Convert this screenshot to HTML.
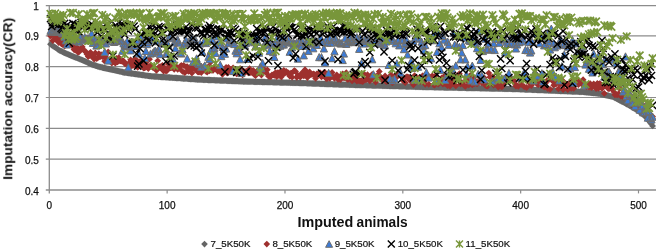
<!DOCTYPE html>
<html><head><meta charset="utf-8"><style>
html,body{margin:0;padding:0;background:#fff;}
body{width:656px;height:251px;overflow:hidden;font-family:"Liberation Sans",sans-serif;}
svg{display:block;}
.t{opacity:0.999;will-change:transform;}
</style></head><body>
<svg width="656" height="251" viewBox="0 0 656 251">
<line x1="45.8" y1="5.60" x2="656" y2="5.60" stroke="#8c8c8c" stroke-width="1.2"/><line x1="45.8" y1="35.83" x2="656" y2="35.83" stroke="#8c8c8c" stroke-width="1.2"/><line x1="45.8" y1="66.67" x2="656" y2="66.67" stroke="#8c8c8c" stroke-width="1.2"/><line x1="45.8" y1="97.50" x2="656" y2="97.50" stroke="#8c8c8c" stroke-width="1.2"/><line x1="45.8" y1="128.33" x2="656" y2="128.33" stroke="#8c8c8c" stroke-width="1.2"/><line x1="45.8" y1="159.17" x2="656" y2="159.17" stroke="#8c8c8c" stroke-width="1.2"/><line x1="49.30" y1="5.0" x2="49.30" y2="193.4" stroke="#8c8c8c" stroke-width="1.3"/><line x1="45.8" y1="190" x2="656" y2="190" stroke="#8c8c8c" stroke-width="1.3"/><line x1="167.14" y1="190" x2="167.14" y2="193.4" stroke="#8c8c8c" stroke-width="1.2"/><line x1="284.98" y1="190" x2="284.98" y2="193.4" stroke="#8c8c8c" stroke-width="1.2"/><line x1="402.82" y1="190" x2="402.82" y2="193.4" stroke="#8c8c8c" stroke-width="1.2"/><line x1="520.66" y1="190" x2="520.66" y2="193.4" stroke="#8c8c8c" stroke-width="1.2"/><line x1="638.50" y1="190" x2="638.50" y2="193.4" stroke="#8c8c8c" stroke-width="1.2"/><path fill="#656565" d="M50.5 40.8l3.4 3.4l-3.4 3.4l-3.4 -3.4zM51.7 41.6l3.4 3.4l-3.4 3.4l-3.4 -3.4zM52.8 42.4l3.4 3.4l-3.4 3.4l-3.4 -3.4zM54 43.2l3.4 3.4l-3.4 3.4l-3.4 -3.4zM55.2 44l3.4 3.4l-3.4 3.4l-3.4 -3.4zM56.4 44.8l3.4 3.4l-3.4 3.4l-3.4 -3.4zM57.5 45.6l3.4 3.4l-3.4 3.4l-3.4 -3.4zM58.7 46.4l3.4 3.4l-3.4 3.4l-3.4 -3.4zM59.9 47.2l3.4 3.4l-3.4 3.4l-3.4 -3.4zM61.1 47.8l3.4 3.4l-3.4 3.4l-3.4 -3.4zM62.3 48.3l3.4 3.4l-3.4 3.4l-3.4 -3.4zM63.4 48.9l3.4 3.4l-3.4 3.4l-3.4 -3.4zM64.6 49.4l3.4 3.4l-3.4 3.4l-3.4 -3.4zM65.8 49.9l3.4 3.4l-3.4 3.4l-3.4 -3.4zM67 50.5l3.4 3.4l-3.4 3.4l-3.4 -3.4zM68.2 51l3.4 3.4l-3.4 3.4l-3.4 -3.4zM69.3 51.5l3.4 3.4l-3.4 3.4l-3.4 -3.4zM70.5 52l3.4 3.4l-3.4 3.4l-3.4 -3.4zM71.7 52.5l3.4 3.4l-3.4 3.4l-3.4 -3.4zM72.9 52.9l3.4 3.4l-3.4 3.4l-3.4 -3.4zM74 53.4l3.4 3.4l-3.4 3.4l-3.4 -3.4zM75.2 53.9l3.4 3.4l-3.4 3.4l-3.4 -3.4zM76.4 54.3l3.4 3.4l-3.4 3.4l-3.4 -3.4zM77.6 54.8l3.4 3.4l-3.4 3.4l-3.4 -3.4zM78.8 55.3l3.4 3.4l-3.4 3.4l-3.4 -3.4zM79.9 55.8l3.4 3.4l-3.4 3.4l-3.4 -3.4zM81.1 56.3l3.4 3.4l-3.4 3.4l-3.4 -3.4zM82.3 56.8l3.4 3.4l-3.4 3.4l-3.4 -3.4zM83.5 57.3l3.4 3.4l-3.4 3.4l-3.4 -3.4zM84.7 57.8l3.4 3.4l-3.4 3.4l-3.4 -3.4zM85.8 58.3l3.4 3.4l-3.4 3.4l-3.4 -3.4zM87 58.8l3.4 3.4l-3.4 3.4l-3.4 -3.4zM88.2 59.4l3.4 3.4l-3.4 3.4l-3.4 -3.4zM89.4 59.9l3.4 3.4l-3.4 3.4l-3.4 -3.4zM90.5 60.4l3.4 3.4l-3.4 3.4l-3.4 -3.4zM91.7 60.9l3.4 3.4l-3.4 3.4l-3.4 -3.4zM92.9 61.4l3.4 3.4l-3.4 3.4l-3.4 -3.4zM94.1 61.8l3.4 3.4l-3.4 3.4l-3.4 -3.4zM95.3 62.1l3.4 3.4l-3.4 3.4l-3.4 -3.4zM96.4 62.5l3.4 3.4l-3.4 3.4l-3.4 -3.4zM97.6 62.9l3.4 3.4l-3.4 3.4l-3.4 -3.4zM98.8 63.2l3.4 3.4l-3.4 3.4l-3.4 -3.4zM100 63.6l3.4 3.4l-3.4 3.4l-3.4 -3.4zM101.1 63.8l3.4 3.4l-3.4 3.4l-3.4 -3.4zM102.3 64.1l3.4 3.4l-3.4 3.4l-3.4 -3.4zM103.5 64.4l3.4 3.4l-3.4 3.4l-3.4 -3.4zM104.7 64.6l3.4 3.4l-3.4 3.4l-3.4 -3.4zM105.9 64.9l3.4 3.4l-3.4 3.4l-3.4 -3.4zM107 65.2l3.4 3.4l-3.4 3.4l-3.4 -3.4zM108.2 65.4l3.4 3.4l-3.4 3.4l-3.4 -3.4zM109.4 65.7l3.4 3.4l-3.4 3.4l-3.4 -3.4zM110.6 66l3.4 3.4l-3.4 3.4l-3.4 -3.4zM111.8 66.2l3.4 3.4l-3.4 3.4l-3.4 -3.4zM112.9 66.5l3.4 3.4l-3.4 3.4l-3.4 -3.4zM114.1 66.7l3.4 3.4l-3.4 3.4l-3.4 -3.4zM115.3 67l3.4 3.4l-3.4 3.4l-3.4 -3.4zM116.5 67.3l3.4 3.4l-3.4 3.4l-3.4 -3.4zM117.6 67.5l3.4 3.4l-3.4 3.4l-3.4 -3.4zM118.8 67.8l3.4 3.4l-3.4 3.4l-3.4 -3.4zM120 68.1l3.4 3.4l-3.4 3.4l-3.4 -3.4zM121.2 68.3l3.4 3.4l-3.4 3.4l-3.4 -3.4zM122.4 68.6l3.4 3.4l-3.4 3.4l-3.4 -3.4zM123.5 68.9l3.4 3.4l-3.4 3.4l-3.4 -3.4zM124.7 69.1l3.4 3.4l-3.4 3.4l-3.4 -3.4zM125.9 69.3l3.4 3.4l-3.4 3.4l-3.4 -3.4zM127.1 69.5l3.4 3.4l-3.4 3.4l-3.4 -3.4zM128.3 69.6l3.4 3.4l-3.4 3.4l-3.4 -3.4zM129.4 69.8l3.4 3.4l-3.4 3.4l-3.4 -3.4zM130.6 70l3.4 3.4l-3.4 3.4l-3.4 -3.4zM131.8 70.1l3.4 3.4l-3.4 3.4l-3.4 -3.4zM133 70.3l3.4 3.4l-3.4 3.4l-3.4 -3.4zM134.1 70.5l3.4 3.4l-3.4 3.4l-3.4 -3.4zM135.3 70.6l3.4 3.4l-3.4 3.4l-3.4 -3.4zM136.5 70.8l3.4 3.4l-3.4 3.4l-3.4 -3.4zM137.7 71l3.4 3.4l-3.4 3.4l-3.4 -3.4zM138.9 71.1l3.4 3.4l-3.4 3.4l-3.4 -3.4zM140 71.3l3.4 3.4l-3.4 3.4l-3.4 -3.4zM141.2 71.5l3.4 3.4l-3.4 3.4l-3.4 -3.4zM142.4 71.6l3.4 3.4l-3.4 3.4l-3.4 -3.4zM143.6 71.8l3.4 3.4l-3.4 3.4l-3.4 -3.4zM144.8 72l3.4 3.4l-3.4 3.4l-3.4 -3.4zM145.9 72.2l3.4 3.4l-3.4 3.4l-3.4 -3.4zM147.1 72.3l3.4 3.4l-3.4 3.4l-3.4 -3.4zM148.3 72.5l3.4 3.4l-3.4 3.4l-3.4 -3.4zM149.5 72.7l3.4 3.4l-3.4 3.4l-3.4 -3.4zM150.6 72.8l3.4 3.4l-3.4 3.4l-3.4 -3.4zM151.8 72.9l3.4 3.4l-3.4 3.4l-3.4 -3.4zM153 73l3.4 3.4l-3.4 3.4l-3.4 -3.4zM154.2 73.1l3.4 3.4l-3.4 3.4l-3.4 -3.4zM155.4 73.1l3.4 3.4l-3.4 3.4l-3.4 -3.4zM156.5 73.2l3.4 3.4l-3.4 3.4l-3.4 -3.4zM157.7 73.3l3.4 3.4l-3.4 3.4l-3.4 -3.4zM158.9 73.4l3.4 3.4l-3.4 3.4l-3.4 -3.4zM160.1 73.5l3.4 3.4l-3.4 3.4l-3.4 -3.4zM161.2 73.6l3.4 3.4l-3.4 3.4l-3.4 -3.4zM162.4 73.6l3.4 3.4l-3.4 3.4l-3.4 -3.4zM163.6 73.7l3.4 3.4l-3.4 3.4l-3.4 -3.4zM164.8 73.8l3.4 3.4l-3.4 3.4l-3.4 -3.4zM166 73.9l3.4 3.4l-3.4 3.4l-3.4 -3.4zM167.1 74l3.4 3.4l-3.4 3.4l-3.4 -3.4zM168.3 74l3.4 3.4l-3.4 3.4l-3.4 -3.4zM169.5 74.1l3.4 3.4l-3.4 3.4l-3.4 -3.4zM170.7 74.2l3.4 3.4l-3.4 3.4l-3.4 -3.4zM171.9 74.3l3.4 3.4l-3.4 3.4l-3.4 -3.4zM173 74.4l3.4 3.4l-3.4 3.4l-3.4 -3.4zM174.2 74.4l3.4 3.4l-3.4 3.4l-3.4 -3.4zM175.4 74.5l3.4 3.4l-3.4 3.4l-3.4 -3.4zM176.6 74.6l3.4 3.4l-3.4 3.4l-3.4 -3.4zM177.7 74.7l3.4 3.4l-3.4 3.4l-3.4 -3.4zM178.9 74.8l3.4 3.4l-3.4 3.4l-3.4 -3.4zM180.1 74.8l3.4 3.4l-3.4 3.4l-3.4 -3.4zM181.3 74.9l3.4 3.4l-3.4 3.4l-3.4 -3.4zM182.5 75l3.4 3.4l-3.4 3.4l-3.4 -3.4zM183.6 75.1l3.4 3.4l-3.4 3.4l-3.4 -3.4zM184.8 75.2l3.4 3.4l-3.4 3.4l-3.4 -3.4zM186 75.2l3.4 3.4l-3.4 3.4l-3.4 -3.4zM187.2 75.3l3.4 3.4l-3.4 3.4l-3.4 -3.4zM188.4 75.4l3.4 3.4l-3.4 3.4l-3.4 -3.4zM189.5 75.5l3.4 3.4l-3.4 3.4l-3.4 -3.4zM190.7 75.6l3.4 3.4l-3.4 3.4l-3.4 -3.4zM191.9 75.7l3.4 3.4l-3.4 3.4l-3.4 -3.4zM193.1 75.7l3.4 3.4l-3.4 3.4l-3.4 -3.4zM194.2 75.8l3.4 3.4l-3.4 3.4l-3.4 -3.4zM195.4 75.9l3.4 3.4l-3.4 3.4l-3.4 -3.4zM196.6 76l3.4 3.4l-3.4 3.4l-3.4 -3.4zM197.8 76.1l3.4 3.4l-3.4 3.4l-3.4 -3.4zM199 76.1l3.4 3.4l-3.4 3.4l-3.4 -3.4zM200.1 76.2l3.4 3.4l-3.4 3.4l-3.4 -3.4zM201.3 76.3l3.4 3.4l-3.4 3.4l-3.4 -3.4zM202.5 76.3l3.4 3.4l-3.4 3.4l-3.4 -3.4zM203.7 76.4l3.4 3.4l-3.4 3.4l-3.4 -3.4zM204.8 76.4l3.4 3.4l-3.4 3.4l-3.4 -3.4zM206 76.5l3.4 3.4l-3.4 3.4l-3.4 -3.4zM207.2 76.5l3.4 3.4l-3.4 3.4l-3.4 -3.4zM208.4 76.6l3.4 3.4l-3.4 3.4l-3.4 -3.4zM209.6 76.6l3.4 3.4l-3.4 3.4l-3.4 -3.4zM210.7 76.7l3.4 3.4l-3.4 3.4l-3.4 -3.4zM211.9 76.7l3.4 3.4l-3.4 3.4l-3.4 -3.4zM213.1 76.8l3.4 3.4l-3.4 3.4l-3.4 -3.4zM214.3 76.8l3.4 3.4l-3.4 3.4l-3.4 -3.4zM215.5 76.9l3.4 3.4l-3.4 3.4l-3.4 -3.4zM216.6 76.9l3.4 3.4l-3.4 3.4l-3.4 -3.4zM217.8 77l3.4 3.4l-3.4 3.4l-3.4 -3.4zM219 77l3.4 3.4l-3.4 3.4l-3.4 -3.4zM220.2 77.1l3.4 3.4l-3.4 3.4l-3.4 -3.4zM221.3 77.1l3.4 3.4l-3.4 3.4l-3.4 -3.4zM222.5 77.2l3.4 3.4l-3.4 3.4l-3.4 -3.4zM223.7 77.2l3.4 3.4l-3.4 3.4l-3.4 -3.4zM224.9 77.3l3.4 3.4l-3.4 3.4l-3.4 -3.4zM226.1 77.3l3.4 3.4l-3.4 3.4l-3.4 -3.4zM227.2 77.4l3.4 3.4l-3.4 3.4l-3.4 -3.4zM228.4 77.4l3.4 3.4l-3.4 3.4l-3.4 -3.4zM229.6 77.5l3.4 3.4l-3.4 3.4l-3.4 -3.4zM230.8 77.5l3.4 3.4l-3.4 3.4l-3.4 -3.4zM232 77.6l3.4 3.4l-3.4 3.4l-3.4 -3.4zM233.1 77.6l3.4 3.4l-3.4 3.4l-3.4 -3.4zM234.3 77.7l3.4 3.4l-3.4 3.4l-3.4 -3.4zM235.5 77.7l3.4 3.4l-3.4 3.4l-3.4 -3.4zM236.7 77.8l3.4 3.4l-3.4 3.4l-3.4 -3.4zM237.8 77.8l3.4 3.4l-3.4 3.4l-3.4 -3.4zM239 77.9l3.4 3.4l-3.4 3.4l-3.4 -3.4zM240.2 77.9l3.4 3.4l-3.4 3.4l-3.4 -3.4zM241.4 78l3.4 3.4l-3.4 3.4l-3.4 -3.4zM242.6 78l3.4 3.4l-3.4 3.4l-3.4 -3.4zM243.7 78.1l3.4 3.4l-3.4 3.4l-3.4 -3.4zM244.9 78.1l3.4 3.4l-3.4 3.4l-3.4 -3.4zM246.1 78.1l3.4 3.4l-3.4 3.4l-3.4 -3.4zM247.3 78.2l3.4 3.4l-3.4 3.4l-3.4 -3.4zM248.4 78.2l3.4 3.4l-3.4 3.4l-3.4 -3.4zM249.6 78.2l3.4 3.4l-3.4 3.4l-3.4 -3.4zM250.8 78.3l3.4 3.4l-3.4 3.4l-3.4 -3.4zM252 78.3l3.4 3.4l-3.4 3.4l-3.4 -3.4zM253.2 78.3l3.4 3.4l-3.4 3.4l-3.4 -3.4zM254.3 78.4l3.4 3.4l-3.4 3.4l-3.4 -3.4zM255.5 78.4l3.4 3.4l-3.4 3.4l-3.4 -3.4zM256.7 78.4l3.4 3.4l-3.4 3.4l-3.4 -3.4zM257.9 78.5l3.4 3.4l-3.4 3.4l-3.4 -3.4zM259.1 78.5l3.4 3.4l-3.4 3.4l-3.4 -3.4zM260.2 78.5l3.4 3.4l-3.4 3.4l-3.4 -3.4zM261.4 78.5l3.4 3.4l-3.4 3.4l-3.4 -3.4zM262.6 78.6l3.4 3.4l-3.4 3.4l-3.4 -3.4zM263.8 78.6l3.4 3.4l-3.4 3.4l-3.4 -3.4zM264.9 78.6l3.4 3.4l-3.4 3.4l-3.4 -3.4zM266.1 78.7l3.4 3.4l-3.4 3.4l-3.4 -3.4zM267.3 78.7l3.4 3.4l-3.4 3.4l-3.4 -3.4zM268.5 78.7l3.4 3.4l-3.4 3.4l-3.4 -3.4zM269.7 78.8l3.4 3.4l-3.4 3.4l-3.4 -3.4zM270.8 78.8l3.4 3.4l-3.4 3.4l-3.4 -3.4zM272 78.8l3.4 3.4l-3.4 3.4l-3.4 -3.4zM273.2 78.9l3.4 3.4l-3.4 3.4l-3.4 -3.4zM274.4 78.9l3.4 3.4l-3.4 3.4l-3.4 -3.4zM275.6 78.9l3.4 3.4l-3.4 3.4l-3.4 -3.4zM276.7 79l3.4 3.4l-3.4 3.4l-3.4 -3.4zM277.9 79l3.4 3.4l-3.4 3.4l-3.4 -3.4zM279.1 79l3.4 3.4l-3.4 3.4l-3.4 -3.4zM280.3 79.1l3.4 3.4l-3.4 3.4l-3.4 -3.4zM281.4 79.1l3.4 3.4l-3.4 3.4l-3.4 -3.4zM282.6 79.1l3.4 3.4l-3.4 3.4l-3.4 -3.4zM283.8 79.2l3.4 3.4l-3.4 3.4l-3.4 -3.4zM285 79.2l3.4 3.4l-3.4 3.4l-3.4 -3.4zM286.2 79.2l3.4 3.4l-3.4 3.4l-3.4 -3.4zM287.3 79.3l3.4 3.4l-3.4 3.4l-3.4 -3.4zM288.5 79.3l3.4 3.4l-3.4 3.4l-3.4 -3.4zM289.7 79.3l3.4 3.4l-3.4 3.4l-3.4 -3.4zM290.9 79.4l3.4 3.4l-3.4 3.4l-3.4 -3.4zM292.1 79.4l3.4 3.4l-3.4 3.4l-3.4 -3.4zM293.2 79.4l3.4 3.4l-3.4 3.4l-3.4 -3.4zM294.4 79.4l3.4 3.4l-3.4 3.4l-3.4 -3.4zM295.6 79.5l3.4 3.4l-3.4 3.4l-3.4 -3.4zM296.8 79.5l3.4 3.4l-3.4 3.4l-3.4 -3.4zM297.9 79.5l3.4 3.4l-3.4 3.4l-3.4 -3.4zM299.1 79.6l3.4 3.4l-3.4 3.4l-3.4 -3.4zM300.3 79.6l3.4 3.4l-3.4 3.4l-3.4 -3.4zM301.5 79.7l3.4 3.4l-3.4 3.4l-3.4 -3.4zM302.7 79.7l3.4 3.4l-3.4 3.4l-3.4 -3.4zM303.8 79.7l3.4 3.4l-3.4 3.4l-3.4 -3.4zM305 79.8l3.4 3.4l-3.4 3.4l-3.4 -3.4zM306.2 79.8l3.4 3.4l-3.4 3.4l-3.4 -3.4zM307.4 79.9l3.4 3.4l-3.4 3.4l-3.4 -3.4zM308.5 79.9l3.4 3.4l-3.4 3.4l-3.4 -3.4zM309.7 80l3.4 3.4l-3.4 3.4l-3.4 -3.4zM310.9 80l3.4 3.4l-3.4 3.4l-3.4 -3.4zM312.1 80.1l3.4 3.4l-3.4 3.4l-3.4 -3.4zM313.3 80.1l3.4 3.4l-3.4 3.4l-3.4 -3.4zM314.4 80.2l3.4 3.4l-3.4 3.4l-3.4 -3.4zM315.6 80.2l3.4 3.4l-3.4 3.4l-3.4 -3.4zM316.8 80.2l3.4 3.4l-3.4 3.4l-3.4 -3.4zM318 80.3l3.4 3.4l-3.4 3.4l-3.4 -3.4zM319.2 80.3l3.4 3.4l-3.4 3.4l-3.4 -3.4zM320.3 80.4l3.4 3.4l-3.4 3.4l-3.4 -3.4zM321.5 80.4l3.4 3.4l-3.4 3.4l-3.4 -3.4zM322.7 80.5l3.4 3.4l-3.4 3.4l-3.4 -3.4zM323.9 80.5l3.4 3.4l-3.4 3.4l-3.4 -3.4zM325 80.6l3.4 3.4l-3.4 3.4l-3.4 -3.4zM326.2 80.6l3.4 3.4l-3.4 3.4l-3.4 -3.4zM327.4 80.7l3.4 3.4l-3.4 3.4l-3.4 -3.4zM328.6 80.7l3.4 3.4l-3.4 3.4l-3.4 -3.4zM329.8 80.8l3.4 3.4l-3.4 3.4l-3.4 -3.4zM330.9 80.8l3.4 3.4l-3.4 3.4l-3.4 -3.4zM332.1 80.8l3.4 3.4l-3.4 3.4l-3.4 -3.4zM333.3 80.9l3.4 3.4l-3.4 3.4l-3.4 -3.4zM334.5 80.9l3.4 3.4l-3.4 3.4l-3.4 -3.4zM335.7 80.9l3.4 3.4l-3.4 3.4l-3.4 -3.4zM336.8 81l3.4 3.4l-3.4 3.4l-3.4 -3.4zM338 81l3.4 3.4l-3.4 3.4l-3.4 -3.4zM339.2 81.1l3.4 3.4l-3.4 3.4l-3.4 -3.4zM340.4 81.1l3.4 3.4l-3.4 3.4l-3.4 -3.4zM341.5 81.1l3.4 3.4l-3.4 3.4l-3.4 -3.4zM342.7 81.2l3.4 3.4l-3.4 3.4l-3.4 -3.4zM343.9 81.2l3.4 3.4l-3.4 3.4l-3.4 -3.4zM345.1 81.2l3.4 3.4l-3.4 3.4l-3.4 -3.4zM346.3 81.3l3.4 3.4l-3.4 3.4l-3.4 -3.4zM347.4 81.3l3.4 3.4l-3.4 3.4l-3.4 -3.4zM348.6 81.3l3.4 3.4l-3.4 3.4l-3.4 -3.4zM349.8 81.4l3.4 3.4l-3.4 3.4l-3.4 -3.4zM351 81.4l3.4 3.4l-3.4 3.4l-3.4 -3.4zM352.1 81.4l3.4 3.4l-3.4 3.4l-3.4 -3.4zM353.3 81.5l3.4 3.4l-3.4 3.4l-3.4 -3.4zM354.5 81.5l3.4 3.4l-3.4 3.4l-3.4 -3.4zM355.7 81.6l3.4 3.4l-3.4 3.4l-3.4 -3.4zM356.9 81.6l3.4 3.4l-3.4 3.4l-3.4 -3.4zM358 81.6l3.4 3.4l-3.4 3.4l-3.4 -3.4zM359.2 81.7l3.4 3.4l-3.4 3.4l-3.4 -3.4zM360.4 81.7l3.4 3.4l-3.4 3.4l-3.4 -3.4zM361.6 81.7l3.4 3.4l-3.4 3.4l-3.4 -3.4zM362.8 81.8l3.4 3.4l-3.4 3.4l-3.4 -3.4zM363.9 81.8l3.4 3.4l-3.4 3.4l-3.4 -3.4zM365.1 81.8l3.4 3.4l-3.4 3.4l-3.4 -3.4zM366.3 81.9l3.4 3.4l-3.4 3.4l-3.4 -3.4zM367.5 81.9l3.4 3.4l-3.4 3.4l-3.4 -3.4zM368.6 81.9l3.4 3.4l-3.4 3.4l-3.4 -3.4zM369.8 82l3.4 3.4l-3.4 3.4l-3.4 -3.4zM371 82l3.4 3.4l-3.4 3.4l-3.4 -3.4zM372.2 82.1l3.4 3.4l-3.4 3.4l-3.4 -3.4zM373.4 82.1l3.4 3.4l-3.4 3.4l-3.4 -3.4zM374.5 82.1l3.4 3.4l-3.4 3.4l-3.4 -3.4zM375.7 82.2l3.4 3.4l-3.4 3.4l-3.4 -3.4zM376.9 82.2l3.4 3.4l-3.4 3.4l-3.4 -3.4zM378.1 82.2l3.4 3.4l-3.4 3.4l-3.4 -3.4zM379.3 82.3l3.4 3.4l-3.4 3.4l-3.4 -3.4zM380.4 82.3l3.4 3.4l-3.4 3.4l-3.4 -3.4zM381.6 82.3l3.4 3.4l-3.4 3.4l-3.4 -3.4zM382.8 82.4l3.4 3.4l-3.4 3.4l-3.4 -3.4zM384 82.4l3.4 3.4l-3.4 3.4l-3.4 -3.4zM385.1 82.4l3.4 3.4l-3.4 3.4l-3.4 -3.4zM386.3 82.5l3.4 3.4l-3.4 3.4l-3.4 -3.4zM387.5 82.5l3.4 3.4l-3.4 3.4l-3.4 -3.4zM388.7 82.5l3.4 3.4l-3.4 3.4l-3.4 -3.4zM389.9 82.6l3.4 3.4l-3.4 3.4l-3.4 -3.4zM391 82.6l3.4 3.4l-3.4 3.4l-3.4 -3.4zM392.2 82.7l3.4 3.4l-3.4 3.4l-3.4 -3.4zM393.4 82.7l3.4 3.4l-3.4 3.4l-3.4 -3.4zM394.6 82.7l3.4 3.4l-3.4 3.4l-3.4 -3.4zM395.7 82.8l3.4 3.4l-3.4 3.4l-3.4 -3.4zM396.9 82.8l3.4 3.4l-3.4 3.4l-3.4 -3.4zM398.1 82.8l3.4 3.4l-3.4 3.4l-3.4 -3.4zM399.3 82.9l3.4 3.4l-3.4 3.4l-3.4 -3.4zM400.5 82.9l3.4 3.4l-3.4 3.4l-3.4 -3.4zM401.6 82.9l3.4 3.4l-3.4 3.4l-3.4 -3.4zM402.8 83l3.4 3.4l-3.4 3.4l-3.4 -3.4zM404 83l3.4 3.4l-3.4 3.4l-3.4 -3.4zM405.2 83l3.4 3.4l-3.4 3.4l-3.4 -3.4zM406.4 83.1l3.4 3.4l-3.4 3.4l-3.4 -3.4zM407.5 83.1l3.4 3.4l-3.4 3.4l-3.4 -3.4zM408.7 83.2l3.4 3.4l-3.4 3.4l-3.4 -3.4zM409.9 83.2l3.4 3.4l-3.4 3.4l-3.4 -3.4zM411.1 83.2l3.4 3.4l-3.4 3.4l-3.4 -3.4zM412.2 83.3l3.4 3.4l-3.4 3.4l-3.4 -3.4zM413.4 83.3l3.4 3.4l-3.4 3.4l-3.4 -3.4zM414.6 83.3l3.4 3.4l-3.4 3.4l-3.4 -3.4zM415.8 83.4l3.4 3.4l-3.4 3.4l-3.4 -3.4zM417 83.4l3.4 3.4l-3.4 3.4l-3.4 -3.4zM418.1 83.4l3.4 3.4l-3.4 3.4l-3.4 -3.4zM419.3 83.5l3.4 3.4l-3.4 3.4l-3.4 -3.4zM420.5 83.5l3.4 3.4l-3.4 3.4l-3.4 -3.4zM421.7 83.5l3.4 3.4l-3.4 3.4l-3.4 -3.4zM422.9 83.6l3.4 3.4l-3.4 3.4l-3.4 -3.4zM424 83.6l3.4 3.4l-3.4 3.4l-3.4 -3.4zM425.2 83.6l3.4 3.4l-3.4 3.4l-3.4 -3.4zM426.4 83.7l3.4 3.4l-3.4 3.4l-3.4 -3.4zM427.6 83.7l3.4 3.4l-3.4 3.4l-3.4 -3.4zM428.7 83.7l3.4 3.4l-3.4 3.4l-3.4 -3.4zM429.9 83.7l3.4 3.4l-3.4 3.4l-3.4 -3.4zM431.1 83.8l3.4 3.4l-3.4 3.4l-3.4 -3.4zM432.3 83.8l3.4 3.4l-3.4 3.4l-3.4 -3.4zM433.5 83.8l3.4 3.4l-3.4 3.4l-3.4 -3.4zM434.6 83.9l3.4 3.4l-3.4 3.4l-3.4 -3.4zM435.8 83.9l3.4 3.4l-3.4 3.4l-3.4 -3.4zM437 83.9l3.4 3.4l-3.4 3.4l-3.4 -3.4zM438.2 83.9l3.4 3.4l-3.4 3.4l-3.4 -3.4zM439.4 84l3.4 3.4l-3.4 3.4l-3.4 -3.4zM440.5 84l3.4 3.4l-3.4 3.4l-3.4 -3.4zM441.7 84l3.4 3.4l-3.4 3.4l-3.4 -3.4zM442.9 84l3.4 3.4l-3.4 3.4l-3.4 -3.4zM444.1 84.1l3.4 3.4l-3.4 3.4l-3.4 -3.4zM445.2 84.1l3.4 3.4l-3.4 3.4l-3.4 -3.4zM446.4 84.1l3.4 3.4l-3.4 3.4l-3.4 -3.4zM447.6 84.1l3.4 3.4l-3.4 3.4l-3.4 -3.4zM448.8 84.2l3.4 3.4l-3.4 3.4l-3.4 -3.4zM450 84.2l3.4 3.4l-3.4 3.4l-3.4 -3.4zM451.1 84.2l3.4 3.4l-3.4 3.4l-3.4 -3.4zM452.3 84.2l3.4 3.4l-3.4 3.4l-3.4 -3.4zM453.5 84.3l3.4 3.4l-3.4 3.4l-3.4 -3.4zM454.7 84.3l3.4 3.4l-3.4 3.4l-3.4 -3.4zM455.8 84.3l3.4 3.4l-3.4 3.4l-3.4 -3.4zM457 84.3l3.4 3.4l-3.4 3.4l-3.4 -3.4zM458.2 84.4l3.4 3.4l-3.4 3.4l-3.4 -3.4zM459.4 84.4l3.4 3.4l-3.4 3.4l-3.4 -3.4zM460.6 84.4l3.4 3.4l-3.4 3.4l-3.4 -3.4zM461.7 84.4l3.4 3.4l-3.4 3.4l-3.4 -3.4zM462.9 84.5l3.4 3.4l-3.4 3.4l-3.4 -3.4zM464.1 84.5l3.4 3.4l-3.4 3.4l-3.4 -3.4zM465.3 84.5l3.4 3.4l-3.4 3.4l-3.4 -3.4zM466.5 84.6l3.4 3.4l-3.4 3.4l-3.4 -3.4zM467.6 84.6l3.4 3.4l-3.4 3.4l-3.4 -3.4zM468.8 84.6l3.4 3.4l-3.4 3.4l-3.4 -3.4zM470 84.6l3.4 3.4l-3.4 3.4l-3.4 -3.4zM471.2 84.7l3.4 3.4l-3.4 3.4l-3.4 -3.4zM472.3 84.7l3.4 3.4l-3.4 3.4l-3.4 -3.4zM473.5 84.7l3.4 3.4l-3.4 3.4l-3.4 -3.4zM474.7 84.7l3.4 3.4l-3.4 3.4l-3.4 -3.4zM475.9 84.8l3.4 3.4l-3.4 3.4l-3.4 -3.4zM477.1 84.8l3.4 3.4l-3.4 3.4l-3.4 -3.4zM478.2 84.8l3.4 3.4l-3.4 3.4l-3.4 -3.4zM479.4 84.8l3.4 3.4l-3.4 3.4l-3.4 -3.4zM480.6 84.9l3.4 3.4l-3.4 3.4l-3.4 -3.4zM481.8 84.9l3.4 3.4l-3.4 3.4l-3.4 -3.4zM483 84.9l3.4 3.4l-3.4 3.4l-3.4 -3.4zM484.1 84.9l3.4 3.4l-3.4 3.4l-3.4 -3.4zM485.3 85l3.4 3.4l-3.4 3.4l-3.4 -3.4zM486.5 85l3.4 3.4l-3.4 3.4l-3.4 -3.4zM487.7 85l3.4 3.4l-3.4 3.4l-3.4 -3.4zM488.8 85l3.4 3.4l-3.4 3.4l-3.4 -3.4zM490 85.1l3.4 3.4l-3.4 3.4l-3.4 -3.4zM491.2 85.1l3.4 3.4l-3.4 3.4l-3.4 -3.4zM492.4 85.1l3.4 3.4l-3.4 3.4l-3.4 -3.4zM493.6 85.1l3.4 3.4l-3.4 3.4l-3.4 -3.4zM494.7 85.2l3.4 3.4l-3.4 3.4l-3.4 -3.4zM495.9 85.2l3.4 3.4l-3.4 3.4l-3.4 -3.4zM497.1 85.2l3.4 3.4l-3.4 3.4l-3.4 -3.4zM498.3 85.3l3.4 3.4l-3.4 3.4l-3.4 -3.4zM499.4 85.3l3.4 3.4l-3.4 3.4l-3.4 -3.4zM500.6 85.3l3.4 3.4l-3.4 3.4l-3.4 -3.4zM501.8 85.3l3.4 3.4l-3.4 3.4l-3.4 -3.4zM503 85.4l3.4 3.4l-3.4 3.4l-3.4 -3.4zM504.2 85.4l3.4 3.4l-3.4 3.4l-3.4 -3.4zM505.3 85.4l3.4 3.4l-3.4 3.4l-3.4 -3.4zM506.5 85.4l3.4 3.4l-3.4 3.4l-3.4 -3.4zM507.7 85.5l3.4 3.4l-3.4 3.4l-3.4 -3.4zM508.9 85.5l3.4 3.4l-3.4 3.4l-3.4 -3.4zM510.1 85.5l3.4 3.4l-3.4 3.4l-3.4 -3.4zM511.2 85.5l3.4 3.4l-3.4 3.4l-3.4 -3.4zM512.4 85.6l3.4 3.4l-3.4 3.4l-3.4 -3.4zM513.6 85.6l3.4 3.4l-3.4 3.4l-3.4 -3.4zM514.8 85.6l3.4 3.4l-3.4 3.4l-3.4 -3.4zM515.9 85.7l3.4 3.4l-3.4 3.4l-3.4 -3.4zM517.1 85.7l3.4 3.4l-3.4 3.4l-3.4 -3.4zM518.3 85.8l3.4 3.4l-3.4 3.4l-3.4 -3.4zM519.5 85.8l3.4 3.4l-3.4 3.4l-3.4 -3.4zM520.7 85.9l3.4 3.4l-3.4 3.4l-3.4 -3.4zM521.8 85.9l3.4 3.4l-3.4 3.4l-3.4 -3.4zM523 86l3.4 3.4l-3.4 3.4l-3.4 -3.4zM524.2 86l3.4 3.4l-3.4 3.4l-3.4 -3.4zM525.4 86.1l3.4 3.4l-3.4 3.4l-3.4 -3.4zM526.6 86.1l3.4 3.4l-3.4 3.4l-3.4 -3.4zM527.7 86.2l3.4 3.4l-3.4 3.4l-3.4 -3.4zM528.9 86.2l3.4 3.4l-3.4 3.4l-3.4 -3.4zM530.1 86.3l3.4 3.4l-3.4 3.4l-3.4 -3.4zM531.3 86.3l3.4 3.4l-3.4 3.4l-3.4 -3.4zM532.4 86.4l3.4 3.4l-3.4 3.4l-3.4 -3.4zM533.6 86.4l3.4 3.4l-3.4 3.4l-3.4 -3.4zM534.8 86.5l3.4 3.4l-3.4 3.4l-3.4 -3.4zM536 86.5l3.4 3.4l-3.4 3.4l-3.4 -3.4zM537.2 86.6l3.4 3.4l-3.4 3.4l-3.4 -3.4zM538.3 86.6l3.4 3.4l-3.4 3.4l-3.4 -3.4zM539.5 86.7l3.4 3.4l-3.4 3.4l-3.4 -3.4zM540.7 86.7l3.4 3.4l-3.4 3.4l-3.4 -3.4zM541.9 86.8l3.4 3.4l-3.4 3.4l-3.4 -3.4zM543 86.8l3.4 3.4l-3.4 3.4l-3.4 -3.4zM544.2 86.9l3.4 3.4l-3.4 3.4l-3.4 -3.4zM545.4 86.9l3.4 3.4l-3.4 3.4l-3.4 -3.4zM546.6 87l3.4 3.4l-3.4 3.4l-3.4 -3.4zM547.8 87l3.4 3.4l-3.4 3.4l-3.4 -3.4zM548.9 87.1l3.4 3.4l-3.4 3.4l-3.4 -3.4zM550.1 87.1l3.4 3.4l-3.4 3.4l-3.4 -3.4zM551.3 87.2l3.4 3.4l-3.4 3.4l-3.4 -3.4zM552.5 87.2l3.4 3.4l-3.4 3.4l-3.4 -3.4zM553.7 87.3l3.4 3.4l-3.4 3.4l-3.4 -3.4zM554.8 87.3l3.4 3.4l-3.4 3.4l-3.4 -3.4zM556 87.4l3.4 3.4l-3.4 3.4l-3.4 -3.4zM557.2 87.4l3.4 3.4l-3.4 3.4l-3.4 -3.4zM558.4 87.5l3.4 3.4l-3.4 3.4l-3.4 -3.4zM559.5 87.5l3.4 3.4l-3.4 3.4l-3.4 -3.4zM560.7 87.6l3.4 3.4l-3.4 3.4l-3.4 -3.4zM561.9 87.6l3.4 3.4l-3.4 3.4l-3.4 -3.4zM563.1 87.7l3.4 3.4l-3.4 3.4l-3.4 -3.4zM564.3 87.7l3.4 3.4l-3.4 3.4l-3.4 -3.4zM565.4 87.8l3.4 3.4l-3.4 3.4l-3.4 -3.4zM566.6 87.8l3.4 3.4l-3.4 3.4l-3.4 -3.4zM567.8 87.9l3.4 3.4l-3.4 3.4l-3.4 -3.4zM569 87.9l3.4 3.4l-3.4 3.4l-3.4 -3.4zM570.2 88l3.4 3.4l-3.4 3.4l-3.4 -3.4zM571.3 88l3.4 3.4l-3.4 3.4l-3.4 -3.4zM572.5 88.1l3.4 3.4l-3.4 3.4l-3.4 -3.4zM573.7 88.1l3.4 3.4l-3.4 3.4l-3.4 -3.4zM574.9 88.2l3.4 3.4l-3.4 3.4l-3.4 -3.4zM576 88.2l3.4 3.4l-3.4 3.4l-3.4 -3.4zM577.2 88.3l3.4 3.4l-3.4 3.4l-3.4 -3.4zM578.4 88.3l3.4 3.4l-3.4 3.4l-3.4 -3.4zM579.6 88.4l3.4 3.4l-3.4 3.4l-3.4 -3.4zM580.8 88.4l3.4 3.4l-3.4 3.4l-3.4 -3.4zM581.9 88.5l3.4 3.4l-3.4 3.4l-3.4 -3.4zM583.1 88.5l3.4 3.4l-3.4 3.4l-3.4 -3.4zM584.3 88.7l3.4 3.4l-3.4 3.4l-3.4 -3.4zM585.5 88.8l3.4 3.4l-3.4 3.4l-3.4 -3.4zM586.7 88.9l3.4 3.4l-3.4 3.4l-3.4 -3.4zM587.8 89l3.4 3.4l-3.4 3.4l-3.4 -3.4zM589 89.1l3.4 3.4l-3.4 3.4l-3.4 -3.4zM590.2 89.3l3.4 3.4l-3.4 3.4l-3.4 -3.4zM591.4 89.4l3.4 3.4l-3.4 3.4l-3.4 -3.4zM592.5 89.5l3.4 3.4l-3.4 3.4l-3.4 -3.4zM593.7 89.6l3.4 3.4l-3.4 3.4l-3.4 -3.4zM594.9 89.7l3.4 3.4l-3.4 3.4l-3.4 -3.4zM596.1 89.9l3.4 3.4l-3.4 3.4l-3.4 -3.4zM597.3 90l3.4 3.4l-3.4 3.4l-3.4 -3.4zM598.4 90.1l3.4 3.4l-3.4 3.4l-3.4 -3.4zM599.6 90.3l3.4 3.4l-3.4 3.4l-3.4 -3.4zM600.8 90.6l3.4 3.4l-3.4 3.4l-3.4 -3.4zM602 90.9l3.4 3.4l-3.4 3.4l-3.4 -3.4zM603.1 91.1l3.4 3.4l-3.4 3.4l-3.4 -3.4zM604.3 91.4l3.4 3.4l-3.4 3.4l-3.4 -3.4zM605.5 91.6l3.4 3.4l-3.4 3.4l-3.4 -3.4zM606.7 91.9l3.4 3.4l-3.4 3.4l-3.4 -3.4zM607.9 92.1l3.4 3.4l-3.4 3.4l-3.4 -3.4zM609 92.4l3.4 3.4l-3.4 3.4l-3.4 -3.4zM610.2 92.7l3.4 3.4l-3.4 3.4l-3.4 -3.4zM611.4 92.9l3.4 3.4l-3.4 3.4l-3.4 -3.4zM612.6 93.2l3.4 3.4l-3.4 3.4l-3.4 -3.4zM613.8 93.8l3.4 3.4l-3.4 3.4l-3.4 -3.4zM614.9 94.4l3.4 3.4l-3.4 3.4l-3.4 -3.4zM616.1 95l3.4 3.4l-3.4 3.4l-3.4 -3.4zM617.3 95.6l3.4 3.4l-3.4 3.4l-3.4 -3.4zM618.5 96.3l3.4 3.4l-3.4 3.4l-3.4 -3.4zM619.6 96.9l3.4 3.4l-3.4 3.4l-3.4 -3.4zM620.8 97.5l3.4 3.4l-3.4 3.4l-3.4 -3.4zM622 98.1l3.4 3.4l-3.4 3.4l-3.4 -3.4zM623.2 98.7l3.4 3.4l-3.4 3.4l-3.4 -3.4zM624.4 99.3l3.4 3.4l-3.4 3.4l-3.4 -3.4zM625.5 100l3.4 3.4l-3.4 3.4l-3.4 -3.4zM626.7 100.6l3.4 3.4l-3.4 3.4l-3.4 -3.4zM627.9 101.2l3.4 3.4l-3.4 3.4l-3.4 -3.4zM629.1 101.9l3.4 3.4l-3.4 3.4l-3.4 -3.4zM630.3 102.6l3.4 3.4l-3.4 3.4l-3.4 -3.4zM631.4 103.3l3.4 3.4l-3.4 3.4l-3.4 -3.4zM632.6 104.1l3.4 3.4l-3.4 3.4l-3.4 -3.4zM633.8 104.8l3.4 3.4l-3.4 3.4l-3.4 -3.4zM635 105.5l3.4 3.4l-3.4 3.4l-3.4 -3.4zM636.1 106.2l3.4 3.4l-3.4 3.4l-3.4 -3.4zM637.3 106.9l3.4 3.4l-3.4 3.4l-3.4 -3.4zM638.5 107.7l3.4 3.4l-3.4 3.4l-3.4 -3.4zM639.7 108.6l3.4 3.4l-3.4 3.4l-3.4 -3.4zM640.9 109.5l3.4 3.4l-3.4 3.4l-3.4 -3.4zM642 110.4l3.4 3.4l-3.4 3.4l-3.4 -3.4zM643.2 111.4l3.4 3.4l-3.4 3.4l-3.4 -3.4zM644.4 112.3l3.4 3.4l-3.4 3.4l-3.4 -3.4zM645.6 113.2l3.4 3.4l-3.4 3.4l-3.4 -3.4zM646.7 114.8l3.4 3.4l-3.4 3.4l-3.4 -3.4zM647.9 116.3l3.4 3.4l-3.4 3.4l-3.4 -3.4zM649.1 117.8l3.4 3.4l-3.4 3.4l-3.4 -3.4zM650.3 119.4l3.4 3.4l-3.4 3.4l-3.4 -3.4zM651.5 120.9l3.4 3.4l-3.4 3.4l-3.4 -3.4zM652.6 122.5l3.4 3.4l-3.4 3.4l-3.4 -3.4z"/><path fill="#9e302e" d="M50.5 32.5l3.4 3.4l-3.4 3.4l-3.4 -3.4zM51.7 29.4l3.4 3.4l-3.4 3.4l-3.4 -3.4zM52.8 37.2l3.4 3.4l-3.4 3.4l-3.4 -3.4zM54 32.5l3.4 3.4l-3.4 3.4l-3.4 -3.4zM55.2 35.6l3.4 3.4l-3.4 3.4l-3.4 -3.4zM56.4 32l3.4 3.4l-3.4 3.4l-3.4 -3.4zM57.5 37.5l3.4 3.4l-3.4 3.4l-3.4 -3.4zM58.7 39.1l3.4 3.4l-3.4 3.4l-3.4 -3.4zM59.9 34.7l3.4 3.4l-3.4 3.4l-3.4 -3.4zM61.1 40.2l3.4 3.4l-3.4 3.4l-3.4 -3.4zM62.3 40.9l3.4 3.4l-3.4 3.4l-3.4 -3.4zM63.4 38.7l3.4 3.4l-3.4 3.4l-3.4 -3.4zM64.6 42.6l3.4 3.4l-3.4 3.4l-3.4 -3.4zM65.8 41.3l3.4 3.4l-3.4 3.4l-3.4 -3.4zM67 41.2l3.4 3.4l-3.4 3.4l-3.4 -3.4zM68.2 41.3l3.4 3.4l-3.4 3.4l-3.4 -3.4zM69.3 37.9l3.4 3.4l-3.4 3.4l-3.4 -3.4zM70.5 40.1l3.4 3.4l-3.4 3.4l-3.4 -3.4zM71.7 42l3.4 3.4l-3.4 3.4l-3.4 -3.4zM72.9 36l3.4 3.4l-3.4 3.4l-3.4 -3.4zM74 46.1l3.4 3.4l-3.4 3.4l-3.4 -3.4zM75.2 46.8l3.4 3.4l-3.4 3.4l-3.4 -3.4zM76.4 43.6l3.4 3.4l-3.4 3.4l-3.4 -3.4zM77.6 48.4l3.4 3.4l-3.4 3.4l-3.4 -3.4zM78.8 48.8l3.4 3.4l-3.4 3.4l-3.4 -3.4zM79.9 45.7l3.4 3.4l-3.4 3.4l-3.4 -3.4zM81.1 46.5l3.4 3.4l-3.4 3.4l-3.4 -3.4zM82.3 43.6l3.4 3.4l-3.4 3.4l-3.4 -3.4zM83.5 46.3l3.4 3.4l-3.4 3.4l-3.4 -3.4zM84.7 47.7l3.4 3.4l-3.4 3.4l-3.4 -3.4zM85.8 48.3l3.4 3.4l-3.4 3.4l-3.4 -3.4zM87 50.8l3.4 3.4l-3.4 3.4l-3.4 -3.4zM88.2 53.1l3.4 3.4l-3.4 3.4l-3.4 -3.4zM89.4 52.3l3.4 3.4l-3.4 3.4l-3.4 -3.4zM90.5 48.9l3.4 3.4l-3.4 3.4l-3.4 -3.4zM91.7 53.2l3.4 3.4l-3.4 3.4l-3.4 -3.4zM92.9 52.4l3.4 3.4l-3.4 3.4l-3.4 -3.4zM94.1 55.6l3.4 3.4l-3.4 3.4l-3.4 -3.4zM95.3 49.6l3.4 3.4l-3.4 3.4l-3.4 -3.4zM96.4 55.2l3.4 3.4l-3.4 3.4l-3.4 -3.4zM97.6 54.7l3.4 3.4l-3.4 3.4l-3.4 -3.4zM98.8 50.3l3.4 3.4l-3.4 3.4l-3.4 -3.4zM100 53.5l3.4 3.4l-3.4 3.4l-3.4 -3.4zM101.1 51.2l3.4 3.4l-3.4 3.4l-3.4 -3.4zM102.3 53.1l3.4 3.4l-3.4 3.4l-3.4 -3.4zM103.5 51.1l3.4 3.4l-3.4 3.4l-3.4 -3.4zM104.7 57.8l3.4 3.4l-3.4 3.4l-3.4 -3.4zM105.9 54.6l3.4 3.4l-3.4 3.4l-3.4 -3.4zM107 55.1l3.4 3.4l-3.4 3.4l-3.4 -3.4zM108.2 48.5l3.4 3.4l-3.4 3.4l-3.4 -3.4zM109.4 56.8l3.4 3.4l-3.4 3.4l-3.4 -3.4zM110.6 55.2l3.4 3.4l-3.4 3.4l-3.4 -3.4zM111.8 59.7l3.4 3.4l-3.4 3.4l-3.4 -3.4zM112.9 57.4l3.4 3.4l-3.4 3.4l-3.4 -3.4zM114.1 58.2l3.4 3.4l-3.4 3.4l-3.4 -3.4zM115.3 59.8l3.4 3.4l-3.4 3.4l-3.4 -3.4zM116.5 54.9l3.4 3.4l-3.4 3.4l-3.4 -3.4zM117.6 58.5l3.4 3.4l-3.4 3.4l-3.4 -3.4zM118.8 54.2l3.4 3.4l-3.4 3.4l-3.4 -3.4zM120 57.4l3.4 3.4l-3.4 3.4l-3.4 -3.4zM121.2 57.6l3.4 3.4l-3.4 3.4l-3.4 -3.4zM122.4 57.6l3.4 3.4l-3.4 3.4l-3.4 -3.4zM123.5 57.6l3.4 3.4l-3.4 3.4l-3.4 -3.4zM124.7 60.1l3.4 3.4l-3.4 3.4l-3.4 -3.4zM125.9 59.9l3.4 3.4l-3.4 3.4l-3.4 -3.4zM127.1 61.6l3.4 3.4l-3.4 3.4l-3.4 -3.4zM128.3 60.5l3.4 3.4l-3.4 3.4l-3.4 -3.4zM129.4 63l3.4 3.4l-3.4 3.4l-3.4 -3.4zM130.6 56.4l3.4 3.4l-3.4 3.4l-3.4 -3.4zM131.8 62.5l3.4 3.4l-3.4 3.4l-3.4 -3.4zM133 59.1l3.4 3.4l-3.4 3.4l-3.4 -3.4zM134.1 62.1l3.4 3.4l-3.4 3.4l-3.4 -3.4zM135.3 55.5l3.4 3.4l-3.4 3.4l-3.4 -3.4zM136.5 59.7l3.4 3.4l-3.4 3.4l-3.4 -3.4zM137.7 64l3.4 3.4l-3.4 3.4l-3.4 -3.4zM138.9 58.6l3.4 3.4l-3.4 3.4l-3.4 -3.4zM140 58l3.4 3.4l-3.4 3.4l-3.4 -3.4zM141.2 58.5l3.4 3.4l-3.4 3.4l-3.4 -3.4zM142.4 61.2l3.4 3.4l-3.4 3.4l-3.4 -3.4zM143.6 64.7l3.4 3.4l-3.4 3.4l-3.4 -3.4zM144.8 64.5l3.4 3.4l-3.4 3.4l-3.4 -3.4zM145.9 59l3.4 3.4l-3.4 3.4l-3.4 -3.4zM147.1 62.1l3.4 3.4l-3.4 3.4l-3.4 -3.4zM148.3 65.1l3.4 3.4l-3.4 3.4l-3.4 -3.4zM149.5 55.8l3.4 3.4l-3.4 3.4l-3.4 -3.4zM150.6 61.9l3.4 3.4l-3.4 3.4l-3.4 -3.4zM151.8 62.5l3.4 3.4l-3.4 3.4l-3.4 -3.4zM153 64.1l3.4 3.4l-3.4 3.4l-3.4 -3.4zM154.2 63.9l3.4 3.4l-3.4 3.4l-3.4 -3.4zM155.4 65.3l3.4 3.4l-3.4 3.4l-3.4 -3.4zM156.5 67l3.4 3.4l-3.4 3.4l-3.4 -3.4zM157.7 57.4l3.4 3.4l-3.4 3.4l-3.4 -3.4zM158.9 63.8l3.4 3.4l-3.4 3.4l-3.4 -3.4zM160.1 63.3l3.4 3.4l-3.4 3.4l-3.4 -3.4zM161.2 65.1l3.4 3.4l-3.4 3.4l-3.4 -3.4zM162.4 61.9l3.4 3.4l-3.4 3.4l-3.4 -3.4zM163.6 67.6l3.4 3.4l-3.4 3.4l-3.4 -3.4zM164.8 65l3.4 3.4l-3.4 3.4l-3.4 -3.4zM166 67.7l3.4 3.4l-3.4 3.4l-3.4 -3.4zM167.1 67.1l3.4 3.4l-3.4 3.4l-3.4 -3.4zM168.3 60.6l3.4 3.4l-3.4 3.4l-3.4 -3.4zM169.5 63.1l3.4 3.4l-3.4 3.4l-3.4 -3.4zM170.7 64.5l3.4 3.4l-3.4 3.4l-3.4 -3.4zM171.9 64.3l3.4 3.4l-3.4 3.4l-3.4 -3.4zM173 61.7l3.4 3.4l-3.4 3.4l-3.4 -3.4zM174.2 65.9l3.4 3.4l-3.4 3.4l-3.4 -3.4zM175.4 64l3.4 3.4l-3.4 3.4l-3.4 -3.4zM176.6 63.4l3.4 3.4l-3.4 3.4l-3.4 -3.4zM177.7 66l3.4 3.4l-3.4 3.4l-3.4 -3.4zM178.9 64.8l3.4 3.4l-3.4 3.4l-3.4 -3.4zM180.1 63l3.4 3.4l-3.4 3.4l-3.4 -3.4zM181.3 62l3.4 3.4l-3.4 3.4l-3.4 -3.4zM182.5 68l3.4 3.4l-3.4 3.4l-3.4 -3.4zM183.6 61.9l3.4 3.4l-3.4 3.4l-3.4 -3.4zM184.8 69.3l3.4 3.4l-3.4 3.4l-3.4 -3.4zM186 63.5l3.4 3.4l-3.4 3.4l-3.4 -3.4zM187.2 63.2l3.4 3.4l-3.4 3.4l-3.4 -3.4zM188.4 67.9l3.4 3.4l-3.4 3.4l-3.4 -3.4zM189.5 66.4l3.4 3.4l-3.4 3.4l-3.4 -3.4zM190.7 63.4l3.4 3.4l-3.4 3.4l-3.4 -3.4zM191.9 69.7l3.4 3.4l-3.4 3.4l-3.4 -3.4zM193.1 65l3.4 3.4l-3.4 3.4l-3.4 -3.4zM194.2 63.8l3.4 3.4l-3.4 3.4l-3.4 -3.4zM195.4 66.1l3.4 3.4l-3.4 3.4l-3.4 -3.4zM196.6 64.5l3.4 3.4l-3.4 3.4l-3.4 -3.4zM197.8 68.5l3.4 3.4l-3.4 3.4l-3.4 -3.4zM199 68.8l3.4 3.4l-3.4 3.4l-3.4 -3.4zM200.1 67.6l3.4 3.4l-3.4 3.4l-3.4 -3.4zM201.3 69.1l3.4 3.4l-3.4 3.4l-3.4 -3.4zM202.5 67.8l3.4 3.4l-3.4 3.4l-3.4 -3.4zM203.7 63.2l3.4 3.4l-3.4 3.4l-3.4 -3.4zM204.8 66.1l3.4 3.4l-3.4 3.4l-3.4 -3.4zM206 68l3.4 3.4l-3.4 3.4l-3.4 -3.4zM207.2 68.6l3.4 3.4l-3.4 3.4l-3.4 -3.4zM208.4 63.3l3.4 3.4l-3.4 3.4l-3.4 -3.4zM209.6 67.4l3.4 3.4l-3.4 3.4l-3.4 -3.4zM210.7 58.6l3.4 3.4l-3.4 3.4l-3.4 -3.4zM211.9 66.9l3.4 3.4l-3.4 3.4l-3.4 -3.4zM213.1 66.9l3.4 3.4l-3.4 3.4l-3.4 -3.4zM214.3 64l3.4 3.4l-3.4 3.4l-3.4 -3.4zM215.5 65.3l3.4 3.4l-3.4 3.4l-3.4 -3.4zM216.6 66.6l3.4 3.4l-3.4 3.4l-3.4 -3.4zM217.8 67.9l3.4 3.4l-3.4 3.4l-3.4 -3.4zM219 64.4l3.4 3.4l-3.4 3.4l-3.4 -3.4zM220.2 68.1l3.4 3.4l-3.4 3.4l-3.4 -3.4zM221.3 64.1l3.4 3.4l-3.4 3.4l-3.4 -3.4zM222.5 70.9l3.4 3.4l-3.4 3.4l-3.4 -3.4zM223.7 68l3.4 3.4l-3.4 3.4l-3.4 -3.4zM224.9 67.5l3.4 3.4l-3.4 3.4l-3.4 -3.4zM226.1 64.1l3.4 3.4l-3.4 3.4l-3.4 -3.4zM227.2 69.7l3.4 3.4l-3.4 3.4l-3.4 -3.4zM228.4 64l3.4 3.4l-3.4 3.4l-3.4 -3.4zM229.6 66.5l3.4 3.4l-3.4 3.4l-3.4 -3.4zM230.8 66.2l3.4 3.4l-3.4 3.4l-3.4 -3.4zM232 67l3.4 3.4l-3.4 3.4l-3.4 -3.4zM233.1 64.4l3.4 3.4l-3.4 3.4l-3.4 -3.4zM234.3 69.4l3.4 3.4l-3.4 3.4l-3.4 -3.4zM235.5 68.9l3.4 3.4l-3.4 3.4l-3.4 -3.4zM236.7 70.5l3.4 3.4l-3.4 3.4l-3.4 -3.4zM237.8 67.3l3.4 3.4l-3.4 3.4l-3.4 -3.4zM239 70.5l3.4 3.4l-3.4 3.4l-3.4 -3.4zM240.2 65.2l3.4 3.4l-3.4 3.4l-3.4 -3.4zM241.4 65.9l3.4 3.4l-3.4 3.4l-3.4 -3.4zM242.6 71.5l3.4 3.4l-3.4 3.4l-3.4 -3.4zM243.7 67.7l3.4 3.4l-3.4 3.4l-3.4 -3.4zM244.9 68.8l3.4 3.4l-3.4 3.4l-3.4 -3.4zM246.1 67.9l3.4 3.4l-3.4 3.4l-3.4 -3.4zM247.3 67.5l3.4 3.4l-3.4 3.4l-3.4 -3.4zM248.4 69.5l3.4 3.4l-3.4 3.4l-3.4 -3.4zM249.6 65.3l3.4 3.4l-3.4 3.4l-3.4 -3.4zM250.8 69.1l3.4 3.4l-3.4 3.4l-3.4 -3.4zM252 67.9l3.4 3.4l-3.4 3.4l-3.4 -3.4zM253.2 66.9l3.4 3.4l-3.4 3.4l-3.4 -3.4zM254.3 71.3l3.4 3.4l-3.4 3.4l-3.4 -3.4zM255.5 72.3l3.4 3.4l-3.4 3.4l-3.4 -3.4zM256.7 69.7l3.4 3.4l-3.4 3.4l-3.4 -3.4zM257.9 67.1l3.4 3.4l-3.4 3.4l-3.4 -3.4zM259.1 66.8l3.4 3.4l-3.4 3.4l-3.4 -3.4zM260.2 67.5l3.4 3.4l-3.4 3.4l-3.4 -3.4zM261.4 71.7l3.4 3.4l-3.4 3.4l-3.4 -3.4zM262.6 66.2l3.4 3.4l-3.4 3.4l-3.4 -3.4zM263.8 67.1l3.4 3.4l-3.4 3.4l-3.4 -3.4zM264.9 66.6l3.4 3.4l-3.4 3.4l-3.4 -3.4zM266.1 69.2l3.4 3.4l-3.4 3.4l-3.4 -3.4zM267.3 66.4l3.4 3.4l-3.4 3.4l-3.4 -3.4zM268.5 72.8l3.4 3.4l-3.4 3.4l-3.4 -3.4zM269.7 73l3.4 3.4l-3.4 3.4l-3.4 -3.4zM270.8 73.1l3.4 3.4l-3.4 3.4l-3.4 -3.4zM272 71.4l3.4 3.4l-3.4 3.4l-3.4 -3.4zM273.2 71.5l3.4 3.4l-3.4 3.4l-3.4 -3.4zM274.4 72l3.4 3.4l-3.4 3.4l-3.4 -3.4zM275.6 69.2l3.4 3.4l-3.4 3.4l-3.4 -3.4zM276.7 73.1l3.4 3.4l-3.4 3.4l-3.4 -3.4zM277.9 69.2l3.4 3.4l-3.4 3.4l-3.4 -3.4zM279.1 72.3l3.4 3.4l-3.4 3.4l-3.4 -3.4zM280.3 68.6l3.4 3.4l-3.4 3.4l-3.4 -3.4zM281.4 73.4l3.4 3.4l-3.4 3.4l-3.4 -3.4zM282.6 71.3l3.4 3.4l-3.4 3.4l-3.4 -3.4zM283.8 66.9l3.4 3.4l-3.4 3.4l-3.4 -3.4zM285 69.8l3.4 3.4l-3.4 3.4l-3.4 -3.4zM286.2 67.9l3.4 3.4l-3.4 3.4l-3.4 -3.4zM287.3 69.1l3.4 3.4l-3.4 3.4l-3.4 -3.4zM288.5 69.5l3.4 3.4l-3.4 3.4l-3.4 -3.4zM289.7 72.6l3.4 3.4l-3.4 3.4l-3.4 -3.4zM290.9 69.8l3.4 3.4l-3.4 3.4l-3.4 -3.4zM292.1 73.8l3.4 3.4l-3.4 3.4l-3.4 -3.4zM293.2 68.3l3.4 3.4l-3.4 3.4l-3.4 -3.4zM294.4 67.2l3.4 3.4l-3.4 3.4l-3.4 -3.4zM295.6 68l3.4 3.4l-3.4 3.4l-3.4 -3.4zM296.8 74l3.4 3.4l-3.4 3.4l-3.4 -3.4zM297.9 71.9l3.4 3.4l-3.4 3.4l-3.4 -3.4zM299.1 72.2l3.4 3.4l-3.4 3.4l-3.4 -3.4zM300.3 73.8l3.4 3.4l-3.4 3.4l-3.4 -3.4zM301.5 70l3.4 3.4l-3.4 3.4l-3.4 -3.4zM302.7 68.8l3.4 3.4l-3.4 3.4l-3.4 -3.4zM303.8 72.5l3.4 3.4l-3.4 3.4l-3.4 -3.4zM305 66.3l3.4 3.4l-3.4 3.4l-3.4 -3.4zM306.2 69l3.4 3.4l-3.4 3.4l-3.4 -3.4zM307.4 74.1l3.4 3.4l-3.4 3.4l-3.4 -3.4zM308.5 69.4l3.4 3.4l-3.4 3.4l-3.4 -3.4zM309.7 68.5l3.4 3.4l-3.4 3.4l-3.4 -3.4zM310.9 71.1l3.4 3.4l-3.4 3.4l-3.4 -3.4zM312.1 71l3.4 3.4l-3.4 3.4l-3.4 -3.4zM313.3 70.6l3.4 3.4l-3.4 3.4l-3.4 -3.4zM314.4 70.9l3.4 3.4l-3.4 3.4l-3.4 -3.4zM315.6 75l3.4 3.4l-3.4 3.4l-3.4 -3.4zM316.8 70.6l3.4 3.4l-3.4 3.4l-3.4 -3.4zM318 70.9l3.4 3.4l-3.4 3.4l-3.4 -3.4zM319.2 69.4l3.4 3.4l-3.4 3.4l-3.4 -3.4zM320.3 69.6l3.4 3.4l-3.4 3.4l-3.4 -3.4zM321.5 73.5l3.4 3.4l-3.4 3.4l-3.4 -3.4zM322.7 70.4l3.4 3.4l-3.4 3.4l-3.4 -3.4zM323.9 69.3l3.4 3.4l-3.4 3.4l-3.4 -3.4zM325 69.1l3.4 3.4l-3.4 3.4l-3.4 -3.4zM326.2 75.2l3.4 3.4l-3.4 3.4l-3.4 -3.4zM327.4 74.9l3.4 3.4l-3.4 3.4l-3.4 -3.4zM328.6 71.3l3.4 3.4l-3.4 3.4l-3.4 -3.4zM329.8 75l3.4 3.4l-3.4 3.4l-3.4 -3.4zM330.9 72.1l3.4 3.4l-3.4 3.4l-3.4 -3.4zM332.1 69l3.4 3.4l-3.4 3.4l-3.4 -3.4zM333.3 73.8l3.4 3.4l-3.4 3.4l-3.4 -3.4zM334.5 75l3.4 3.4l-3.4 3.4l-3.4 -3.4zM335.7 73.3l3.4 3.4l-3.4 3.4l-3.4 -3.4zM336.8 71.6l3.4 3.4l-3.4 3.4l-3.4 -3.4zM338 75.9l3.4 3.4l-3.4 3.4l-3.4 -3.4zM339.2 74.1l3.4 3.4l-3.4 3.4l-3.4 -3.4zM340.4 76.3l3.4 3.4l-3.4 3.4l-3.4 -3.4zM341.5 71.8l3.4 3.4l-3.4 3.4l-3.4 -3.4zM342.7 70.4l3.4 3.4l-3.4 3.4l-3.4 -3.4zM343.9 74.4l3.4 3.4l-3.4 3.4l-3.4 -3.4zM345.1 74.5l3.4 3.4l-3.4 3.4l-3.4 -3.4zM346.3 69.3l3.4 3.4l-3.4 3.4l-3.4 -3.4zM347.4 76l3.4 3.4l-3.4 3.4l-3.4 -3.4zM348.6 75.8l3.4 3.4l-3.4 3.4l-3.4 -3.4zM349.8 75.1l3.4 3.4l-3.4 3.4l-3.4 -3.4zM351 74l3.4 3.4l-3.4 3.4l-3.4 -3.4zM352.1 77.5l3.4 3.4l-3.4 3.4l-3.4 -3.4zM353.3 71.5l3.4 3.4l-3.4 3.4l-3.4 -3.4zM354.5 73.1l3.4 3.4l-3.4 3.4l-3.4 -3.4zM355.7 75.7l3.4 3.4l-3.4 3.4l-3.4 -3.4zM356.9 77.8l3.4 3.4l-3.4 3.4l-3.4 -3.4zM358 71.6l3.4 3.4l-3.4 3.4l-3.4 -3.4zM359.2 77.5l3.4 3.4l-3.4 3.4l-3.4 -3.4zM360.4 77.5l3.4 3.4l-3.4 3.4l-3.4 -3.4zM361.6 77.6l3.4 3.4l-3.4 3.4l-3.4 -3.4zM362.8 78.1l3.4 3.4l-3.4 3.4l-3.4 -3.4zM363.9 70.4l3.4 3.4l-3.4 3.4l-3.4 -3.4zM365.1 76.5l3.4 3.4l-3.4 3.4l-3.4 -3.4zM366.3 76.2l3.4 3.4l-3.4 3.4l-3.4 -3.4zM367.5 71.3l3.4 3.4l-3.4 3.4l-3.4 -3.4zM368.6 73.3l3.4 3.4l-3.4 3.4l-3.4 -3.4zM369.8 77.5l3.4 3.4l-3.4 3.4l-3.4 -3.4zM371 75.2l3.4 3.4l-3.4 3.4l-3.4 -3.4zM372.2 70.9l3.4 3.4l-3.4 3.4l-3.4 -3.4zM373.4 75.9l3.4 3.4l-3.4 3.4l-3.4 -3.4zM374.5 72.7l3.4 3.4l-3.4 3.4l-3.4 -3.4zM375.7 78.7l3.4 3.4l-3.4 3.4l-3.4 -3.4zM376.9 72.6l3.4 3.4l-3.4 3.4l-3.4 -3.4zM378.1 72.2l3.4 3.4l-3.4 3.4l-3.4 -3.4zM379.3 68l3.4 3.4l-3.4 3.4l-3.4 -3.4zM380.4 73.3l3.4 3.4l-3.4 3.4l-3.4 -3.4zM381.6 76.3l3.4 3.4l-3.4 3.4l-3.4 -3.4zM382.8 76.8l3.4 3.4l-3.4 3.4l-3.4 -3.4zM384 75l3.4 3.4l-3.4 3.4l-3.4 -3.4zM385.1 72.6l3.4 3.4l-3.4 3.4l-3.4 -3.4zM386.3 78.3l3.4 3.4l-3.4 3.4l-3.4 -3.4zM387.5 77.6l3.4 3.4l-3.4 3.4l-3.4 -3.4zM388.7 75l3.4 3.4l-3.4 3.4l-3.4 -3.4zM389.9 72.9l3.4 3.4l-3.4 3.4l-3.4 -3.4zM391 71.5l3.4 3.4l-3.4 3.4l-3.4 -3.4zM392.2 79.3l3.4 3.4l-3.4 3.4l-3.4 -3.4zM393.4 78.7l3.4 3.4l-3.4 3.4l-3.4 -3.4zM394.6 72.6l3.4 3.4l-3.4 3.4l-3.4 -3.4zM395.7 74.2l3.4 3.4l-3.4 3.4l-3.4 -3.4zM396.9 73.5l3.4 3.4l-3.4 3.4l-3.4 -3.4zM398.1 70.7l3.4 3.4l-3.4 3.4l-3.4 -3.4zM399.3 71.3l3.4 3.4l-3.4 3.4l-3.4 -3.4zM400.5 72.3l3.4 3.4l-3.4 3.4l-3.4 -3.4zM401.6 73.1l3.4 3.4l-3.4 3.4l-3.4 -3.4zM402.8 77.1l3.4 3.4l-3.4 3.4l-3.4 -3.4zM404 74.6l3.4 3.4l-3.4 3.4l-3.4 -3.4zM405.2 79.3l3.4 3.4l-3.4 3.4l-3.4 -3.4zM406.4 73.4l3.4 3.4l-3.4 3.4l-3.4 -3.4zM407.5 73.5l3.4 3.4l-3.4 3.4l-3.4 -3.4zM408.7 73.9l3.4 3.4l-3.4 3.4l-3.4 -3.4zM409.9 76.9l3.4 3.4l-3.4 3.4l-3.4 -3.4zM411.1 77.6l3.4 3.4l-3.4 3.4l-3.4 -3.4zM412.2 77.2l3.4 3.4l-3.4 3.4l-3.4 -3.4zM413.4 81.4l3.4 3.4l-3.4 3.4l-3.4 -3.4zM414.6 72.2l3.4 3.4l-3.4 3.4l-3.4 -3.4zM415.8 76.1l3.4 3.4l-3.4 3.4l-3.4 -3.4zM417 77.8l3.4 3.4l-3.4 3.4l-3.4 -3.4zM418.1 76.1l3.4 3.4l-3.4 3.4l-3.4 -3.4zM419.3 74.3l3.4 3.4l-3.4 3.4l-3.4 -3.4zM420.5 78l3.4 3.4l-3.4 3.4l-3.4 -3.4zM421.7 73.2l3.4 3.4l-3.4 3.4l-3.4 -3.4zM422.9 72.3l3.4 3.4l-3.4 3.4l-3.4 -3.4zM424 78.1l3.4 3.4l-3.4 3.4l-3.4 -3.4zM425.2 80.9l3.4 3.4l-3.4 3.4l-3.4 -3.4zM426.4 74.2l3.4 3.4l-3.4 3.4l-3.4 -3.4zM427.6 71.7l3.4 3.4l-3.4 3.4l-3.4 -3.4zM428.7 80.9l3.4 3.4l-3.4 3.4l-3.4 -3.4zM429.9 74.8l3.4 3.4l-3.4 3.4l-3.4 -3.4zM431.1 73.6l3.4 3.4l-3.4 3.4l-3.4 -3.4zM432.3 72.6l3.4 3.4l-3.4 3.4l-3.4 -3.4zM433.5 81.3l3.4 3.4l-3.4 3.4l-3.4 -3.4zM434.6 81.6l3.4 3.4l-3.4 3.4l-3.4 -3.4zM435.8 71.9l3.4 3.4l-3.4 3.4l-3.4 -3.4zM437 78.9l3.4 3.4l-3.4 3.4l-3.4 -3.4zM438.2 80.8l3.4 3.4l-3.4 3.4l-3.4 -3.4zM439.4 76.5l3.4 3.4l-3.4 3.4l-3.4 -3.4zM440.5 77.9l3.4 3.4l-3.4 3.4l-3.4 -3.4zM441.7 74.6l3.4 3.4l-3.4 3.4l-3.4 -3.4zM442.9 80.7l3.4 3.4l-3.4 3.4l-3.4 -3.4zM444.1 72.9l3.4 3.4l-3.4 3.4l-3.4 -3.4zM445.2 80.5l3.4 3.4l-3.4 3.4l-3.4 -3.4zM446.4 74.5l3.4 3.4l-3.4 3.4l-3.4 -3.4zM447.6 82.2l3.4 3.4l-3.4 3.4l-3.4 -3.4zM448.8 77.8l3.4 3.4l-3.4 3.4l-3.4 -3.4zM450 82.6l3.4 3.4l-3.4 3.4l-3.4 -3.4zM451.1 79.6l3.4 3.4l-3.4 3.4l-3.4 -3.4zM452.3 79.6l3.4 3.4l-3.4 3.4l-3.4 -3.4zM453.5 75.2l3.4 3.4l-3.4 3.4l-3.4 -3.4zM454.7 78.1l3.4 3.4l-3.4 3.4l-3.4 -3.4zM455.8 82.5l3.4 3.4l-3.4 3.4l-3.4 -3.4zM457 72.3l3.4 3.4l-3.4 3.4l-3.4 -3.4zM458.2 73.5l3.4 3.4l-3.4 3.4l-3.4 -3.4zM459.4 70.3l3.4 3.4l-3.4 3.4l-3.4 -3.4zM460.6 80.6l3.4 3.4l-3.4 3.4l-3.4 -3.4zM461.7 79l3.4 3.4l-3.4 3.4l-3.4 -3.4zM462.9 80.8l3.4 3.4l-3.4 3.4l-3.4 -3.4zM464.1 82l3.4 3.4l-3.4 3.4l-3.4 -3.4zM465.3 83l3.4 3.4l-3.4 3.4l-3.4 -3.4zM466.5 75.9l3.4 3.4l-3.4 3.4l-3.4 -3.4zM467.6 78.1l3.4 3.4l-3.4 3.4l-3.4 -3.4zM468.8 81.5l3.4 3.4l-3.4 3.4l-3.4 -3.4zM470 72.3l3.4 3.4l-3.4 3.4l-3.4 -3.4zM471.2 78.2l3.4 3.4l-3.4 3.4l-3.4 -3.4zM472.3 81.5l3.4 3.4l-3.4 3.4l-3.4 -3.4zM473.5 73.9l3.4 3.4l-3.4 3.4l-3.4 -3.4zM474.7 80.1l3.4 3.4l-3.4 3.4l-3.4 -3.4zM475.9 77.9l3.4 3.4l-3.4 3.4l-3.4 -3.4zM477.1 80.5l3.4 3.4l-3.4 3.4l-3.4 -3.4zM478.2 78l3.4 3.4l-3.4 3.4l-3.4 -3.4zM479.4 76.8l3.4 3.4l-3.4 3.4l-3.4 -3.4zM480.6 75.3l3.4 3.4l-3.4 3.4l-3.4 -3.4zM481.8 79.4l3.4 3.4l-3.4 3.4l-3.4 -3.4zM483 75.2l3.4 3.4l-3.4 3.4l-3.4 -3.4zM484.1 74.3l3.4 3.4l-3.4 3.4l-3.4 -3.4zM485.3 81.9l3.4 3.4l-3.4 3.4l-3.4 -3.4zM486.5 82.4l3.4 3.4l-3.4 3.4l-3.4 -3.4zM487.7 82.6l3.4 3.4l-3.4 3.4l-3.4 -3.4zM488.8 69.7l3.4 3.4l-3.4 3.4l-3.4 -3.4zM490 73.7l3.4 3.4l-3.4 3.4l-3.4 -3.4zM491.2 78.1l3.4 3.4l-3.4 3.4l-3.4 -3.4zM492.4 73.4l3.4 3.4l-3.4 3.4l-3.4 -3.4zM493.6 81.7l3.4 3.4l-3.4 3.4l-3.4 -3.4zM494.7 78.5l3.4 3.4l-3.4 3.4l-3.4 -3.4zM495.9 78.7l3.4 3.4l-3.4 3.4l-3.4 -3.4zM497.1 74.2l3.4 3.4l-3.4 3.4l-3.4 -3.4zM498.3 83.7l3.4 3.4l-3.4 3.4l-3.4 -3.4zM499.4 80.7l3.4 3.4l-3.4 3.4l-3.4 -3.4zM500.6 77.7l3.4 3.4l-3.4 3.4l-3.4 -3.4zM501.8 83.5l3.4 3.4l-3.4 3.4l-3.4 -3.4zM503 81.7l3.4 3.4l-3.4 3.4l-3.4 -3.4zM504.2 79.2l3.4 3.4l-3.4 3.4l-3.4 -3.4zM505.3 74.7l3.4 3.4l-3.4 3.4l-3.4 -3.4zM506.5 76.1l3.4 3.4l-3.4 3.4l-3.4 -3.4zM507.7 75.3l3.4 3.4l-3.4 3.4l-3.4 -3.4zM508.9 76.1l3.4 3.4l-3.4 3.4l-3.4 -3.4zM510.1 76.7l3.4 3.4l-3.4 3.4l-3.4 -3.4zM511.2 75.2l3.4 3.4l-3.4 3.4l-3.4 -3.4zM512.4 77.1l3.4 3.4l-3.4 3.4l-3.4 -3.4zM513.6 76.5l3.4 3.4l-3.4 3.4l-3.4 -3.4zM514.8 80.1l3.4 3.4l-3.4 3.4l-3.4 -3.4zM515.9 82.8l3.4 3.4l-3.4 3.4l-3.4 -3.4zM517.1 71.8l3.4 3.4l-3.4 3.4l-3.4 -3.4zM518.3 82.9l3.4 3.4l-3.4 3.4l-3.4 -3.4zM519.5 74.8l3.4 3.4l-3.4 3.4l-3.4 -3.4zM520.7 78.3l3.4 3.4l-3.4 3.4l-3.4 -3.4zM521.8 81.3l3.4 3.4l-3.4 3.4l-3.4 -3.4zM523 74.7l3.4 3.4l-3.4 3.4l-3.4 -3.4zM524.2 83.3l3.4 3.4l-3.4 3.4l-3.4 -3.4zM525.4 76.1l3.4 3.4l-3.4 3.4l-3.4 -3.4zM526.6 84.1l3.4 3.4l-3.4 3.4l-3.4 -3.4zM527.7 74.6l3.4 3.4l-3.4 3.4l-3.4 -3.4zM528.9 78.9l3.4 3.4l-3.4 3.4l-3.4 -3.4zM530.1 76.5l3.4 3.4l-3.4 3.4l-3.4 -3.4zM531.3 82.2l3.4 3.4l-3.4 3.4l-3.4 -3.4zM532.4 76.6l3.4 3.4l-3.4 3.4l-3.4 -3.4zM533.6 77.7l3.4 3.4l-3.4 3.4l-3.4 -3.4zM534.8 76.5l3.4 3.4l-3.4 3.4l-3.4 -3.4zM536 75.2l3.4 3.4l-3.4 3.4l-3.4 -3.4zM537.2 80.8l3.4 3.4l-3.4 3.4l-3.4 -3.4zM538.3 81.1l3.4 3.4l-3.4 3.4l-3.4 -3.4zM539.5 78.1l3.4 3.4l-3.4 3.4l-3.4 -3.4zM540.7 76.6l3.4 3.4l-3.4 3.4l-3.4 -3.4zM541.9 82.1l3.4 3.4l-3.4 3.4l-3.4 -3.4zM543 78.5l3.4 3.4l-3.4 3.4l-3.4 -3.4zM544.2 83.6l3.4 3.4l-3.4 3.4l-3.4 -3.4zM545.4 79.9l3.4 3.4l-3.4 3.4l-3.4 -3.4zM546.6 77.6l3.4 3.4l-3.4 3.4l-3.4 -3.4zM547.8 85.3l3.4 3.4l-3.4 3.4l-3.4 -3.4zM548.9 76.2l3.4 3.4l-3.4 3.4l-3.4 -3.4zM550.1 85.9l3.4 3.4l-3.4 3.4l-3.4 -3.4zM551.3 75.7l3.4 3.4l-3.4 3.4l-3.4 -3.4zM552.5 77.5l3.4 3.4l-3.4 3.4l-3.4 -3.4zM553.7 81.8l3.4 3.4l-3.4 3.4l-3.4 -3.4zM554.8 78.5l3.4 3.4l-3.4 3.4l-3.4 -3.4zM556 80.7l3.4 3.4l-3.4 3.4l-3.4 -3.4zM557.2 78.5l3.4 3.4l-3.4 3.4l-3.4 -3.4zM558.4 85.5l3.4 3.4l-3.4 3.4l-3.4 -3.4zM559.5 80.4l3.4 3.4l-3.4 3.4l-3.4 -3.4zM560.7 80.5l3.4 3.4l-3.4 3.4l-3.4 -3.4zM561.9 76.5l3.4 3.4l-3.4 3.4l-3.4 -3.4zM563.1 86.2l3.4 3.4l-3.4 3.4l-3.4 -3.4zM564.3 81.8l3.4 3.4l-3.4 3.4l-3.4 -3.4zM565.4 79.9l3.4 3.4l-3.4 3.4l-3.4 -3.4zM566.6 80.8l3.4 3.4l-3.4 3.4l-3.4 -3.4zM567.8 86.1l3.4 3.4l-3.4 3.4l-3.4 -3.4zM569 80.5l3.4 3.4l-3.4 3.4l-3.4 -3.4zM570.2 83.7l3.4 3.4l-3.4 3.4l-3.4 -3.4zM571.3 84.9l3.4 3.4l-3.4 3.4l-3.4 -3.4zM572.5 77.6l3.4 3.4l-3.4 3.4l-3.4 -3.4zM573.7 85l3.4 3.4l-3.4 3.4l-3.4 -3.4zM574.9 82.3l3.4 3.4l-3.4 3.4l-3.4 -3.4zM576 79.1l3.4 3.4l-3.4 3.4l-3.4 -3.4zM577.2 76.7l3.4 3.4l-3.4 3.4l-3.4 -3.4zM578.4 81.3l3.4 3.4l-3.4 3.4l-3.4 -3.4zM579.6 78.6l3.4 3.4l-3.4 3.4l-3.4 -3.4zM580.8 79.1l3.4 3.4l-3.4 3.4l-3.4 -3.4zM581.9 80.8l3.4 3.4l-3.4 3.4l-3.4 -3.4zM583.1 76.3l3.4 3.4l-3.4 3.4l-3.4 -3.4zM584.3 80.3l3.4 3.4l-3.4 3.4l-3.4 -3.4zM585.5 80.8l3.4 3.4l-3.4 3.4l-3.4 -3.4zM586.7 83.5l3.4 3.4l-3.4 3.4l-3.4 -3.4zM587.8 82l3.4 3.4l-3.4 3.4l-3.4 -3.4zM589 83.8l3.4 3.4l-3.4 3.4l-3.4 -3.4zM590.2 80.2l3.4 3.4l-3.4 3.4l-3.4 -3.4zM591.4 84.3l3.4 3.4l-3.4 3.4l-3.4 -3.4zM592.5 83.4l3.4 3.4l-3.4 3.4l-3.4 -3.4zM593.7 80.4l3.4 3.4l-3.4 3.4l-3.4 -3.4zM594.9 83.3l3.4 3.4l-3.4 3.4l-3.4 -3.4zM596.1 85.2l3.4 3.4l-3.4 3.4l-3.4 -3.4zM597.3 80l3.4 3.4l-3.4 3.4l-3.4 -3.4zM598.4 85l3.4 3.4l-3.4 3.4l-3.4 -3.4zM599.6 80.2l3.4 3.4l-3.4 3.4l-3.4 -3.4zM600.8 81.1l3.4 3.4l-3.4 3.4l-3.4 -3.4zM602 85l3.4 3.4l-3.4 3.4l-3.4 -3.4zM603.1 82.4l3.4 3.4l-3.4 3.4l-3.4 -3.4zM604.3 90l3.4 3.4l-3.4 3.4l-3.4 -3.4zM605.5 82.4l3.4 3.4l-3.4 3.4l-3.4 -3.4zM606.7 81.6l3.4 3.4l-3.4 3.4l-3.4 -3.4zM607.9 84.9l3.4 3.4l-3.4 3.4l-3.4 -3.4zM609 85.4l3.4 3.4l-3.4 3.4l-3.4 -3.4zM610.2 84.5l3.4 3.4l-3.4 3.4l-3.4 -3.4zM611.4 82.4l3.4 3.4l-3.4 3.4l-3.4 -3.4zM612.6 85.9l3.4 3.4l-3.4 3.4l-3.4 -3.4zM613.8 88.3l3.4 3.4l-3.4 3.4l-3.4 -3.4zM614.9 91.4l3.4 3.4l-3.4 3.4l-3.4 -3.4zM616.1 90.9l3.4 3.4l-3.4 3.4l-3.4 -3.4zM617.3 91.5l3.4 3.4l-3.4 3.4l-3.4 -3.4zM618.5 90.6l3.4 3.4l-3.4 3.4l-3.4 -3.4zM619.6 85.1l3.4 3.4l-3.4 3.4l-3.4 -3.4zM620.8 92.7l3.4 3.4l-3.4 3.4l-3.4 -3.4zM622 92.3l3.4 3.4l-3.4 3.4l-3.4 -3.4zM623.2 93.7l3.4 3.4l-3.4 3.4l-3.4 -3.4zM624.4 92.1l3.4 3.4l-3.4 3.4l-3.4 -3.4zM625.5 88.8l3.4 3.4l-3.4 3.4l-3.4 -3.4zM626.7 90l3.4 3.4l-3.4 3.4l-3.4 -3.4zM627.9 96.2l3.4 3.4l-3.4 3.4l-3.4 -3.4zM629.1 98.1l3.4 3.4l-3.4 3.4l-3.4 -3.4zM630.3 92.1l3.4 3.4l-3.4 3.4l-3.4 -3.4zM631.4 97.1l3.4 3.4l-3.4 3.4l-3.4 -3.4zM632.6 95.7l3.4 3.4l-3.4 3.4l-3.4 -3.4zM633.8 103l3.4 3.4l-3.4 3.4l-3.4 -3.4zM635 95.2l3.4 3.4l-3.4 3.4l-3.4 -3.4zM636.1 101.9l3.4 3.4l-3.4 3.4l-3.4 -3.4zM637.3 100.7l3.4 3.4l-3.4 3.4l-3.4 -3.4zM638.5 104.6l3.4 3.4l-3.4 3.4l-3.4 -3.4zM639.7 101l3.4 3.4l-3.4 3.4l-3.4 -3.4zM640.9 99.6l3.4 3.4l-3.4 3.4l-3.4 -3.4zM642 100.6l3.4 3.4l-3.4 3.4l-3.4 -3.4zM643.2 105.3l3.4 3.4l-3.4 3.4l-3.4 -3.4zM644.4 103.1l3.4 3.4l-3.4 3.4l-3.4 -3.4zM645.6 107.3l3.4 3.4l-3.4 3.4l-3.4 -3.4zM646.7 109.8l3.4 3.4l-3.4 3.4l-3.4 -3.4zM647.9 109.5l3.4 3.4l-3.4 3.4l-3.4 -3.4zM649.1 114.7l3.4 3.4l-3.4 3.4l-3.4 -3.4zM650.3 115l3.4 3.4l-3.4 3.4l-3.4 -3.4zM651.5 112.4l3.4 3.4l-3.4 3.4l-3.4 -3.4zM652.6 113.2l3.4 3.4l-3.4 3.4l-3.4 -3.4z"/><path fill="#3d7bd6" stroke="#6e6e6e" stroke-width="1.0" d="M50.5 27.1l3.6 7.2h-7.2zM51.7 28l3.6 7.2h-7.2zM52.8 27.7l3.6 7.2h-7.2zM54 26.9l3.6 7.2h-7.2zM55.2 26.5l3.6 7.2h-7.2zM56.4 28.2l3.6 7.2h-7.2zM57.5 27.6l3.6 7.2h-7.2zM58.7 25.2l3.6 7.2h-7.2zM59.9 28l3.6 7.2h-7.2zM61.1 26.2l3.6 7.2h-7.2zM62.3 29.6l3.6 7.2h-7.2zM63.4 28.7l3.6 7.2h-7.2zM64.6 33l3.6 7.2h-7.2zM65.8 36.7l3.6 7.2h-7.2zM67 40.8l3.6 7.2h-7.2zM68.2 33.8l3.6 7.2h-7.2zM69.3 31.3l3.6 7.2h-7.2zM70.5 36.1l3.6 7.2h-7.2zM71.7 36.8l3.6 7.2h-7.2zM72.9 32.7l3.6 7.2h-7.2zM74 36.9l3.6 7.2h-7.2zM75.2 33.3l3.6 7.2h-7.2zM76.4 35.2l3.6 7.2h-7.2zM77.6 37.1l3.6 7.2h-7.2zM78.8 38l3.6 7.2h-7.2zM79.9 33l3.6 7.2h-7.2zM81.1 33.2l3.6 7.2h-7.2zM82.3 35.1l3.6 7.2h-7.2zM83.5 36.6l3.6 7.2h-7.2zM84.7 33.6l3.6 7.2h-7.2zM85.8 34.8l3.6 7.2h-7.2zM87 34.7l3.6 7.2h-7.2zM88.2 34.6l3.6 7.2h-7.2zM89.4 35.3l3.6 7.2h-7.2zM90.5 36.7l3.6 7.2h-7.2zM91.7 29.6l3.6 7.2h-7.2zM92.9 39.2l3.6 7.2h-7.2zM94.1 34l3.6 7.2h-7.2zM95.3 37.5l3.6 7.2h-7.2zM96.4 41.9l3.6 7.2h-7.2zM97.6 41.2l3.6 7.2h-7.2zM98.8 35.3l3.6 7.2h-7.2zM100 36l3.6 7.2h-7.2zM101.1 37.6l3.6 7.2h-7.2zM102.3 35.1l3.6 7.2h-7.2zM103.5 36l3.6 7.2h-7.2zM104.7 48.3l3.6 7.2h-7.2zM105.9 39.8l3.6 7.2h-7.2zM107 37.7l3.6 7.2h-7.2zM108.2 56.9l3.6 7.2h-7.2zM109.4 35.9l3.6 7.2h-7.2zM110.6 34.2l3.6 7.2h-7.2zM111.8 35.1l3.6 7.2h-7.2zM112.9 35.5l3.6 7.2h-7.2zM114.1 38.3l3.6 7.2h-7.2zM115.3 37.3l3.6 7.2h-7.2zM116.5 37.6l3.6 7.2h-7.2zM117.6 36.8l3.6 7.2h-7.2zM118.8 33.7l3.6 7.2h-7.2zM120 32.9l3.6 7.2h-7.2zM121.2 36.9l3.6 7.2h-7.2zM122.4 47.1l3.6 7.2h-7.2zM123.5 39.7l3.6 7.2h-7.2zM124.7 41.2l3.6 7.2h-7.2zM125.9 42.3l3.6 7.2h-7.2zM127.1 37.5l3.6 7.2h-7.2zM128.3 63.7l3.6 7.2h-7.2zM129.4 43l3.6 7.2h-7.2zM130.6 46.7l3.6 7.2h-7.2zM131.8 38l3.6 7.2h-7.2zM133 40.2l3.6 7.2h-7.2zM134.1 42.2l3.6 7.2h-7.2zM135.3 42.3l3.6 7.2h-7.2zM136.5 36.9l3.6 7.2h-7.2zM137.7 36.6l3.6 7.2h-7.2zM138.9 49.9l3.6 7.2h-7.2zM140 32.4l3.6 7.2h-7.2zM141.2 40.1l3.6 7.2h-7.2zM142.4 39.6l3.6 7.2h-7.2zM143.6 36.8l3.6 7.2h-7.2zM144.8 54.3l3.6 7.2h-7.2zM145.9 47.3l3.6 7.2h-7.2zM147.1 40.5l3.6 7.2h-7.2zM148.3 38.4l3.6 7.2h-7.2zM149.5 36l3.6 7.2h-7.2zM150.6 49.9l3.6 7.2h-7.2zM151.8 34.2l3.6 7.2h-7.2zM153 49.2l3.6 7.2h-7.2zM154.2 47.7l3.6 7.2h-7.2zM155.4 47l3.6 7.2h-7.2zM156.5 37.5l3.6 7.2h-7.2zM157.7 47.7l3.6 7.2h-7.2zM158.9 45.3l3.6 7.2h-7.2zM160.1 50.5l3.6 7.2h-7.2zM161.2 38.2l3.6 7.2h-7.2zM162.4 38.7l3.6 7.2h-7.2zM163.6 39.9l3.6 7.2h-7.2zM164.8 38.5l3.6 7.2h-7.2zM166 50l3.6 7.2h-7.2zM167.1 50.1l3.6 7.2h-7.2zM168.3 41.2l3.6 7.2h-7.2zM169.5 32.2l3.6 7.2h-7.2zM170.7 33.1l3.6 7.2h-7.2zM171.9 34.5l3.6 7.2h-7.2zM173 55.4l3.6 7.2h-7.2zM174.2 38.7l3.6 7.2h-7.2zM175.4 44.5l3.6 7.2h-7.2zM176.6 36.8l3.6 7.2h-7.2zM177.7 35.9l3.6 7.2h-7.2zM178.9 39l3.6 7.2h-7.2zM180.1 49.4l3.6 7.2h-7.2zM181.3 49.8l3.6 7.2h-7.2zM182.5 45.5l3.6 7.2h-7.2zM183.6 41.5l3.6 7.2h-7.2zM184.8 38.9l3.6 7.2h-7.2zM186 36.1l3.6 7.2h-7.2zM187.2 54.8l3.6 7.2h-7.2zM188.4 38.4l3.6 7.2h-7.2zM189.5 39.6l3.6 7.2h-7.2zM190.7 37.5l3.6 7.2h-7.2zM191.9 34.2l3.6 7.2h-7.2zM193.1 58.2l3.6 7.2h-7.2zM194.2 35.9l3.6 7.2h-7.2zM195.4 36l3.6 7.2h-7.2zM196.6 54.8l3.6 7.2h-7.2zM197.8 59.4l3.6 7.2h-7.2zM199 60.5l3.6 7.2h-7.2zM200.1 39.9l3.6 7.2h-7.2zM201.3 63l3.6 7.2h-7.2zM202.5 48.3l3.6 7.2h-7.2zM203.7 38.1l3.6 7.2h-7.2zM204.8 61.8l3.6 7.2h-7.2zM206 39.4l3.6 7.2h-7.2zM207.2 37.4l3.6 7.2h-7.2zM208.4 53.1l3.6 7.2h-7.2zM209.6 55.5l3.6 7.2h-7.2zM210.7 47.1l3.6 7.2h-7.2zM211.9 35.7l3.6 7.2h-7.2zM213.1 37.2l3.6 7.2h-7.2zM214.3 44.3l3.6 7.2h-7.2zM215.5 49.2l3.6 7.2h-7.2zM216.6 41.6l3.6 7.2h-7.2zM217.8 32.7l3.6 7.2h-7.2zM219 38.9l3.6 7.2h-7.2zM220.2 61.2l3.6 7.2h-7.2zM221.3 52.5l3.6 7.2h-7.2zM222.5 43.3l3.6 7.2h-7.2zM223.7 45.3l3.6 7.2h-7.2zM224.9 50.1l3.6 7.2h-7.2zM226.1 44.8l3.6 7.2h-7.2zM227.2 34.7l3.6 7.2h-7.2zM228.4 39.5l3.6 7.2h-7.2zM229.6 36.1l3.6 7.2h-7.2zM230.8 35.5l3.6 7.2h-7.2zM232 38l3.6 7.2h-7.2zM233.1 67.4l3.6 7.2h-7.2zM234.3 40.4l3.6 7.2h-7.2zM235.5 47l3.6 7.2h-7.2zM236.7 49.6l3.6 7.2h-7.2zM237.8 45l3.6 7.2h-7.2zM239 47.3l3.6 7.2h-7.2zM240.2 55.6l3.6 7.2h-7.2zM241.4 69.4l3.6 7.2h-7.2zM242.6 36.9l3.6 7.2h-7.2zM243.7 39.3l3.6 7.2h-7.2zM244.9 41.6l3.6 7.2h-7.2zM246.1 39.2l3.6 7.2h-7.2zM247.3 55.3l3.6 7.2h-7.2zM248.4 33.8l3.6 7.2h-7.2zM249.6 31.7l3.6 7.2h-7.2zM250.8 37.8l3.6 7.2h-7.2zM252 34.8l3.6 7.2h-7.2zM253.2 34.7l3.6 7.2h-7.2zM254.3 38.6l3.6 7.2h-7.2zM255.5 42.6l3.6 7.2h-7.2zM256.7 33.4l3.6 7.2h-7.2zM257.9 38.2l3.6 7.2h-7.2zM259.1 49.1l3.6 7.2h-7.2zM260.2 63.4l3.6 7.2h-7.2zM261.4 64.6l3.6 7.2h-7.2zM262.6 59.4l3.6 7.2h-7.2zM263.8 41.8l3.6 7.2h-7.2zM264.9 34.2l3.6 7.2h-7.2zM266.1 38.2l3.6 7.2h-7.2zM267.3 40.7l3.6 7.2h-7.2zM268.5 37.2l3.6 7.2h-7.2zM269.7 47.4l3.6 7.2h-7.2zM270.8 38.9l3.6 7.2h-7.2zM272 41l3.6 7.2h-7.2zM273.2 48.5l3.6 7.2h-7.2zM274.4 53.3l3.6 7.2h-7.2zM275.6 39.9l3.6 7.2h-7.2zM276.7 35.4l3.6 7.2h-7.2zM277.9 42.8l3.6 7.2h-7.2zM279.1 39l3.6 7.2h-7.2zM280.3 42.1l3.6 7.2h-7.2zM281.4 35.5l3.6 7.2h-7.2zM282.6 40.7l3.6 7.2h-7.2zM283.8 40.9l3.6 7.2h-7.2zM285 35.2l3.6 7.2h-7.2zM286.2 37.4l3.6 7.2h-7.2zM287.3 38.8l3.6 7.2h-7.2zM288.5 36.3l3.6 7.2h-7.2zM289.7 48.1l3.6 7.2h-7.2zM290.9 38.7l3.6 7.2h-7.2zM292.1 43.6l3.6 7.2h-7.2zM293.2 38.9l3.6 7.2h-7.2zM294.4 39.8l3.6 7.2h-7.2zM295.6 40.6l3.6 7.2h-7.2zM296.8 38.7l3.6 7.2h-7.2zM297.9 55l3.6 7.2h-7.2zM299.1 38.4l3.6 7.2h-7.2zM300.3 38l3.6 7.2h-7.2zM301.5 42.3l3.6 7.2h-7.2zM302.7 38.4l3.6 7.2h-7.2zM303.8 51.7l3.6 7.2h-7.2zM305 42.1l3.6 7.2h-7.2zM306.2 40l3.6 7.2h-7.2zM307.4 35.5l3.6 7.2h-7.2zM308.5 47.2l3.6 7.2h-7.2zM309.7 39.6l3.6 7.2h-7.2zM310.9 39.9l3.6 7.2h-7.2zM312.1 36.5l3.6 7.2h-7.2zM313.3 44.6l3.6 7.2h-7.2zM314.4 39l3.6 7.2h-7.2zM315.6 37.1l3.6 7.2h-7.2zM316.8 41.2l3.6 7.2h-7.2zM318 38l3.6 7.2h-7.2zM319.2 53.5l3.6 7.2h-7.2zM320.3 33.3l3.6 7.2h-7.2zM321.5 53.5l3.6 7.2h-7.2zM322.7 38.4l3.6 7.2h-7.2zM323.9 44.8l3.6 7.2h-7.2zM325 59.1l3.6 7.2h-7.2zM326.2 36.1l3.6 7.2h-7.2zM327.4 39.1l3.6 7.2h-7.2zM328.6 69.3l3.6 7.2h-7.2zM329.8 34.9l3.6 7.2h-7.2zM330.9 39.1l3.6 7.2h-7.2zM332.1 54.5l3.6 7.2h-7.2zM333.3 36.1l3.6 7.2h-7.2zM334.5 47.6l3.6 7.2h-7.2zM335.7 34.9l3.6 7.2h-7.2zM336.8 37.1l3.6 7.2h-7.2zM338 38.9l3.6 7.2h-7.2zM339.2 38.4l3.6 7.2h-7.2zM340.4 39.8l3.6 7.2h-7.2zM341.5 39.6l3.6 7.2h-7.2zM342.7 56.4l3.6 7.2h-7.2zM343.9 49.9l3.6 7.2h-7.2zM345.1 34.6l3.6 7.2h-7.2zM346.3 40.3l3.6 7.2h-7.2zM347.4 37.4l3.6 7.2h-7.2zM348.6 38.7l3.6 7.2h-7.2zM349.8 33.6l3.6 7.2h-7.2zM351 36.6l3.6 7.2h-7.2zM352.1 38.2l3.6 7.2h-7.2zM353.3 35.3l3.6 7.2h-7.2zM354.5 37.1l3.6 7.2h-7.2zM355.7 38.5l3.6 7.2h-7.2zM356.9 33.5l3.6 7.2h-7.2zM358 35.5l3.6 7.2h-7.2zM359.2 45.2l3.6 7.2h-7.2zM360.4 34.4l3.6 7.2h-7.2zM361.6 59.4l3.6 7.2h-7.2zM362.8 37l3.6 7.2h-7.2zM363.9 39.9l3.6 7.2h-7.2zM365.1 35.5l3.6 7.2h-7.2zM366.3 37.1l3.6 7.2h-7.2zM367.5 35.6l3.6 7.2h-7.2zM368.6 37.3l3.6 7.2h-7.2zM369.8 39l3.6 7.2h-7.2zM371 39.7l3.6 7.2h-7.2zM372.2 55.6l3.6 7.2h-7.2zM373.4 70.7l3.6 7.2h-7.2zM374.5 38l3.6 7.2h-7.2zM375.7 36.2l3.6 7.2h-7.2zM376.9 33.9l3.6 7.2h-7.2zM378.1 39.3l3.6 7.2h-7.2zM379.3 38.1l3.6 7.2h-7.2zM380.4 40.1l3.6 7.2h-7.2zM381.6 34.3l3.6 7.2h-7.2zM382.8 36.6l3.6 7.2h-7.2zM384 40.1l3.6 7.2h-7.2zM385.1 41.7l3.6 7.2h-7.2zM386.3 37.8l3.6 7.2h-7.2zM387.5 34.6l3.6 7.2h-7.2zM388.7 61.3l3.6 7.2h-7.2zM389.9 75.2l3.6 7.2h-7.2zM391 35.5l3.6 7.2h-7.2zM392.2 76.7l3.6 7.2h-7.2zM393.4 37.1l3.6 7.2h-7.2zM394.6 75.1l3.6 7.2h-7.2zM395.7 39.6l3.6 7.2h-7.2zM396.9 59.7l3.6 7.2h-7.2zM398.1 36.5l3.6 7.2h-7.2zM399.3 41.7l3.6 7.2h-7.2zM400.5 69.1l3.6 7.2h-7.2zM401.6 36.6l3.6 7.2h-7.2zM402.8 36.6l3.6 7.2h-7.2zM404 45.5l3.6 7.2h-7.2zM405.2 39.5l3.6 7.2h-7.2zM406.4 35.8l3.6 7.2h-7.2zM407.5 50.8l3.6 7.2h-7.2zM408.7 40.8l3.6 7.2h-7.2zM409.9 40.3l3.6 7.2h-7.2zM411.1 57.6l3.6 7.2h-7.2zM412.2 64.4l3.6 7.2h-7.2zM413.4 37.4l3.6 7.2h-7.2zM414.6 76l3.6 7.2h-7.2zM415.8 34.2l3.6 7.2h-7.2zM417 30.6l3.6 7.2h-7.2zM418.1 63.1l3.6 7.2h-7.2zM419.3 35l3.6 7.2h-7.2zM420.5 75.6l3.6 7.2h-7.2zM421.7 38.1l3.6 7.2h-7.2zM422.9 42.1l3.6 7.2h-7.2zM424 46.7l3.6 7.2h-7.2zM425.2 41.4l3.6 7.2h-7.2zM426.4 68.7l3.6 7.2h-7.2zM427.6 36.4l3.6 7.2h-7.2zM428.7 73.9l3.6 7.2h-7.2zM429.9 33.7l3.6 7.2h-7.2zM431.1 54.7l3.6 7.2h-7.2zM432.3 36.6l3.6 7.2h-7.2zM433.5 35.9l3.6 7.2h-7.2zM434.6 29.4l3.6 7.2h-7.2zM435.8 77.5l3.6 7.2h-7.2zM437 48.3l3.6 7.2h-7.2zM438.2 29.5l3.6 7.2h-7.2zM439.4 39.6l3.6 7.2h-7.2zM440.5 66.2l3.6 7.2h-7.2zM441.7 43.7l3.6 7.2h-7.2zM442.9 32.3l3.6 7.2h-7.2zM444.1 36l3.6 7.2h-7.2zM445.2 76.3l3.6 7.2h-7.2zM446.4 72.4l3.6 7.2h-7.2zM447.6 38l3.6 7.2h-7.2zM448.8 41.1l3.6 7.2h-7.2zM450 68.2l3.6 7.2h-7.2zM451.1 67.9l3.6 7.2h-7.2zM452.3 65.5l3.6 7.2h-7.2zM453.5 29.3l3.6 7.2h-7.2zM454.7 41l3.6 7.2h-7.2zM455.8 61.9l3.6 7.2h-7.2zM457 42.3l3.6 7.2h-7.2zM458.2 30.6l3.6 7.2h-7.2zM459.4 43.3l3.6 7.2h-7.2zM460.6 55.7l3.6 7.2h-7.2zM461.7 48.8l3.6 7.2h-7.2zM462.9 41.4l3.6 7.2h-7.2zM464.1 33.8l3.6 7.2h-7.2zM465.3 55.7l3.6 7.2h-7.2zM466.5 70.8l3.6 7.2h-7.2zM467.6 62.7l3.6 7.2h-7.2zM468.8 36.5l3.6 7.2h-7.2zM470 37.3l3.6 7.2h-7.2zM471.2 76.9l3.6 7.2h-7.2zM472.3 62l3.6 7.2h-7.2zM473.5 35.6l3.6 7.2h-7.2zM474.7 77.9l3.6 7.2h-7.2zM475.9 39.8l3.6 7.2h-7.2zM477.1 44.5l3.6 7.2h-7.2zM478.2 70.3l3.6 7.2h-7.2zM479.4 27l3.6 7.2h-7.2zM480.6 56.2l3.6 7.2h-7.2zM481.8 71.9l3.6 7.2h-7.2zM483 47.4l3.6 7.2h-7.2zM484.1 75.8l3.6 7.2h-7.2zM485.3 35.1l3.6 7.2h-7.2zM486.5 45.3l3.6 7.2h-7.2zM487.7 46l3.6 7.2h-7.2zM488.8 39.8l3.6 7.2h-7.2zM490 31.4l3.6 7.2h-7.2zM491.2 45.6l3.6 7.2h-7.2zM492.4 77.1l3.6 7.2h-7.2zM493.6 39.6l3.6 7.2h-7.2zM494.7 46.4l3.6 7.2h-7.2zM495.9 35.2l3.6 7.2h-7.2zM497.1 74.7l3.6 7.2h-7.2zM498.3 75.6l3.6 7.2h-7.2zM499.4 39.1l3.6 7.2h-7.2zM500.6 35.9l3.6 7.2h-7.2zM501.8 74.8l3.6 7.2h-7.2zM503 35.6l3.6 7.2h-7.2zM504.2 74.9l3.6 7.2h-7.2zM505.3 48.8l3.6 7.2h-7.2zM506.5 38l3.6 7.2h-7.2zM507.7 40.2l3.6 7.2h-7.2zM508.9 69.5l3.6 7.2h-7.2zM510.1 35.3l3.6 7.2h-7.2zM511.2 39.7l3.6 7.2h-7.2zM512.4 34.7l3.6 7.2h-7.2zM513.6 32l3.6 7.2h-7.2zM514.8 40.7l3.6 7.2h-7.2zM515.9 44.8l3.6 7.2h-7.2zM517.1 40.8l3.6 7.2h-7.2zM518.3 32.8l3.6 7.2h-7.2zM519.5 38.5l3.6 7.2h-7.2zM520.7 73.9l3.6 7.2h-7.2zM521.8 37.7l3.6 7.2h-7.2zM523 34.8l3.6 7.2h-7.2zM524.2 68.8l3.6 7.2h-7.2zM525.4 46.3l3.6 7.2h-7.2zM526.6 73.6l3.6 7.2h-7.2zM527.7 46.6l3.6 7.2h-7.2zM528.9 38.5l3.6 7.2h-7.2zM530.1 48.9l3.6 7.2h-7.2zM531.3 46.8l3.6 7.2h-7.2zM532.4 38.4l3.6 7.2h-7.2zM533.6 76.8l3.6 7.2h-7.2zM534.8 68.2l3.6 7.2h-7.2zM536 29.7l3.6 7.2h-7.2zM537.2 72l3.6 7.2h-7.2zM538.3 33.3l3.6 7.2h-7.2zM539.5 39.6l3.6 7.2h-7.2zM540.7 32.6l3.6 7.2h-7.2zM541.9 69.6l3.6 7.2h-7.2zM543 77.9l3.6 7.2h-7.2zM544.2 41.7l3.6 7.2h-7.2zM545.4 40.3l3.6 7.2h-7.2zM546.6 35.4l3.6 7.2h-7.2zM547.8 29.2l3.6 7.2h-7.2zM548.9 38.1l3.6 7.2h-7.2zM550.1 45.9l3.6 7.2h-7.2zM551.3 25l3.6 7.2h-7.2zM552.5 68.3l3.6 7.2h-7.2zM553.7 39.4l3.6 7.2h-7.2zM554.8 43.6l3.6 7.2h-7.2zM556 73l3.6 7.2h-7.2zM557.2 41.9l3.6 7.2h-7.2zM558.4 39.9l3.6 7.2h-7.2zM559.5 76.7l3.6 7.2h-7.2zM560.7 35.6l3.6 7.2h-7.2zM561.9 62.6l3.6 7.2h-7.2zM563.1 41.1l3.6 7.2h-7.2zM564.3 50.8l3.6 7.2h-7.2zM565.4 41.5l3.6 7.2h-7.2zM566.6 39.7l3.6 7.2h-7.2zM567.8 43l3.6 7.2h-7.2zM569 41l3.6 7.2h-7.2zM570.2 64.8l3.6 7.2h-7.2zM571.3 40.6l3.6 7.2h-7.2zM572.5 36.4l3.6 7.2h-7.2zM573.7 79l3.6 7.2h-7.2zM574.9 63.4l3.6 7.2h-7.2zM576 39.7l3.6 7.2h-7.2zM577.2 48.4l3.6 7.2h-7.2zM578.4 48.7l3.6 7.2h-7.2zM579.6 48.8l3.6 7.2h-7.2zM580.8 45.2l3.6 7.2h-7.2zM581.9 46.6l3.6 7.2h-7.2zM583.1 42.8l3.6 7.2h-7.2zM584.3 81.6l3.6 7.2h-7.2zM585.5 60.9l3.6 7.2h-7.2zM586.7 58.1l3.6 7.2h-7.2zM587.8 55.9l3.6 7.2h-7.2zM589 65.1l3.6 7.2h-7.2zM590.2 59.9l3.6 7.2h-7.2zM591.4 56.6l3.6 7.2h-7.2zM592.5 68.8l3.6 7.2h-7.2zM593.7 50l3.6 7.2h-7.2zM594.9 62l3.6 7.2h-7.2zM596.1 62.6l3.6 7.2h-7.2zM597.3 60.3l3.6 7.2h-7.2zM598.4 52.6l3.6 7.2h-7.2zM599.6 54.9l3.6 7.2h-7.2zM600.8 65.8l3.6 7.2h-7.2zM602 59.9l3.6 7.2h-7.2zM603.1 60.6l3.6 7.2h-7.2zM604.3 73l3.6 7.2h-7.2zM605.5 55.4l3.6 7.2h-7.2zM606.7 70.4l3.6 7.2h-7.2zM607.9 72.9l3.6 7.2h-7.2zM609 68.1l3.6 7.2h-7.2zM610.2 69.9l3.6 7.2h-7.2zM611.4 74.6l3.6 7.2h-7.2zM612.6 54l3.6 7.2h-7.2zM613.8 56l3.6 7.2h-7.2zM614.9 77.8l3.6 7.2h-7.2zM616.1 59.6l3.6 7.2h-7.2zM617.3 56.3l3.6 7.2h-7.2zM618.5 67.6l3.6 7.2h-7.2zM619.6 67l3.6 7.2h-7.2zM620.8 71.6l3.6 7.2h-7.2zM622 68.2l3.6 7.2h-7.2zM623.2 87.9l3.6 7.2h-7.2zM624.4 85.6l3.6 7.2h-7.2zM625.5 52.8l3.6 7.2h-7.2zM626.7 92.3l3.6 7.2h-7.2zM627.9 96.6l3.6 7.2h-7.2zM629.1 90.2l3.6 7.2h-7.2zM630.3 90.9l3.6 7.2h-7.2zM631.4 99.3l3.6 7.2h-7.2zM632.6 99l3.6 7.2h-7.2zM633.8 92.6l3.6 7.2h-7.2zM635 102.6l3.6 7.2h-7.2zM636.1 99.2l3.6 7.2h-7.2zM637.3 97.9l3.6 7.2h-7.2zM638.5 97.5l3.6 7.2h-7.2zM639.7 106l3.6 7.2h-7.2zM640.9 97.6l3.6 7.2h-7.2zM642 102.1l3.6 7.2h-7.2zM643.2 108.7l3.6 7.2h-7.2zM644.4 108.4l3.6 7.2h-7.2zM645.6 102.8l3.6 7.2h-7.2zM646.7 108l3.6 7.2h-7.2zM647.9 114l3.6 7.2h-7.2zM649.1 107.7l3.6 7.2h-7.2zM650.3 114.3l3.6 7.2h-7.2zM651.5 115.8l3.6 7.2h-7.2zM652.6 113.1l3.6 7.2h-7.2z"/><path fill="none" stroke="#000" stroke-width="1.4" d="M46.9 15l7.2 7.2m0 -7.2l-7.2 7.2M48.1 22.8l7.2 7.2m0 -7.2l-7.2 7.2M49.2 18.8l7.2 7.2m0 -7.2l-7.2 7.2M50.4 19.9l7.2 7.2m0 -7.2l-7.2 7.2M51.6 20.8l7.2 7.2m0 -7.2l-7.2 7.2M52.8 20.1l7.2 7.2m0 -7.2l-7.2 7.2M53.9 18.7l7.2 7.2m0 -7.2l-7.2 7.2M55.1 21.1l7.2 7.2m0 -7.2l-7.2 7.2M56.3 17.8l7.2 7.2m0 -7.2l-7.2 7.2M57.5 24.7l7.2 7.2m0 -7.2l-7.2 7.2M58.7 26l7.2 7.2m0 -7.2l-7.2 7.2M59.8 20.9l7.2 7.2m0 -7.2l-7.2 7.2M61 19.8l7.2 7.2m0 -7.2l-7.2 7.2M62.2 25.2l7.2 7.2m0 -7.2l-7.2 7.2M63.4 21.6l7.2 7.2m0 -7.2l-7.2 7.2M64.6 31.8l7.2 7.2m0 -7.2l-7.2 7.2M65.7 39.6l7.2 7.2m0 -7.2l-7.2 7.2M66.9 23.5l7.2 7.2m0 -7.2l-7.2 7.2M68.1 24l7.2 7.2m0 -7.2l-7.2 7.2M69.3 19.7l7.2 7.2m0 -7.2l-7.2 7.2M70.4 24.7l7.2 7.2m0 -7.2l-7.2 7.2M71.6 20.8l7.2 7.2m0 -7.2l-7.2 7.2M72.8 27.6l7.2 7.2m0 -7.2l-7.2 7.2M74 21.1l7.2 7.2m0 -7.2l-7.2 7.2M75.2 27.8l7.2 7.2m0 -7.2l-7.2 7.2M76.3 22l7.2 7.2m0 -7.2l-7.2 7.2M77.5 18.9l7.2 7.2m0 -7.2l-7.2 7.2M78.7 23.5l7.2 7.2m0 -7.2l-7.2 7.2M79.9 18.8l7.2 7.2m0 -7.2l-7.2 7.2M81.1 20.5l7.2 7.2m0 -7.2l-7.2 7.2M82.2 21.2l7.2 7.2m0 -7.2l-7.2 7.2M83.4 23.5l7.2 7.2m0 -7.2l-7.2 7.2M84.6 24.4l7.2 7.2m0 -7.2l-7.2 7.2M85.8 22.8l7.2 7.2m0 -7.2l-7.2 7.2M86.9 22.5l7.2 7.2m0 -7.2l-7.2 7.2M88.1 21l7.2 7.2m0 -7.2l-7.2 7.2M89.3 21.4l7.2 7.2m0 -7.2l-7.2 7.2M90.5 23.9l7.2 7.2m0 -7.2l-7.2 7.2M91.7 22.7l7.2 7.2m0 -7.2l-7.2 7.2M92.8 21.6l7.2 7.2m0 -7.2l-7.2 7.2M94 28.9l7.2 7.2m0 -7.2l-7.2 7.2M95.2 25.7l7.2 7.2m0 -7.2l-7.2 7.2M96.4 25.8l7.2 7.2m0 -7.2l-7.2 7.2M97.5 32.7l7.2 7.2m0 -7.2l-7.2 7.2M98.7 24.1l7.2 7.2m0 -7.2l-7.2 7.2M99.9 23.3l7.2 7.2m0 -7.2l-7.2 7.2M101.1 26.3l7.2 7.2m0 -7.2l-7.2 7.2M102.3 21.1l7.2 7.2m0 -7.2l-7.2 7.2M103.4 22.5l7.2 7.2m0 -7.2l-7.2 7.2M104.6 29l7.2 7.2m0 -7.2l-7.2 7.2M105.8 34.4l7.2 7.2m0 -7.2l-7.2 7.2M107 35.7l7.2 7.2m0 -7.2l-7.2 7.2M108.2 17.8l7.2 7.2m0 -7.2l-7.2 7.2M109.3 52.4l7.2 7.2m0 -7.2l-7.2 7.2M110.5 27.2l7.2 7.2m0 -7.2l-7.2 7.2M111.7 24.8l7.2 7.2m0 -7.2l-7.2 7.2M112.9 24.5l7.2 7.2m0 -7.2l-7.2 7.2M114 24.1l7.2 7.2m0 -7.2l-7.2 7.2M115.2 18.7l7.2 7.2m0 -7.2l-7.2 7.2M116.4 23.2l7.2 7.2m0 -7.2l-7.2 7.2M117.6 21.2l7.2 7.2m0 -7.2l-7.2 7.2M118.8 20.2l7.2 7.2m0 -7.2l-7.2 7.2M119.9 27.4l7.2 7.2m0 -7.2l-7.2 7.2M121.1 31.1l7.2 7.2m0 -7.2l-7.2 7.2M122.3 21.9l7.2 7.2m0 -7.2l-7.2 7.2M123.5 21l7.2 7.2m0 -7.2l-7.2 7.2M124.7 27.2l7.2 7.2m0 -7.2l-7.2 7.2M125.8 21.6l7.2 7.2m0 -7.2l-7.2 7.2M127 23l7.2 7.2m0 -7.2l-7.2 7.2M128.2 40.6l7.2 7.2m0 -7.2l-7.2 7.2M129.4 39.8l7.2 7.2m0 -7.2l-7.2 7.2M130.5 22.6l7.2 7.2m0 -7.2l-7.2 7.2M131.7 25.4l7.2 7.2m0 -7.2l-7.2 7.2M132.9 50.3l7.2 7.2m0 -7.2l-7.2 7.2M134.1 62.5l7.2 7.2m0 -7.2l-7.2 7.2M135.3 60.3l7.2 7.2m0 -7.2l-7.2 7.2M136.4 44.8l7.2 7.2m0 -7.2l-7.2 7.2M137.6 30.8l7.2 7.2m0 -7.2l-7.2 7.2M138.8 38.5l7.2 7.2m0 -7.2l-7.2 7.2M140 57.3l7.2 7.2m0 -7.2l-7.2 7.2M141.2 28.9l7.2 7.2m0 -7.2l-7.2 7.2M142.3 28.3l7.2 7.2m0 -7.2l-7.2 7.2M143.5 34.1l7.2 7.2m0 -7.2l-7.2 7.2M144.7 37l7.2 7.2m0 -7.2l-7.2 7.2M145.9 23l7.2 7.2m0 -7.2l-7.2 7.2M147 28.8l7.2 7.2m0 -7.2l-7.2 7.2M148.2 26.3l7.2 7.2m0 -7.2l-7.2 7.2M149.4 21.9l7.2 7.2m0 -7.2l-7.2 7.2M150.6 30.8l7.2 7.2m0 -7.2l-7.2 7.2M151.8 39.3l7.2 7.2m0 -7.2l-7.2 7.2M152.9 24.5l7.2 7.2m0 -7.2l-7.2 7.2M154.1 31.8l7.2 7.2m0 -7.2l-7.2 7.2M155.3 23l7.2 7.2m0 -7.2l-7.2 7.2M156.5 24.5l7.2 7.2m0 -7.2l-7.2 7.2M157.6 23.8l7.2 7.2m0 -7.2l-7.2 7.2M158.8 29.1l7.2 7.2m0 -7.2l-7.2 7.2M160 35.1l7.2 7.2m0 -7.2l-7.2 7.2M161.2 40l7.2 7.2m0 -7.2l-7.2 7.2M162.4 58l7.2 7.2m0 -7.2l-7.2 7.2M163.5 25.8l7.2 7.2m0 -7.2l-7.2 7.2M164.7 25.6l7.2 7.2m0 -7.2l-7.2 7.2M165.9 44.1l7.2 7.2m0 -7.2l-7.2 7.2M167.1 56.1l7.2 7.2m0 -7.2l-7.2 7.2M168.3 28.5l7.2 7.2m0 -7.2l-7.2 7.2M169.4 32.7l7.2 7.2m0 -7.2l-7.2 7.2M170.6 52.2l7.2 7.2m0 -7.2l-7.2 7.2M171.8 27.2l7.2 7.2m0 -7.2l-7.2 7.2M173 21.4l7.2 7.2m0 -7.2l-7.2 7.2M174.1 20.7l7.2 7.2m0 -7.2l-7.2 7.2M175.3 28l7.2 7.2m0 -7.2l-7.2 7.2M176.5 27l7.2 7.2m0 -7.2l-7.2 7.2M177.7 25.9l7.2 7.2m0 -7.2l-7.2 7.2M178.9 26.9l7.2 7.2m0 -7.2l-7.2 7.2M180 27.4l7.2 7.2m0 -7.2l-7.2 7.2M181.2 27.5l7.2 7.2m0 -7.2l-7.2 7.2M182.4 23.3l7.2 7.2m0 -7.2l-7.2 7.2M183.6 31.2l7.2 7.2m0 -7.2l-7.2 7.2M184.8 26.9l7.2 7.2m0 -7.2l-7.2 7.2M185.9 27.8l7.2 7.2m0 -7.2l-7.2 7.2M187.1 41.8l7.2 7.2m0 -7.2l-7.2 7.2M188.3 21.2l7.2 7.2m0 -7.2l-7.2 7.2M189.5 34.2l7.2 7.2m0 -7.2l-7.2 7.2M190.6 42.4l7.2 7.2m0 -7.2l-7.2 7.2M191.8 24.4l7.2 7.2m0 -7.2l-7.2 7.2M193 43.9l7.2 7.2m0 -7.2l-7.2 7.2M194.2 24.3l7.2 7.2m0 -7.2l-7.2 7.2M195.4 42.3l7.2 7.2m0 -7.2l-7.2 7.2M196.5 29.3l7.2 7.2m0 -7.2l-7.2 7.2M197.7 49.5l7.2 7.2m0 -7.2l-7.2 7.2M198.9 30.1l7.2 7.2m0 -7.2l-7.2 7.2M200.1 32.4l7.2 7.2m0 -7.2l-7.2 7.2M201.2 26.1l7.2 7.2m0 -7.2l-7.2 7.2M202.4 25.7l7.2 7.2m0 -7.2l-7.2 7.2M203.6 30l7.2 7.2m0 -7.2l-7.2 7.2M204.8 24.8l7.2 7.2m0 -7.2l-7.2 7.2M206 21.9l7.2 7.2m0 -7.2l-7.2 7.2M207.1 24.3l7.2 7.2m0 -7.2l-7.2 7.2M208.3 30.5l7.2 7.2m0 -7.2l-7.2 7.2M209.5 25.6l7.2 7.2m0 -7.2l-7.2 7.2M210.7 41.5l7.2 7.2m0 -7.2l-7.2 7.2M211.9 31.4l7.2 7.2m0 -7.2l-7.2 7.2M213 31l7.2 7.2m0 -7.2l-7.2 7.2M214.2 26.3l7.2 7.2m0 -7.2l-7.2 7.2M215.4 25.3l7.2 7.2m0 -7.2l-7.2 7.2M216.6 29.6l7.2 7.2m0 -7.2l-7.2 7.2M217.7 26.3l7.2 7.2m0 -7.2l-7.2 7.2M218.9 25.6l7.2 7.2m0 -7.2l-7.2 7.2M220.1 48.1l7.2 7.2m0 -7.2l-7.2 7.2M221.3 68.2l7.2 7.2m0 -7.2l-7.2 7.2M222.5 33.8l7.2 7.2m0 -7.2l-7.2 7.2M223.6 31l7.2 7.2m0 -7.2l-7.2 7.2M224.8 30.4l7.2 7.2m0 -7.2l-7.2 7.2M226 27.5l7.2 7.2m0 -7.2l-7.2 7.2M227.2 29.9l7.2 7.2m0 -7.2l-7.2 7.2M228.4 29.5l7.2 7.2m0 -7.2l-7.2 7.2M229.5 24.8l7.2 7.2m0 -7.2l-7.2 7.2M230.7 36.9l7.2 7.2m0 -7.2l-7.2 7.2M231.9 25.8l7.2 7.2m0 -7.2l-7.2 7.2M233.1 68.8l7.2 7.2m0 -7.2l-7.2 7.2M234.2 28l7.2 7.2m0 -7.2l-7.2 7.2M235.4 66.6l7.2 7.2m0 -7.2l-7.2 7.2M236.6 35.3l7.2 7.2m0 -7.2l-7.2 7.2M237.8 30.2l7.2 7.2m0 -7.2l-7.2 7.2M239 36.3l7.2 7.2m0 -7.2l-7.2 7.2M240.1 30.1l7.2 7.2m0 -7.2l-7.2 7.2M241.3 43.2l7.2 7.2m0 -7.2l-7.2 7.2M242.5 68.2l7.2 7.2m0 -7.2l-7.2 7.2M243.7 32.3l7.2 7.2m0 -7.2l-7.2 7.2M244.8 56.1l7.2 7.2m0 -7.2l-7.2 7.2M246 54.1l7.2 7.2m0 -7.2l-7.2 7.2M247.2 32l7.2 7.2m0 -7.2l-7.2 7.2M248.4 32.3l7.2 7.2m0 -7.2l-7.2 7.2M249.6 52.4l7.2 7.2m0 -7.2l-7.2 7.2M250.7 31.8l7.2 7.2m0 -7.2l-7.2 7.2M251.9 36.8l7.2 7.2m0 -7.2l-7.2 7.2M253.1 25.1l7.2 7.2m0 -7.2l-7.2 7.2M254.3 53.2l7.2 7.2m0 -7.2l-7.2 7.2M255.5 28.9l7.2 7.2m0 -7.2l-7.2 7.2M256.6 34.7l7.2 7.2m0 -7.2l-7.2 7.2M257.8 27.8l7.2 7.2m0 -7.2l-7.2 7.2M259 29.4l7.2 7.2m0 -7.2l-7.2 7.2M260.2 24.3l7.2 7.2m0 -7.2l-7.2 7.2M261.3 28.5l7.2 7.2m0 -7.2l-7.2 7.2M262.5 24.8l7.2 7.2m0 -7.2l-7.2 7.2M263.7 39.1l7.2 7.2m0 -7.2l-7.2 7.2M264.9 57.3l7.2 7.2m0 -7.2l-7.2 7.2M266.1 35.4l7.2 7.2m0 -7.2l-7.2 7.2M267.2 28.5l7.2 7.2m0 -7.2l-7.2 7.2M268.4 27.5l7.2 7.2m0 -7.2l-7.2 7.2M269.6 23.1l7.2 7.2m0 -7.2l-7.2 7.2M270.8 29.9l7.2 7.2m0 -7.2l-7.2 7.2M272 25.8l7.2 7.2m0 -7.2l-7.2 7.2M273.1 43.7l7.2 7.2m0 -7.2l-7.2 7.2M274.3 62.1l7.2 7.2m0 -7.2l-7.2 7.2M275.5 28l7.2 7.2m0 -7.2l-7.2 7.2M276.7 32.5l7.2 7.2m0 -7.2l-7.2 7.2M277.8 29.1l7.2 7.2m0 -7.2l-7.2 7.2M279 34l7.2 7.2m0 -7.2l-7.2 7.2M280.2 19.5l7.2 7.2m0 -7.2l-7.2 7.2M281.4 22.2l7.2 7.2m0 -7.2l-7.2 7.2M282.6 23.1l7.2 7.2m0 -7.2l-7.2 7.2M283.7 26.3l7.2 7.2m0 -7.2l-7.2 7.2M284.9 31.6l7.2 7.2m0 -7.2l-7.2 7.2M286.1 23l7.2 7.2m0 -7.2l-7.2 7.2M287.3 23.9l7.2 7.2m0 -7.2l-7.2 7.2M288.5 24.2l7.2 7.2m0 -7.2l-7.2 7.2M289.6 54.4l7.2 7.2m0 -7.2l-7.2 7.2M290.8 25.9l7.2 7.2m0 -7.2l-7.2 7.2M292 50.3l7.2 7.2m0 -7.2l-7.2 7.2M293.2 31.4l7.2 7.2m0 -7.2l-7.2 7.2M294.3 31.3l7.2 7.2m0 -7.2l-7.2 7.2M295.5 30l7.2 7.2m0 -7.2l-7.2 7.2M296.7 23.9l7.2 7.2m0 -7.2l-7.2 7.2M297.9 32.1l7.2 7.2m0 -7.2l-7.2 7.2M299.1 21.5l7.2 7.2m0 -7.2l-7.2 7.2M300.2 32.7l7.2 7.2m0 -7.2l-7.2 7.2M301.4 30.4l7.2 7.2m0 -7.2l-7.2 7.2M302.6 42.9l7.2 7.2m0 -7.2l-7.2 7.2M303.8 27.8l7.2 7.2m0 -7.2l-7.2 7.2M304.9 24.2l7.2 7.2m0 -7.2l-7.2 7.2M306.1 28.8l7.2 7.2m0 -7.2l-7.2 7.2M307.3 31.3l7.2 7.2m0 -7.2l-7.2 7.2M308.5 26.4l7.2 7.2m0 -7.2l-7.2 7.2M309.7 38.1l7.2 7.2m0 -7.2l-7.2 7.2M310.8 27.1l7.2 7.2m0 -7.2l-7.2 7.2M312 23.7l7.2 7.2m0 -7.2l-7.2 7.2M313.2 29.8l7.2 7.2m0 -7.2l-7.2 7.2M314.4 25l7.2 7.2m0 -7.2l-7.2 7.2M315.6 38.7l7.2 7.2m0 -7.2l-7.2 7.2M316.7 25.2l7.2 7.2m0 -7.2l-7.2 7.2M317.9 69.6l7.2 7.2m0 -7.2l-7.2 7.2M319.1 30.5l7.2 7.2m0 -7.2l-7.2 7.2M320.3 28.5l7.2 7.2m0 -7.2l-7.2 7.2M321.4 57.5l7.2 7.2m0 -7.2l-7.2 7.2M322.6 23.5l7.2 7.2m0 -7.2l-7.2 7.2M323.8 22.2l7.2 7.2m0 -7.2l-7.2 7.2M325 26.3l7.2 7.2m0 -7.2l-7.2 7.2M326.2 30.3l7.2 7.2m0 -7.2l-7.2 7.2M327.3 30.3l7.2 7.2m0 -7.2l-7.2 7.2M328.5 28.4l7.2 7.2m0 -7.2l-7.2 7.2M329.7 23.1l7.2 7.2m0 -7.2l-7.2 7.2M330.9 26.7l7.2 7.2m0 -7.2l-7.2 7.2M332.1 28l7.2 7.2m0 -7.2l-7.2 7.2M333.2 30.4l7.2 7.2m0 -7.2l-7.2 7.2M334.4 55.7l7.2 7.2m0 -7.2l-7.2 7.2M335.6 26.9l7.2 7.2m0 -7.2l-7.2 7.2M336.8 28.1l7.2 7.2m0 -7.2l-7.2 7.2M337.9 27.5l7.2 7.2m0 -7.2l-7.2 7.2M339.1 22.2l7.2 7.2m0 -7.2l-7.2 7.2M340.3 28.5l7.2 7.2m0 -7.2l-7.2 7.2M341.5 22.2l7.2 7.2m0 -7.2l-7.2 7.2M342.7 23.7l7.2 7.2m0 -7.2l-7.2 7.2M343.8 27.8l7.2 7.2m0 -7.2l-7.2 7.2M345 25l7.2 7.2m0 -7.2l-7.2 7.2M346.2 28.4l7.2 7.2m0 -7.2l-7.2 7.2M347.4 30.8l7.2 7.2m0 -7.2l-7.2 7.2M348.5 28.9l7.2 7.2m0 -7.2l-7.2 7.2M349.7 70.7l7.2 7.2m0 -7.2l-7.2 7.2M350.9 68.9l7.2 7.2m0 -7.2l-7.2 7.2M352.1 68.2l7.2 7.2m0 -7.2l-7.2 7.2M353.3 26.1l7.2 7.2m0 -7.2l-7.2 7.2M354.4 25.3l7.2 7.2m0 -7.2l-7.2 7.2M355.6 38.7l7.2 7.2m0 -7.2l-7.2 7.2M356.8 71.2l7.2 7.2m0 -7.2l-7.2 7.2M358 61.4l7.2 7.2m0 -7.2l-7.2 7.2M359.2 27.5l7.2 7.2m0 -7.2l-7.2 7.2M360.3 31.1l7.2 7.2m0 -7.2l-7.2 7.2M361.5 57.9l7.2 7.2m0 -7.2l-7.2 7.2M362.7 23.5l7.2 7.2m0 -7.2l-7.2 7.2M363.9 60.8l7.2 7.2m0 -7.2l-7.2 7.2M365 27.5l7.2 7.2m0 -7.2l-7.2 7.2M366.2 48.8l7.2 7.2m0 -7.2l-7.2 7.2M367.4 34.6l7.2 7.2m0 -7.2l-7.2 7.2M368.6 26l7.2 7.2m0 -7.2l-7.2 7.2M369.8 28.1l7.2 7.2m0 -7.2l-7.2 7.2M370.9 41.1l7.2 7.2m0 -7.2l-7.2 7.2M372.1 30.7l7.2 7.2m0 -7.2l-7.2 7.2M373.3 32.9l7.2 7.2m0 -7.2l-7.2 7.2M374.5 29.6l7.2 7.2m0 -7.2l-7.2 7.2M375.7 34.4l7.2 7.2m0 -7.2l-7.2 7.2M376.8 31.5l7.2 7.2m0 -7.2l-7.2 7.2M378 29.6l7.2 7.2m0 -7.2l-7.2 7.2M379.2 29.6l7.2 7.2m0 -7.2l-7.2 7.2M380.4 48.3l7.2 7.2m0 -7.2l-7.2 7.2M381.5 76.6l7.2 7.2m0 -7.2l-7.2 7.2M382.7 26.5l7.2 7.2m0 -7.2l-7.2 7.2M383.9 30l7.2 7.2m0 -7.2l-7.2 7.2M385.1 33l7.2 7.2m0 -7.2l-7.2 7.2M386.3 31.2l7.2 7.2m0 -7.2l-7.2 7.2M387.4 29.7l7.2 7.2m0 -7.2l-7.2 7.2M388.6 56.9l7.2 7.2m0 -7.2l-7.2 7.2M389.8 26.8l7.2 7.2m0 -7.2l-7.2 7.2M391 31.5l7.2 7.2m0 -7.2l-7.2 7.2M392.1 28.4l7.2 7.2m0 -7.2l-7.2 7.2M393.3 27.7l7.2 7.2m0 -7.2l-7.2 7.2M394.5 67.1l7.2 7.2m0 -7.2l-7.2 7.2M395.7 30.6l7.2 7.2m0 -7.2l-7.2 7.2M396.9 31.3l7.2 7.2m0 -7.2l-7.2 7.2M398 75.6l7.2 7.2m0 -7.2l-7.2 7.2M399.2 31.8l7.2 7.2m0 -7.2l-7.2 7.2M400.4 27.9l7.2 7.2m0 -7.2l-7.2 7.2M401.6 29.3l7.2 7.2m0 -7.2l-7.2 7.2M402.8 30.2l7.2 7.2m0 -7.2l-7.2 7.2M403.9 65.8l7.2 7.2m0 -7.2l-7.2 7.2M405.1 62.1l7.2 7.2m0 -7.2l-7.2 7.2M406.3 42.7l7.2 7.2m0 -7.2l-7.2 7.2M407.5 41.3l7.2 7.2m0 -7.2l-7.2 7.2M408.6 44.7l7.2 7.2m0 -7.2l-7.2 7.2M409.8 74.2l7.2 7.2m0 -7.2l-7.2 7.2M411 56.6l7.2 7.2m0 -7.2l-7.2 7.2M412.2 31.5l7.2 7.2m0 -7.2l-7.2 7.2M413.4 25.7l7.2 7.2m0 -7.2l-7.2 7.2M414.5 44.7l7.2 7.2m0 -7.2l-7.2 7.2M415.7 26.6l7.2 7.2m0 -7.2l-7.2 7.2M416.9 28.2l7.2 7.2m0 -7.2l-7.2 7.2M418.1 62l7.2 7.2m0 -7.2l-7.2 7.2M419.3 74.4l7.2 7.2m0 -7.2l-7.2 7.2M420.4 51.4l7.2 7.2m0 -7.2l-7.2 7.2M421.6 28.2l7.2 7.2m0 -7.2l-7.2 7.2M422.8 29.1l7.2 7.2m0 -7.2l-7.2 7.2M424 38.3l7.2 7.2m0 -7.2l-7.2 7.2M425.1 56.5l7.2 7.2m0 -7.2l-7.2 7.2M426.3 32.8l7.2 7.2m0 -7.2l-7.2 7.2M427.5 26.4l7.2 7.2m0 -7.2l-7.2 7.2M428.7 23.2l7.2 7.2m0 -7.2l-7.2 7.2M429.9 23.2l7.2 7.2m0 -7.2l-7.2 7.2M431 36.8l7.2 7.2m0 -7.2l-7.2 7.2M432.2 32.3l7.2 7.2m0 -7.2l-7.2 7.2M433.4 70.9l7.2 7.2m0 -7.2l-7.2 7.2M434.6 31.5l7.2 7.2m0 -7.2l-7.2 7.2M435.8 56.4l7.2 7.2m0 -7.2l-7.2 7.2M436.9 22.8l7.2 7.2m0 -7.2l-7.2 7.2M438.1 48.8l7.2 7.2m0 -7.2l-7.2 7.2M439.3 53.7l7.2 7.2m0 -7.2l-7.2 7.2M440.5 28.2l7.2 7.2m0 -7.2l-7.2 7.2M441.6 29.7l7.2 7.2m0 -7.2l-7.2 7.2M442.8 59.4l7.2 7.2m0 -7.2l-7.2 7.2M444 66.1l7.2 7.2m0 -7.2l-7.2 7.2M445.2 73.2l7.2 7.2m0 -7.2l-7.2 7.2M446.4 25.7l7.2 7.2m0 -7.2l-7.2 7.2M447.5 25.1l7.2 7.2m0 -7.2l-7.2 7.2M448.7 72l7.2 7.2m0 -7.2l-7.2 7.2M449.9 33.3l7.2 7.2m0 -7.2l-7.2 7.2M451.1 72.9l7.2 7.2m0 -7.2l-7.2 7.2M452.2 33.4l7.2 7.2m0 -7.2l-7.2 7.2M453.4 77.1l7.2 7.2m0 -7.2l-7.2 7.2M454.6 74.7l7.2 7.2m0 -7.2l-7.2 7.2M455.8 30.1l7.2 7.2m0 -7.2l-7.2 7.2M457 35l7.2 7.2m0 -7.2l-7.2 7.2M458.1 31.3l7.2 7.2m0 -7.2l-7.2 7.2M459.3 66.3l7.2 7.2m0 -7.2l-7.2 7.2M460.5 33.6l7.2 7.2m0 -7.2l-7.2 7.2M461.7 32.6l7.2 7.2m0 -7.2l-7.2 7.2M462.9 24.1l7.2 7.2m0 -7.2l-7.2 7.2M464 25.1l7.2 7.2m0 -7.2l-7.2 7.2M465.2 66.1l7.2 7.2m0 -7.2l-7.2 7.2M466.4 34.1l7.2 7.2m0 -7.2l-7.2 7.2M467.6 28.3l7.2 7.2m0 -7.2l-7.2 7.2M468.7 33.6l7.2 7.2m0 -7.2l-7.2 7.2M469.9 30.5l7.2 7.2m0 -7.2l-7.2 7.2M471.1 31.2l7.2 7.2m0 -7.2l-7.2 7.2M472.3 27.7l7.2 7.2m0 -7.2l-7.2 7.2M473.5 38.2l7.2 7.2m0 -7.2l-7.2 7.2M474.6 37.2l7.2 7.2m0 -7.2l-7.2 7.2M475.8 52.7l7.2 7.2m0 -7.2l-7.2 7.2M477 75.7l7.2 7.2m0 -7.2l-7.2 7.2M478.2 66.7l7.2 7.2m0 -7.2l-7.2 7.2M479.4 35.6l7.2 7.2m0 -7.2l-7.2 7.2M480.5 28.1l7.2 7.2m0 -7.2l-7.2 7.2M481.7 27.4l7.2 7.2m0 -7.2l-7.2 7.2M482.9 30.6l7.2 7.2m0 -7.2l-7.2 7.2M484.1 38.5l7.2 7.2m0 -7.2l-7.2 7.2M485.2 33.6l7.2 7.2m0 -7.2l-7.2 7.2M486.4 79.1l7.2 7.2m0 -7.2l-7.2 7.2M487.6 29.4l7.2 7.2m0 -7.2l-7.2 7.2M488.8 28.1l7.2 7.2m0 -7.2l-7.2 7.2M490 30.1l7.2 7.2m0 -7.2l-7.2 7.2M491.1 31.2l7.2 7.2m0 -7.2l-7.2 7.2M492.3 69.7l7.2 7.2m0 -7.2l-7.2 7.2M493.5 29.1l7.2 7.2m0 -7.2l-7.2 7.2M494.7 31l7.2 7.2m0 -7.2l-7.2 7.2M495.8 30.8l7.2 7.2m0 -7.2l-7.2 7.2M497 55.2l7.2 7.2m0 -7.2l-7.2 7.2M498.2 64.9l7.2 7.2m0 -7.2l-7.2 7.2M499.4 27.1l7.2 7.2m0 -7.2l-7.2 7.2M500.6 35.4l7.2 7.2m0 -7.2l-7.2 7.2M501.7 46.7l7.2 7.2m0 -7.2l-7.2 7.2M502.9 32.1l7.2 7.2m0 -7.2l-7.2 7.2M504.1 79.4l7.2 7.2m0 -7.2l-7.2 7.2M505.3 74l7.2 7.2m0 -7.2l-7.2 7.2M506.5 57l7.2 7.2m0 -7.2l-7.2 7.2M507.6 27.4l7.2 7.2m0 -7.2l-7.2 7.2M508.8 32.6l7.2 7.2m0 -7.2l-7.2 7.2M510 34.1l7.2 7.2m0 -7.2l-7.2 7.2M511.2 30.2l7.2 7.2m0 -7.2l-7.2 7.2M512.3 34.7l7.2 7.2m0 -7.2l-7.2 7.2M513.5 24.6l7.2 7.2m0 -7.2l-7.2 7.2M514.7 35.3l7.2 7.2m0 -7.2l-7.2 7.2M515.9 74.5l7.2 7.2m0 -7.2l-7.2 7.2M517.1 31.2l7.2 7.2m0 -7.2l-7.2 7.2M518.2 30.3l7.2 7.2m0 -7.2l-7.2 7.2M519.4 74.3l7.2 7.2m0 -7.2l-7.2 7.2M520.6 27.8l7.2 7.2m0 -7.2l-7.2 7.2M521.8 67.6l7.2 7.2m0 -7.2l-7.2 7.2M523 60.1l7.2 7.2m0 -7.2l-7.2 7.2M524.1 32.3l7.2 7.2m0 -7.2l-7.2 7.2M525.3 36.4l7.2 7.2m0 -7.2l-7.2 7.2M526.5 75.8l7.2 7.2m0 -7.2l-7.2 7.2M527.7 27.6l7.2 7.2m0 -7.2l-7.2 7.2M528.8 31.4l7.2 7.2m0 -7.2l-7.2 7.2M530 40.5l7.2 7.2m0 -7.2l-7.2 7.2M531.2 30.4l7.2 7.2m0 -7.2l-7.2 7.2M532.4 25.4l7.2 7.2m0 -7.2l-7.2 7.2M533.6 65.4l7.2 7.2m0 -7.2l-7.2 7.2M534.7 34.2l7.2 7.2m0 -7.2l-7.2 7.2M535.9 32.8l7.2 7.2m0 -7.2l-7.2 7.2M537.1 35.8l7.2 7.2m0 -7.2l-7.2 7.2M538.3 36.5l7.2 7.2m0 -7.2l-7.2 7.2M539.4 29.8l7.2 7.2m0 -7.2l-7.2 7.2M540.6 80.9l7.2 7.2m0 -7.2l-7.2 7.2M541.8 79.7l7.2 7.2m0 -7.2l-7.2 7.2M543 71.1l7.2 7.2m0 -7.2l-7.2 7.2M544.2 31.9l7.2 7.2m0 -7.2l-7.2 7.2M545.3 34.9l7.2 7.2m0 -7.2l-7.2 7.2M546.5 61l7.2 7.2m0 -7.2l-7.2 7.2M547.7 30.1l7.2 7.2m0 -7.2l-7.2 7.2M548.9 54.2l7.2 7.2m0 -7.2l-7.2 7.2M550.1 57.5l7.2 7.2m0 -7.2l-7.2 7.2M551.2 29.9l7.2 7.2m0 -7.2l-7.2 7.2M552.4 57.2l7.2 7.2m0 -7.2l-7.2 7.2M553.6 40.6l7.2 7.2m0 -7.2l-7.2 7.2M554.8 31.7l7.2 7.2m0 -7.2l-7.2 7.2M555.9 63.8l7.2 7.2m0 -7.2l-7.2 7.2M557.1 55.2l7.2 7.2m0 -7.2l-7.2 7.2M558.3 37.7l7.2 7.2m0 -7.2l-7.2 7.2M559.5 27.6l7.2 7.2m0 -7.2l-7.2 7.2M560.7 81.2l7.2 7.2m0 -7.2l-7.2 7.2M561.8 52.9l7.2 7.2m0 -7.2l-7.2 7.2M563 35.5l7.2 7.2m0 -7.2l-7.2 7.2M564.2 65.5l7.2 7.2m0 -7.2l-7.2 7.2M565.4 42.1l7.2 7.2m0 -7.2l-7.2 7.2M566.6 45.9l7.2 7.2m0 -7.2l-7.2 7.2M567.7 40.2l7.2 7.2m0 -7.2l-7.2 7.2M568.9 79.7l7.2 7.2m0 -7.2l-7.2 7.2M570.1 57.5l7.2 7.2m0 -7.2l-7.2 7.2M571.3 55.3l7.2 7.2m0 -7.2l-7.2 7.2M572.4 40.4l7.2 7.2m0 -7.2l-7.2 7.2M573.6 48.2l7.2 7.2m0 -7.2l-7.2 7.2M574.8 53.1l7.2 7.2m0 -7.2l-7.2 7.2M576 50.6l7.2 7.2m0 -7.2l-7.2 7.2M577.2 38l7.2 7.2m0 -7.2l-7.2 7.2M578.3 50.8l7.2 7.2m0 -7.2l-7.2 7.2M579.5 41.2l7.2 7.2m0 -7.2l-7.2 7.2M580.7 50.3l7.2 7.2m0 -7.2l-7.2 7.2M581.9 53.6l7.2 7.2m0 -7.2l-7.2 7.2M583.1 37.2l7.2 7.2m0 -7.2l-7.2 7.2M584.2 35.1l7.2 7.2m0 -7.2l-7.2 7.2M585.4 41.7l7.2 7.2m0 -7.2l-7.2 7.2M586.6 53.5l7.2 7.2m0 -7.2l-7.2 7.2M587.8 66.5l7.2 7.2m0 -7.2l-7.2 7.2M588.9 42.4l7.2 7.2m0 -7.2l-7.2 7.2M590.1 58.5l7.2 7.2m0 -7.2l-7.2 7.2M591.3 43.6l7.2 7.2m0 -7.2l-7.2 7.2M592.5 66.3l7.2 7.2m0 -7.2l-7.2 7.2M593.7 68.4l7.2 7.2m0 -7.2l-7.2 7.2M594.8 68.1l7.2 7.2m0 -7.2l-7.2 7.2M596 62.7l7.2 7.2m0 -7.2l-7.2 7.2M597.2 51.3l7.2 7.2m0 -7.2l-7.2 7.2M598.4 36.7l7.2 7.2m0 -7.2l-7.2 7.2M599.5 44.9l7.2 7.2m0 -7.2l-7.2 7.2M600.7 68.4l7.2 7.2m0 -7.2l-7.2 7.2M601.9 78.9l7.2 7.2m0 -7.2l-7.2 7.2M603.1 55.7l7.2 7.2m0 -7.2l-7.2 7.2M604.3 79.1l7.2 7.2m0 -7.2l-7.2 7.2M605.4 58.5l7.2 7.2m0 -7.2l-7.2 7.2M606.6 73.1l7.2 7.2m0 -7.2l-7.2 7.2M607.8 53.6l7.2 7.2m0 -7.2l-7.2 7.2M609 73.6l7.2 7.2m0 -7.2l-7.2 7.2M610.2 81.5l7.2 7.2m0 -7.2l-7.2 7.2M611.3 50.2l7.2 7.2m0 -7.2l-7.2 7.2M612.5 73.8l7.2 7.2m0 -7.2l-7.2 7.2M613.7 61.8l7.2 7.2m0 -7.2l-7.2 7.2M614.9 79.1l7.2 7.2m0 -7.2l-7.2 7.2M616 77.3l7.2 7.2m0 -7.2l-7.2 7.2M617.2 80.1l7.2 7.2m0 -7.2l-7.2 7.2M618.4 56.1l7.2 7.2m0 -7.2l-7.2 7.2M619.6 65.6l7.2 7.2m0 -7.2l-7.2 7.2M620.8 67.8l7.2 7.2m0 -7.2l-7.2 7.2M621.9 61.3l7.2 7.2m0 -7.2l-7.2 7.2M623.1 66.6l7.2 7.2m0 -7.2l-7.2 7.2M624.3 74.4l7.2 7.2m0 -7.2l-7.2 7.2M625.5 80.1l7.2 7.2m0 -7.2l-7.2 7.2M626.7 66.1l7.2 7.2m0 -7.2l-7.2 7.2M627.8 65l7.2 7.2m0 -7.2l-7.2 7.2M629 75.9l7.2 7.2m0 -7.2l-7.2 7.2M630.2 71l7.2 7.2m0 -7.2l-7.2 7.2M631.4 64.9l7.2 7.2m0 -7.2l-7.2 7.2M632.5 84.5l7.2 7.2m0 -7.2l-7.2 7.2M633.7 66.9l7.2 7.2m0 -7.2l-7.2 7.2M634.9 83.4l7.2 7.2m0 -7.2l-7.2 7.2M636.1 90.7l7.2 7.2m0 -7.2l-7.2 7.2M637.3 71.3l7.2 7.2m0 -7.2l-7.2 7.2M638.4 77.2l7.2 7.2m0 -7.2l-7.2 7.2M639.6 74.1l7.2 7.2m0 -7.2l-7.2 7.2M640.8 74.3l7.2 7.2m0 -7.2l-7.2 7.2M642 71.4l7.2 7.2m0 -7.2l-7.2 7.2M643.1 63.3l7.2 7.2m0 -7.2l-7.2 7.2M644.3 65.7l7.2 7.2m0 -7.2l-7.2 7.2M645.5 76.3l7.2 7.2m0 -7.2l-7.2 7.2M646.7 63.3l7.2 7.2m0 -7.2l-7.2 7.2M647.9 71.9l7.2 7.2m0 -7.2l-7.2 7.2M649 101.8l7.2 7.2m0 -7.2l-7.2 7.2"/><path fill="none" stroke="#78963a" stroke-width="1.7" d="M46.7 10.1l7.6 7.6m0 -7.6l-7.6 7.6M50.5 10.1v7.6M47.9 12.7l7.6 7.6m0 -7.6l-7.6 7.6M51.7 12.7v7.6M49 14.4l7.6 7.6m0 -7.6l-7.6 7.6M52.8 14.4v7.6M50.2 15.8l7.6 7.6m0 -7.6l-7.6 7.6M54 15.8v7.6M51.4 9.7l7.6 7.6m0 -7.6l-7.6 7.6M55.2 9.7v7.6M52.6 14.4l7.6 7.6m0 -7.6l-7.6 7.6M56.4 14.4v7.6M53.7 17.8l7.6 7.6m0 -7.6l-7.6 7.6M57.5 17.8v7.6M54.9 16.1l7.6 7.6m0 -7.6l-7.6 7.6M58.7 16.1v7.6M56.1 11.7l7.6 7.6m0 -7.6l-7.6 7.6M59.9 11.7v7.6M57.3 13.8l7.6 7.6m0 -7.6l-7.6 7.6M61.1 13.8v7.6M58.5 13.9l7.6 7.6m0 -7.6l-7.6 7.6M62.3 13.9v7.6M59.6 11.1l7.6 7.6m0 -7.6l-7.6 7.6M63.4 11.1v7.6M60.8 32.1l7.6 7.6m0 -7.6l-7.6 7.6M64.6 32.1v7.6M62 29.1l7.6 7.6m0 -7.6l-7.6 7.6M65.8 29.1v7.6M63.2 24.9l7.6 7.6m0 -7.6l-7.6 7.6M67 24.9v7.6M64.4 35.8l7.6 7.6m0 -7.6l-7.6 7.6M68.2 35.8v7.6M65.5 31.1l7.6 7.6m0 -7.6l-7.6 7.6M69.3 31.1v7.6M66.7 9l7.6 7.6m0 -7.6l-7.6 7.6M70.5 9v7.6M67.9 35.8l7.6 7.6m0 -7.6l-7.6 7.6M71.7 35.8v7.6M69.1 9.2l7.6 7.6m0 -7.6l-7.6 7.6M72.9 9.2v7.6M70.2 28.8l7.6 7.6m0 -7.6l-7.6 7.6M74 28.8v7.6M71.4 35.3l7.6 7.6m0 -7.6l-7.6 7.6M75.2 35.3v7.6M72.6 33l7.6 7.6m0 -7.6l-7.6 7.6M76.4 33v7.6M73.8 23.9l7.6 7.6m0 -7.6l-7.6 7.6M77.6 23.9v7.6M75 10.3l7.6 7.6m0 -7.6l-7.6 7.6M78.8 10.3v7.6M76.1 21.3l7.6 7.6m0 -7.6l-7.6 7.6M79.9 21.3v7.6M77.3 16.9l7.6 7.6m0 -7.6l-7.6 7.6M81.1 16.9v7.6M78.5 19.9l7.6 7.6m0 -7.6l-7.6 7.6M82.3 19.9v7.6M79.7 17.8l7.6 7.6m0 -7.6l-7.6 7.6M83.5 17.8v7.6M80.9 25.9l7.6 7.6m0 -7.6l-7.6 7.6M84.7 25.9v7.6M82 15.9l7.6 7.6m0 -7.6l-7.6 7.6M85.8 15.9v7.6M83.2 10.3l7.6 7.6m0 -7.6l-7.6 7.6M87 10.3v7.6M84.4 37.3l7.6 7.6m0 -7.6l-7.6 7.6M88.2 37.3v7.6M85.6 36.4l7.6 7.6m0 -7.6l-7.6 7.6M89.4 36.4v7.6M86.7 12.8l7.6 7.6m0 -7.6l-7.6 7.6M90.5 12.8v7.6M87.9 24.2l7.6 7.6m0 -7.6l-7.6 7.6M91.7 24.2v7.6M89.1 9.6l7.6 7.6m0 -7.6l-7.6 7.6M92.9 9.6v7.6M90.3 9.2l7.6 7.6m0 -7.6l-7.6 7.6M94.1 9.2v7.6M91.5 18.1l7.6 7.6m0 -7.6l-7.6 7.6M95.3 18.1v7.6M92.6 22l7.6 7.6m0 -7.6l-7.6 7.6M96.4 22v7.6M93.8 25.5l7.6 7.6m0 -7.6l-7.6 7.6M97.6 25.5v7.6M95 35.8l7.6 7.6m0 -7.6l-7.6 7.6M98.8 35.8v7.6M96.2 20.2l7.6 7.6m0 -7.6l-7.6 7.6M100 20.2v7.6M97.3 41.5l7.6 7.6m0 -7.6l-7.6 7.6M101.1 41.5v7.6M98.5 11.1l7.6 7.6m0 -7.6l-7.6 7.6M102.3 11.1v7.6M99.7 25.9l7.6 7.6m0 -7.6l-7.6 7.6M103.5 25.9v7.6M100.9 16.8l7.6 7.6m0 -7.6l-7.6 7.6M104.7 16.8v7.6M102.1 33.9l7.6 7.6m0 -7.6l-7.6 7.6M105.9 33.9v7.6M103.2 13.3l7.6 7.6m0 -7.6l-7.6 7.6M107 13.3v7.6M104.4 20.1l7.6 7.6m0 -7.6l-7.6 7.6M108.2 20.1v7.6M105.6 23.4l7.6 7.6m0 -7.6l-7.6 7.6M109.4 23.4v7.6M106.8 27.5l7.6 7.6m0 -7.6l-7.6 7.6M110.6 27.5v7.6M108 28.3l7.6 7.6m0 -7.6l-7.6 7.6M111.8 28.3v7.6M109.1 50.8l7.6 7.6m0 -7.6l-7.6 7.6M112.9 50.8v7.6M110.3 35.4l7.6 7.6m0 -7.6l-7.6 7.6M114.1 35.4v7.6M111.5 14.5l7.6 7.6m0 -7.6l-7.6 7.6M115.3 14.5v7.6M112.7 25.8l7.6 7.6m0 -7.6l-7.6 7.6M116.5 25.8v7.6M113.8 31.8l7.6 7.6m0 -7.6l-7.6 7.6M117.6 31.8v7.6M115 8.7l7.6 7.6m0 -7.6l-7.6 7.6M118.8 8.7v7.6M116.2 13.2l7.6 7.6m0 -7.6l-7.6 7.6M120 13.2v7.6M117.4 11.5l7.6 7.6m0 -7.6l-7.6 7.6M121.2 11.5v7.6M118.6 28.5l7.6 7.6m0 -7.6l-7.6 7.6M122.4 28.5v7.6M119.7 25.7l7.6 7.6m0 -7.6l-7.6 7.6M123.5 25.7v7.6M120.9 50.5l7.6 7.6m0 -7.6l-7.6 7.6M124.7 50.5v7.6M122.1 9.7l7.6 7.6m0 -7.6l-7.6 7.6M125.9 9.7v7.6M123.3 15.5l7.6 7.6m0 -7.6l-7.6 7.6M127.1 15.5v7.6M124.5 23.5l7.6 7.6m0 -7.6l-7.6 7.6M128.3 23.5v7.6M125.6 10.4l7.6 7.6m0 -7.6l-7.6 7.6M129.4 10.4v7.6M126.8 9.3l7.6 7.6m0 -7.6l-7.6 7.6M130.6 9.3v7.6M128 21.5l7.6 7.6m0 -7.6l-7.6 7.6M131.8 21.5v7.6M129.2 38.3l7.6 7.6m0 -7.6l-7.6 7.6M133 38.3v7.6M130.3 11.3l7.6 7.6m0 -7.6l-7.6 7.6M134.1 11.3v7.6M131.5 10l7.6 7.6m0 -7.6l-7.6 7.6M135.3 10v7.6M132.7 8.9l7.6 7.6m0 -7.6l-7.6 7.6M136.5 8.9v7.6M133.9 32.8l7.6 7.6m0 -7.6l-7.6 7.6M137.7 32.8v7.6M135.1 13.9l7.6 7.6m0 -7.6l-7.6 7.6M138.9 13.9v7.6M136.2 9.4l7.6 7.6m0 -7.6l-7.6 7.6M140 9.4v7.6M137.4 10.2l7.6 7.6m0 -7.6l-7.6 7.6M141.2 10.2v7.6M138.6 14.3l7.6 7.6m0 -7.6l-7.6 7.6M142.4 14.3v7.6M139.8 23.7l7.6 7.6m0 -7.6l-7.6 7.6M143.6 23.7v7.6M141 14.8l7.6 7.6m0 -7.6l-7.6 7.6M144.8 14.8v7.6M142.1 16.3l7.6 7.6m0 -7.6l-7.6 7.6M145.9 16.3v7.6M143.3 29.4l7.6 7.6m0 -7.6l-7.6 7.6M147.1 29.4v7.6M144.5 15.2l7.6 7.6m0 -7.6l-7.6 7.6M148.3 15.2v7.6M145.7 9l7.6 7.6m0 -7.6l-7.6 7.6M149.5 9v7.6M146.8 29.4l7.6 7.6m0 -7.6l-7.6 7.6M150.6 29.4v7.6M148 13.6l7.6 7.6m0 -7.6l-7.6 7.6M151.8 13.6v7.6M149.2 16.9l7.6 7.6m0 -7.6l-7.6 7.6M153 16.9v7.6M150.4 62.1l7.6 7.6m0 -7.6l-7.6 7.6M154.2 62.1v7.6M151.6 17.6l7.6 7.6m0 -7.6l-7.6 7.6M155.4 17.6v7.6M152.7 34.9l7.6 7.6m0 -7.6l-7.6 7.6M156.5 34.9v7.6M153.9 13.8l7.6 7.6m0 -7.6l-7.6 7.6M157.7 13.8v7.6M155.1 12.7l7.6 7.6m0 -7.6l-7.6 7.6M158.9 12.7v7.6M156.3 12.3l7.6 7.6m0 -7.6l-7.6 7.6M160.1 12.3v7.6M157.4 9.4l7.6 7.6m0 -7.6l-7.6 7.6M161.2 9.4v7.6M158.6 29l7.6 7.6m0 -7.6l-7.6 7.6M162.4 29v7.6M159.8 9.4l7.6 7.6m0 -7.6l-7.6 7.6M163.6 9.4v7.6M161 12.2l7.6 7.6m0 -7.6l-7.6 7.6M164.8 12.2v7.6M162.2 45.1l7.6 7.6m0 -7.6l-7.6 7.6M166 45.1v7.6M163.3 19.1l7.6 7.6m0 -7.6l-7.6 7.6M167.1 19.1v7.6M164.5 14.2l7.6 7.6m0 -7.6l-7.6 7.6M168.3 14.2v7.6M165.7 23.6l7.6 7.6m0 -7.6l-7.6 7.6M169.5 23.6v7.6M166.9 52.8l7.6 7.6m0 -7.6l-7.6 7.6M170.7 52.8v7.6M168.1 21.6l7.6 7.6m0 -7.6l-7.6 7.6M171.9 21.6v7.6M169.2 12.7l7.6 7.6m0 -7.6l-7.6 7.6M173 12.7v7.6M170.4 62.1l7.6 7.6m0 -7.6l-7.6 7.6M174.2 62.1v7.6M171.6 12.1l7.6 7.6m0 -7.6l-7.6 7.6M175.4 12.1v7.6M172.8 20.1l7.6 7.6m0 -7.6l-7.6 7.6M176.6 20.1v7.6M173.9 18.1l7.6 7.6m0 -7.6l-7.6 7.6M177.7 18.1v7.6M175.1 16.5l7.6 7.6m0 -7.6l-7.6 7.6M178.9 16.5v7.6M176.3 21.1l7.6 7.6m0 -7.6l-7.6 7.6M180.1 21.1v7.6M177.5 18.5l7.6 7.6m0 -7.6l-7.6 7.6M181.3 18.5v7.6M178.7 47.4l7.6 7.6m0 -7.6l-7.6 7.6M182.5 47.4v7.6M179.8 9.9l7.6 7.6m0 -7.6l-7.6 7.6M183.6 9.9v7.6M181 13.2l7.6 7.6m0 -7.6l-7.6 7.6M184.8 13.2v7.6M182.2 14.2l7.6 7.6m0 -7.6l-7.6 7.6M186 14.2v7.6M183.4 15.3l7.6 7.6m0 -7.6l-7.6 7.6M187.2 15.3v7.6M184.6 9.4l7.6 7.6m0 -7.6l-7.6 7.6M188.4 9.4v7.6M185.7 13.5l7.6 7.6m0 -7.6l-7.6 7.6M189.5 13.5v7.6M186.9 10.9l7.6 7.6m0 -7.6l-7.6 7.6M190.7 10.9v7.6M188.1 10.8l7.6 7.6m0 -7.6l-7.6 7.6M191.9 10.8v7.6M189.3 18l7.6 7.6m0 -7.6l-7.6 7.6M193.1 18v7.6M190.4 9.4l7.6 7.6m0 -7.6l-7.6 7.6M194.2 9.4v7.6M191.6 57.6l7.6 7.6m0 -7.6l-7.6 7.6M195.4 57.6v7.6M192.8 10l7.6 7.6m0 -7.6l-7.6 7.6M196.6 10v7.6M194 19l7.6 7.6m0 -7.6l-7.6 7.6M197.8 19v7.6M195.2 17.3l7.6 7.6m0 -7.6l-7.6 7.6M199 17.3v7.6M196.3 12.5l7.6 7.6m0 -7.6l-7.6 7.6M200.1 12.5v7.6M197.5 14.7l7.6 7.6m0 -7.6l-7.6 7.6M201.3 14.7v7.6M198.7 9l7.6 7.6m0 -7.6l-7.6 7.6M202.5 9v7.6M199.9 10.8l7.6 7.6m0 -7.6l-7.6 7.6M203.7 10.8v7.6M201 11.9l7.6 7.6m0 -7.6l-7.6 7.6M204.8 11.9v7.6M202.2 9.7l7.6 7.6m0 -7.6l-7.6 7.6M206 9.7v7.6M203.4 37.7l7.6 7.6m0 -7.6l-7.6 7.6M207.2 37.7v7.6M204.6 65l7.6 7.6m0 -7.6l-7.6 7.6M208.4 65v7.6M205.8 9.4l7.6 7.6m0 -7.6l-7.6 7.6M209.6 9.4v7.6M206.9 9l7.6 7.6m0 -7.6l-7.6 7.6M210.7 9v7.6M208.1 52l7.6 7.6m0 -7.6l-7.6 7.6M211.9 52v7.6M209.3 9.8l7.6 7.6m0 -7.6l-7.6 7.6M213.1 9.8v7.6M210.5 16.2l7.6 7.6m0 -7.6l-7.6 7.6M214.3 16.2v7.6M211.7 59.6l7.6 7.6m0 -7.6l-7.6 7.6M215.5 59.6v7.6M212.8 10.7l7.6 7.6m0 -7.6l-7.6 7.6M216.6 10.7v7.6M214 9.6l7.6 7.6m0 -7.6l-7.6 7.6M217.8 9.6v7.6M215.2 12.7l7.6 7.6m0 -7.6l-7.6 7.6M219 12.7v7.6M216.4 13.7l7.6 7.6m0 -7.6l-7.6 7.6M220.2 13.7v7.6M217.5 37.2l7.6 7.6m0 -7.6l-7.6 7.6M221.3 37.2v7.6M218.7 9l7.6 7.6m0 -7.6l-7.6 7.6M222.5 9v7.6M219.9 20.2l7.6 7.6m0 -7.6l-7.6 7.6M223.7 20.2v7.6M221.1 12.1l7.6 7.6m0 -7.6l-7.6 7.6M224.9 12.1v7.6M222.3 10.3l7.6 7.6m0 -7.6l-7.6 7.6M226.1 10.3v7.6M223.4 9.9l7.6 7.6m0 -7.6l-7.6 7.6M227.2 9.9v7.6M224.6 12.3l7.6 7.6m0 -7.6l-7.6 7.6M228.4 12.3v7.6M225.8 13.9l7.6 7.6m0 -7.6l-7.6 7.6M229.6 13.9v7.6M227 21.3l7.6 7.6m0 -7.6l-7.6 7.6M230.8 21.3v7.6M228.2 14.5l7.6 7.6m0 -7.6l-7.6 7.6M232 14.5v7.6M229.3 10.6l7.6 7.6m0 -7.6l-7.6 7.6M233.1 10.6v7.6M230.5 17.1l7.6 7.6m0 -7.6l-7.6 7.6M234.3 17.1v7.6M231.7 14.6l7.6 7.6m0 -7.6l-7.6 7.6M235.5 14.6v7.6M232.9 66.1l7.6 7.6m0 -7.6l-7.6 7.6M236.7 66.1v7.6M234 10.1l7.6 7.6m0 -7.6l-7.6 7.6M237.8 10.1v7.6M235.2 30.5l7.6 7.6m0 -7.6l-7.6 7.6M239 30.5v7.6M236.4 41.5l7.6 7.6m0 -7.6l-7.6 7.6M240.2 41.5v7.6M237.6 14.6l7.6 7.6m0 -7.6l-7.6 7.6M241.4 14.6v7.6M238.8 10.1l7.6 7.6m0 -7.6l-7.6 7.6M242.6 10.1v7.6M239.9 15.6l7.6 7.6m0 -7.6l-7.6 7.6M243.7 15.6v7.6M241.1 22.7l7.6 7.6m0 -7.6l-7.6 7.6M244.9 22.7v7.6M242.3 51.3l7.6 7.6m0 -7.6l-7.6 7.6M246.1 51.3v7.6M243.5 30.9l7.6 7.6m0 -7.6l-7.6 7.6M247.3 30.9v7.6M244.6 14.6l7.6 7.6m0 -7.6l-7.6 7.6M248.4 14.6v7.6M245.8 37l7.6 7.6m0 -7.6l-7.6 7.6M249.6 37v7.6M247 17.1l7.6 7.6m0 -7.6l-7.6 7.6M250.8 17.1v7.6M248.2 16.2l7.6 7.6m0 -7.6l-7.6 7.6M252 16.2v7.6M249.4 15.8l7.6 7.6m0 -7.6l-7.6 7.6M253.2 15.8v7.6M250.5 9.6l7.6 7.6m0 -7.6l-7.6 7.6M254.3 9.6v7.6M251.7 43.1l7.6 7.6m0 -7.6l-7.6 7.6M255.5 43.1v7.6M252.9 14.1l7.6 7.6m0 -7.6l-7.6 7.6M256.7 14.1v7.6M254.1 16.7l7.6 7.6m0 -7.6l-7.6 7.6M257.9 16.7v7.6M255.3 46.9l7.6 7.6m0 -7.6l-7.6 7.6M259.1 46.9v7.6M256.4 68l7.6 7.6m0 -7.6l-7.6 7.6M260.2 68v7.6M257.6 14l7.6 7.6m0 -7.6l-7.6 7.6M261.4 14v7.6M258.8 21.1l7.6 7.6m0 -7.6l-7.6 7.6M262.6 21.1v7.6M260 44.4l7.6 7.6m0 -7.6l-7.6 7.6M263.8 44.4v7.6M261.1 11.1l7.6 7.6m0 -7.6l-7.6 7.6M264.9 11.1v7.6M262.3 11.3l7.6 7.6m0 -7.6l-7.6 7.6M266.1 11.3v7.6M263.5 8.8l7.6 7.6m0 -7.6l-7.6 7.6M267.3 8.8v7.6M264.7 15.3l7.6 7.6m0 -7.6l-7.6 7.6M268.5 15.3v7.6M265.9 18.6l7.6 7.6m0 -7.6l-7.6 7.6M269.7 18.6v7.6M267 17.9l7.6 7.6m0 -7.6l-7.6 7.6M270.8 17.9v7.6M268.2 33.3l7.6 7.6m0 -7.6l-7.6 7.6M272 33.3v7.6M269.4 9.3l7.6 7.6m0 -7.6l-7.6 7.6M273.2 9.3v7.6M270.6 16.8l7.6 7.6m0 -7.6l-7.6 7.6M274.4 16.8v7.6M271.8 47.2l7.6 7.6m0 -7.6l-7.6 7.6M275.6 47.2v7.6M272.9 9.1l7.6 7.6m0 -7.6l-7.6 7.6M276.7 9.1v7.6M274.1 8.8l7.6 7.6m0 -7.6l-7.6 7.6M277.9 8.8v7.6M275.3 13.2l7.6 7.6m0 -7.6l-7.6 7.6M279.1 13.2v7.6M276.5 19.8l7.6 7.6m0 -7.6l-7.6 7.6M280.3 19.8v7.6M277.6 15.6l7.6 7.6m0 -7.6l-7.6 7.6M281.4 15.6v7.6M278.8 17.5l7.6 7.6m0 -7.6l-7.6 7.6M282.6 17.5v7.6M280 27l7.6 7.6m0 -7.6l-7.6 7.6M283.8 27v7.6M281.2 12.1l7.6 7.6m0 -7.6l-7.6 7.6M285 12.1v7.6M282.4 18.3l7.6 7.6m0 -7.6l-7.6 7.6M286.2 18.3v7.6M283.5 21.6l7.6 7.6m0 -7.6l-7.6 7.6M287.3 21.6v7.6M284.7 13.6l7.6 7.6m0 -7.6l-7.6 7.6M288.5 13.6v7.6M285.9 15l7.6 7.6m0 -7.6l-7.6 7.6M289.7 15v7.6M287.1 14.6l7.6 7.6m0 -7.6l-7.6 7.6M290.9 14.6v7.6M288.3 11.1l7.6 7.6m0 -7.6l-7.6 7.6M292.1 11.1v7.6M289.4 11.6l7.6 7.6m0 -7.6l-7.6 7.6M293.2 11.6v7.6M290.6 42.5l7.6 7.6m0 -7.6l-7.6 7.6M294.4 42.5v7.6M291.8 10.4l7.6 7.6m0 -7.6l-7.6 7.6M295.6 10.4v7.6M293 10.7l7.6 7.6m0 -7.6l-7.6 7.6M296.8 10.7v7.6M294.1 13l7.6 7.6m0 -7.6l-7.6 7.6M297.9 13v7.6M295.3 10.6l7.6 7.6m0 -7.6l-7.6 7.6M299.1 10.6v7.6M296.5 17.6l7.6 7.6m0 -7.6l-7.6 7.6M300.3 17.6v7.6M297.7 23l7.6 7.6m0 -7.6l-7.6 7.6M301.5 23v7.6M298.9 24.8l7.6 7.6m0 -7.6l-7.6 7.6M302.7 24.8v7.6M300 10.9l7.6 7.6m0 -7.6l-7.6 7.6M303.8 10.9v7.6M301.2 9.8l7.6 7.6m0 -7.6l-7.6 7.6M305 9.8v7.6M302.4 13.1l7.6 7.6m0 -7.6l-7.6 7.6M306.2 13.1v7.6M303.6 15.7l7.6 7.6m0 -7.6l-7.6 7.6M307.4 15.7v7.6M304.7 14l7.6 7.6m0 -7.6l-7.6 7.6M308.5 14v7.6M305.9 38.2l7.6 7.6m0 -7.6l-7.6 7.6M309.7 38.2v7.6M307.1 11.3l7.6 7.6m0 -7.6l-7.6 7.6M310.9 11.3v7.6M308.3 13.5l7.6 7.6m0 -7.6l-7.6 7.6M312.1 13.5v7.6M309.5 19l7.6 7.6m0 -7.6l-7.6 7.6M313.3 19v7.6M310.6 12.7l7.6 7.6m0 -7.6l-7.6 7.6M314.4 12.7v7.6M311.8 10.3l7.6 7.6m0 -7.6l-7.6 7.6M315.6 10.3v7.6M313 22.7l7.6 7.6m0 -7.6l-7.6 7.6M316.8 22.7v7.6M314.2 11.9l7.6 7.6m0 -7.6l-7.6 7.6M318 11.9v7.6M315.4 21.9l7.6 7.6m0 -7.6l-7.6 7.6M319.2 21.9v7.6M316.5 17.5l7.6 7.6m0 -7.6l-7.6 7.6M320.3 17.5v7.6M317.7 22.6l7.6 7.6m0 -7.6l-7.6 7.6M321.5 22.6v7.6M318.9 10.1l7.6 7.6m0 -7.6l-7.6 7.6M322.7 10.1v7.6M320.1 14.1l7.6 7.6m0 -7.6l-7.6 7.6M323.9 14.1v7.6M321.2 13.5l7.6 7.6m0 -7.6l-7.6 7.6M325 13.5v7.6M322.4 8.8l7.6 7.6m0 -7.6l-7.6 7.6M326.2 8.8v7.6M323.6 24.5l7.6 7.6m0 -7.6l-7.6 7.6M327.4 24.5v7.6M324.8 10l7.6 7.6m0 -7.6l-7.6 7.6M328.6 10v7.6M326 9.9l7.6 7.6m0 -7.6l-7.6 7.6M329.8 9.9v7.6M327.1 21.5l7.6 7.6m0 -7.6l-7.6 7.6M330.9 21.5v7.6M328.3 12.1l7.6 7.6m0 -7.6l-7.6 7.6M332.1 12.1v7.6M329.5 12.2l7.6 7.6m0 -7.6l-7.6 7.6M333.3 12.2v7.6M330.7 10.6l7.6 7.6m0 -7.6l-7.6 7.6M334.5 10.6v7.6M331.9 12.4l7.6 7.6m0 -7.6l-7.6 7.6M335.7 12.4v7.6M333 8.9l7.6 7.6m0 -7.6l-7.6 7.6M336.8 8.9v7.6M334.2 16.6l7.6 7.6m0 -7.6l-7.6 7.6M338 16.6v7.6M335.4 10.1l7.6 7.6m0 -7.6l-7.6 7.6M339.2 10.1v7.6M336.6 9.6l7.6 7.6m0 -7.6l-7.6 7.6M340.4 9.6v7.6M337.7 16.5l7.6 7.6m0 -7.6l-7.6 7.6M341.5 16.5v7.6M338.9 13.4l7.6 7.6m0 -7.6l-7.6 7.6M342.7 13.4v7.6M340.1 71.5l7.6 7.6m0 -7.6l-7.6 7.6M343.9 71.5v7.6M341.3 13.7l7.6 7.6m0 -7.6l-7.6 7.6M345.1 13.7v7.6M342.5 11.3l7.6 7.6m0 -7.6l-7.6 7.6M346.3 11.3v7.6M343.6 21.1l7.6 7.6m0 -7.6l-7.6 7.6M347.4 21.1v7.6M344.8 72.5l7.6 7.6m0 -7.6l-7.6 7.6M348.6 72.5v7.6M346 12.2l7.6 7.6m0 -7.6l-7.6 7.6M349.8 12.2v7.6M347.2 21.6l7.6 7.6m0 -7.6l-7.6 7.6M351 21.6v7.6M348.3 11.9l7.6 7.6m0 -7.6l-7.6 7.6M352.1 11.9v7.6M349.5 13.9l7.6 7.6m0 -7.6l-7.6 7.6M353.3 13.9v7.6M350.7 8.9l7.6 7.6m0 -7.6l-7.6 7.6M354.5 8.9v7.6M351.9 23.5l7.6 7.6m0 -7.6l-7.6 7.6M355.7 23.5v7.6M353.1 25.1l7.6 7.6m0 -7.6l-7.6 7.6M356.9 25.1v7.6M354.2 9.9l7.6 7.6m0 -7.6l-7.6 7.6M358 9.9v7.6M355.4 12.6l7.6 7.6m0 -7.6l-7.6 7.6M359.2 12.6v7.6M356.6 15.1l7.6 7.6m0 -7.6l-7.6 7.6M360.4 15.1v7.6M357.8 69.9l7.6 7.6m0 -7.6l-7.6 7.6M361.6 69.9v7.6M359 11.1l7.6 7.6m0 -7.6l-7.6 7.6M362.8 11.1v7.6M360.1 20l7.6 7.6m0 -7.6l-7.6 7.6M363.9 20v7.6M361.3 10.8l7.6 7.6m0 -7.6l-7.6 7.6M365.1 10.8v7.6M362.5 19.6l7.6 7.6m0 -7.6l-7.6 7.6M366.3 19.6v7.6M363.7 15.4l7.6 7.6m0 -7.6l-7.6 7.6M367.5 15.4v7.6M364.8 12.1l7.6 7.6m0 -7.6l-7.6 7.6M368.6 12.1v7.6M366 21.9l7.6 7.6m0 -7.6l-7.6 7.6M369.8 21.9v7.6M367.2 43.6l7.6 7.6m0 -7.6l-7.6 7.6M371 43.6v7.6M368.4 23.5l7.6 7.6m0 -7.6l-7.6 7.6M372.2 23.5v7.6M369.6 15.2l7.6 7.6m0 -7.6l-7.6 7.6M373.4 15.2v7.6M370.7 10.7l7.6 7.6m0 -7.6l-7.6 7.6M374.5 10.7v7.6M371.9 24l7.6 7.6m0 -7.6l-7.6 7.6M375.7 24v7.6M373.1 74.1l7.6 7.6m0 -7.6l-7.6 7.6M376.9 74.1v7.6M374.3 10l7.6 7.6m0 -7.6l-7.6 7.6M378.1 10v7.6M375.5 24.6l7.6 7.6m0 -7.6l-7.6 7.6M379.3 24.6v7.6M376.6 31l7.6 7.6m0 -7.6l-7.6 7.6M380.4 31v7.6M377.8 19.2l7.6 7.6m0 -7.6l-7.6 7.6M381.6 19.2v7.6M379 13.1l7.6 7.6m0 -7.6l-7.6 7.6M382.8 13.1v7.6M380.2 19l7.6 7.6m0 -7.6l-7.6 7.6M384 19v7.6M381.3 17.6l7.6 7.6m0 -7.6l-7.6 7.6M385.1 17.6v7.6M382.5 36.5l7.6 7.6m0 -7.6l-7.6 7.6M386.3 36.5v7.6M383.7 23.2l7.6 7.6m0 -7.6l-7.6 7.6M387.5 23.2v7.6M384.9 15.1l7.6 7.6m0 -7.6l-7.6 7.6M388.7 15.1v7.6M386.1 18l7.6 7.6m0 -7.6l-7.6 7.6M389.9 18v7.6M387.2 9.9l7.6 7.6m0 -7.6l-7.6 7.6M391 9.9v7.6M388.4 65.5l7.6 7.6m0 -7.6l-7.6 7.6M392.2 65.5v7.6M389.6 22.5l7.6 7.6m0 -7.6l-7.6 7.6M393.4 22.5v7.6M390.8 16.7l7.6 7.6m0 -7.6l-7.6 7.6M394.6 16.7v7.6M391.9 11.9l7.6 7.6m0 -7.6l-7.6 7.6M395.7 11.9v7.6M393.1 27.2l7.6 7.6m0 -7.6l-7.6 7.6M396.9 27.2v7.6M394.3 20.7l7.6 7.6m0 -7.6l-7.6 7.6M398.1 20.7v7.6M395.5 18.8l7.6 7.6m0 -7.6l-7.6 7.6M399.3 18.8v7.6M396.7 11.1l7.6 7.6m0 -7.6l-7.6 7.6M400.5 11.1v7.6M397.8 56.6l7.6 7.6m0 -7.6l-7.6 7.6M401.6 56.6v7.6M399 22.4l7.6 7.6m0 -7.6l-7.6 7.6M402.8 22.4v7.6M400.2 23.4l7.6 7.6m0 -7.6l-7.6 7.6M404 23.4v7.6M401.4 21.3l7.6 7.6m0 -7.6l-7.6 7.6M405.2 21.3v7.6M402.6 10.7l7.6 7.6m0 -7.6l-7.6 7.6M406.4 10.7v7.6M403.7 14.2l7.6 7.6m0 -7.6l-7.6 7.6M407.5 14.2v7.6M404.9 16.3l7.6 7.6m0 -7.6l-7.6 7.6M408.7 16.3v7.6M406.1 15l7.6 7.6m0 -7.6l-7.6 7.6M409.9 15v7.6M407.3 10.5l7.6 7.6m0 -7.6l-7.6 7.6M411.1 10.5v7.6M408.4 27.5l7.6 7.6m0 -7.6l-7.6 7.6M412.2 27.5v7.6M409.6 18.3l7.6 7.6m0 -7.6l-7.6 7.6M413.4 18.3v7.6M410.8 64.2l7.6 7.6m0 -7.6l-7.6 7.6M414.6 64.2v7.6M412 76.1l7.6 7.6m0 -7.6l-7.6 7.6M415.8 76.1v7.6M413.2 30.6l7.6 7.6m0 -7.6l-7.6 7.6M417 30.6v7.6M414.3 13.8l7.6 7.6m0 -7.6l-7.6 7.6M418.1 13.8v7.6M415.5 21.8l7.6 7.6m0 -7.6l-7.6 7.6M419.3 21.8v7.6M416.7 19.4l7.6 7.6m0 -7.6l-7.6 7.6M420.5 19.4v7.6M417.9 76.9l7.6 7.6m0 -7.6l-7.6 7.6M421.7 76.9v7.6M419.1 27.7l7.6 7.6m0 -7.6l-7.6 7.6M422.9 27.7v7.6M420.2 56.3l7.6 7.6m0 -7.6l-7.6 7.6M424 56.3v7.6M421.4 13.2l7.6 7.6m0 -7.6l-7.6 7.6M425.2 13.2v7.6M422.6 13.1l7.6 7.6m0 -7.6l-7.6 7.6M426.4 13.1v7.6M423.8 34.6l7.6 7.6m0 -7.6l-7.6 7.6M427.6 34.6v7.6M424.9 51.6l7.6 7.6m0 -7.6l-7.6 7.6M428.7 51.6v7.6M426.1 21.3l7.6 7.6m0 -7.6l-7.6 7.6M429.9 21.3v7.6M427.3 14.6l7.6 7.6m0 -7.6l-7.6 7.6M431.1 14.6v7.6M428.5 35.6l7.6 7.6m0 -7.6l-7.6 7.6M432.3 35.6v7.6M429.7 23.2l7.6 7.6m0 -7.6l-7.6 7.6M433.5 23.2v7.6M430.8 77.8l7.6 7.6m0 -7.6l-7.6 7.6M434.6 77.8v7.6M432 65.3l7.6 7.6m0 -7.6l-7.6 7.6M435.8 65.3v7.6M433.2 24.9l7.6 7.6m0 -7.6l-7.6 7.6M437 24.9v7.6M434.4 12.8l7.6 7.6m0 -7.6l-7.6 7.6M438.2 12.8v7.6M435.6 77l7.6 7.6m0 -7.6l-7.6 7.6M439.4 77v7.6M436.7 14.6l7.6 7.6m0 -7.6l-7.6 7.6M440.5 14.6v7.6M437.9 9.5l7.6 7.6m0 -7.6l-7.6 7.6M441.7 9.5v7.6M439.1 11.7l7.6 7.6m0 -7.6l-7.6 7.6M442.9 11.7v7.6M440.3 15.1l7.6 7.6m0 -7.6l-7.6 7.6M444.1 15.1v7.6M441.4 11.8l7.6 7.6m0 -7.6l-7.6 7.6M445.2 11.8v7.6M442.6 9.6l7.6 7.6m0 -7.6l-7.6 7.6M446.4 9.6v7.6M443.8 13.6l7.6 7.6m0 -7.6l-7.6 7.6M447.6 13.6v7.6M445 22.8l7.6 7.6m0 -7.6l-7.6 7.6M448.8 22.8v7.6M446.2 69l7.6 7.6m0 -7.6l-7.6 7.6M450 69v7.6M447.3 22l7.6 7.6m0 -7.6l-7.6 7.6M451.1 22v7.6M448.5 15.2l7.6 7.6m0 -7.6l-7.6 7.6M452.3 15.2v7.6M449.7 20.4l7.6 7.6m0 -7.6l-7.6 7.6M453.5 20.4v7.6M450.9 18.8l7.6 7.6m0 -7.6l-7.6 7.6M454.7 18.8v7.6M452 47l7.6 7.6m0 -7.6l-7.6 7.6M455.8 47v7.6M453.2 74.3l7.6 7.6m0 -7.6l-7.6 7.6M457 74.3v7.6M454.4 31.8l7.6 7.6m0 -7.6l-7.6 7.6M458.2 31.8v7.6M455.6 75.8l7.6 7.6m0 -7.6l-7.6 7.6M459.4 75.8v7.6M456.8 13.2l7.6 7.6m0 -7.6l-7.6 7.6M460.6 13.2v7.6M457.9 22.9l7.6 7.6m0 -7.6l-7.6 7.6M461.7 22.9v7.6M459.1 11.3l7.6 7.6m0 -7.6l-7.6 7.6M462.9 11.3v7.6M460.3 13.1l7.6 7.6m0 -7.6l-7.6 7.6M464.1 13.1v7.6M461.5 75.2l7.6 7.6m0 -7.6l-7.6 7.6M465.3 75.2v7.6M462.7 31.1l7.6 7.6m0 -7.6l-7.6 7.6M466.5 31.1v7.6M463.8 17.1l7.6 7.6m0 -7.6l-7.6 7.6M467.6 17.1v7.6M465 14.8l7.6 7.6m0 -7.6l-7.6 7.6M468.8 14.8v7.6M466.2 9.5l7.6 7.6m0 -7.6l-7.6 7.6M470 9.5v7.6M467.4 40.4l7.6 7.6m0 -7.6l-7.6 7.6M471.2 40.4v7.6M468.5 69.4l7.6 7.6m0 -7.6l-7.6 7.6M472.3 69.4v7.6M469.7 16.8l7.6 7.6m0 -7.6l-7.6 7.6M473.5 16.8v7.6M470.9 19.7l7.6 7.6m0 -7.6l-7.6 7.6M474.7 19.7v7.6M472.1 12.2l7.6 7.6m0 -7.6l-7.6 7.6M475.9 12.2v7.6M473.3 11.2l7.6 7.6m0 -7.6l-7.6 7.6M477.1 11.2v7.6M474.4 18.5l7.6 7.6m0 -7.6l-7.6 7.6M478.2 18.5v7.6M475.6 13.4l7.6 7.6m0 -7.6l-7.6 7.6M479.4 13.4v7.6M476.8 46.6l7.6 7.6m0 -7.6l-7.6 7.6M480.6 46.6v7.6M478 26.7l7.6 7.6m0 -7.6l-7.6 7.6M481.8 26.7v7.6M479.2 10.8l7.6 7.6m0 -7.6l-7.6 7.6M483 10.8v7.6M480.3 16.2l7.6 7.6m0 -7.6l-7.6 7.6M484.1 16.2v7.6M481.5 21.2l7.6 7.6m0 -7.6l-7.6 7.6M485.3 21.2v7.6M482.7 59.8l7.6 7.6m0 -7.6l-7.6 7.6M486.5 59.8v7.6M483.9 22.8l7.6 7.6m0 -7.6l-7.6 7.6M487.7 22.8v7.6M485 60.3l7.6 7.6m0 -7.6l-7.6 7.6M488.8 60.3v7.6M486.2 78.9l7.6 7.6m0 -7.6l-7.6 7.6M490 78.9v7.6M487.4 30.4l7.6 7.6m0 -7.6l-7.6 7.6M491.2 30.4v7.6M488.6 11.3l7.6 7.6m0 -7.6l-7.6 7.6M492.4 11.3v7.6M489.8 15.3l7.6 7.6m0 -7.6l-7.6 7.6M493.6 15.3v7.6M490.9 33.6l7.6 7.6m0 -7.6l-7.6 7.6M494.7 33.6v7.6M492.1 19.1l7.6 7.6m0 -7.6l-7.6 7.6M495.9 19.1v7.6M493.3 67.5l7.6 7.6m0 -7.6l-7.6 7.6M497.1 67.5v7.6M494.5 71.6l7.6 7.6m0 -7.6l-7.6 7.6M498.3 71.6v7.6M495.6 76.1l7.6 7.6m0 -7.6l-7.6 7.6M499.4 76.1v7.6M496.8 25.7l7.6 7.6m0 -7.6l-7.6 7.6M500.6 25.7v7.6M498 33.6l7.6 7.6m0 -7.6l-7.6 7.6M501.8 33.6v7.6M499.2 10.4l7.6 7.6m0 -7.6l-7.6 7.6M503 10.4v7.6M500.4 11.8l7.6 7.6m0 -7.6l-7.6 7.6M504.2 11.8v7.6M501.5 46.8l7.6 7.6m0 -7.6l-7.6 7.6M505.3 46.8v7.6M502.7 18l7.6 7.6m0 -7.6l-7.6 7.6M506.5 18v7.6M503.9 24.8l7.6 7.6m0 -7.6l-7.6 7.6M507.7 24.8v7.6M505.1 50.3l7.6 7.6m0 -7.6l-7.6 7.6M508.9 50.3v7.6M506.3 76.7l7.6 7.6m0 -7.6l-7.6 7.6M510.1 76.7v7.6M507.4 22.1l7.6 7.6m0 -7.6l-7.6 7.6M511.2 22.1v7.6M508.6 27.3l7.6 7.6m0 -7.6l-7.6 7.6M512.4 27.3v7.6M509.8 21.9l7.6 7.6m0 -7.6l-7.6 7.6M513.6 21.9v7.6M511 15.8l7.6 7.6m0 -7.6l-7.6 7.6M514.8 15.8v7.6M512.1 70.9l7.6 7.6m0 -7.6l-7.6 7.6M515.9 70.9v7.6M513.3 71.3l7.6 7.6m0 -7.6l-7.6 7.6M517.1 71.3v7.6M514.5 21.6l7.6 7.6m0 -7.6l-7.6 7.6M518.3 21.6v7.6M515.7 10.1l7.6 7.6m0 -7.6l-7.6 7.6M519.5 10.1v7.6M516.9 15.4l7.6 7.6m0 -7.6l-7.6 7.6M520.7 15.4v7.6M518 9.6l7.6 7.6m0 -7.6l-7.6 7.6M521.8 9.6v7.6M519.2 75.7l7.6 7.6m0 -7.6l-7.6 7.6M523 75.7v7.6M520.4 11.8l7.6 7.6m0 -7.6l-7.6 7.6M524.2 11.8v7.6M521.6 25.6l7.6 7.6m0 -7.6l-7.6 7.6M525.4 25.6v7.6M522.8 12.2l7.6 7.6m0 -7.6l-7.6 7.6M526.6 12.2v7.6M523.9 12.6l7.6 7.6m0 -7.6l-7.6 7.6M527.7 12.6v7.6M525.1 12.5l7.6 7.6m0 -7.6l-7.6 7.6M528.9 12.5v7.6M526.3 12.3l7.6 7.6m0 -7.6l-7.6 7.6M530.1 12.3v7.6M527.5 16.6l7.6 7.6m0 -7.6l-7.6 7.6M531.3 16.6v7.6M528.6 75.9l7.6 7.6m0 -7.6l-7.6 7.6M532.4 75.9v7.6M529.8 74.2l7.6 7.6m0 -7.6l-7.6 7.6M533.6 74.2v7.6M531 68.2l7.6 7.6m0 -7.6l-7.6 7.6M534.8 68.2v7.6M532.2 14.2l7.6 7.6m0 -7.6l-7.6 7.6M536 14.2v7.6M533.4 24.1l7.6 7.6m0 -7.6l-7.6 7.6M537.2 24.1v7.6M534.5 32.3l7.6 7.6m0 -7.6l-7.6 7.6M538.3 32.3v7.6M535.7 27.4l7.6 7.6m0 -7.6l-7.6 7.6M539.5 27.4v7.6M536.9 15.9l7.6 7.6m0 -7.6l-7.6 7.6M540.7 15.9v7.6M538.1 73.5l7.6 7.6m0 -7.6l-7.6 7.6M541.9 73.5v7.6M539.2 15.5l7.6 7.6m0 -7.6l-7.6 7.6M543 15.5v7.6M540.4 15.9l7.6 7.6m0 -7.6l-7.6 7.6M544.2 15.9v7.6M541.6 20.6l7.6 7.6m0 -7.6l-7.6 7.6M545.4 20.6v7.6M542.8 11.4l7.6 7.6m0 -7.6l-7.6 7.6M546.6 11.4v7.6M544 48l7.6 7.6m0 -7.6l-7.6 7.6M547.8 48v7.6M545.1 32.2l7.6 7.6m0 -7.6l-7.6 7.6M548.9 32.2v7.6M546.3 69.8l7.6 7.6m0 -7.6l-7.6 7.6M550.1 69.8v7.6M547.5 72.6l7.6 7.6m0 -7.6l-7.6 7.6M551.3 72.6v7.6M548.7 28.8l7.6 7.6m0 -7.6l-7.6 7.6M552.5 28.8v7.6M549.9 13.3l7.6 7.6m0 -7.6l-7.6 7.6M553.7 13.3v7.6M551 13.2l7.6 7.6m0 -7.6l-7.6 7.6M554.8 13.2v7.6M552.2 58.9l7.6 7.6m0 -7.6l-7.6 7.6M556 58.9v7.6M553.4 21.8l7.6 7.6m0 -7.6l-7.6 7.6M557.2 21.8v7.6M554.6 73.9l7.6 7.6m0 -7.6l-7.6 7.6M558.4 73.9v7.6M555.7 15l7.6 7.6m0 -7.6l-7.6 7.6M559.5 15v7.6M556.9 20.2l7.6 7.6m0 -7.6l-7.6 7.6M560.7 20.2v7.6M558.1 75.1l7.6 7.6m0 -7.6l-7.6 7.6M561.9 75.1v7.6M559.3 20.6l7.6 7.6m0 -7.6l-7.6 7.6M563.1 20.6v7.6M560.5 21.5l7.6 7.6m0 -7.6l-7.6 7.6M564.3 21.5v7.6M561.6 16.9l7.6 7.6m0 -7.6l-7.6 7.6M565.4 16.9v7.6M562.8 13.5l7.6 7.6m0 -7.6l-7.6 7.6M566.6 13.5v7.6M564 16.2l7.6 7.6m0 -7.6l-7.6 7.6M567.8 16.2v7.6M565.2 31.4l7.6 7.6m0 -7.6l-7.6 7.6M569 31.4v7.6M566.4 18.5l7.6 7.6m0 -7.6l-7.6 7.6M570.2 18.5v7.6M567.5 13.9l7.6 7.6m0 -7.6l-7.6 7.6M571.3 13.9v7.6M568.7 72.9l7.6 7.6m0 -7.6l-7.6 7.6M572.5 72.9v7.6M569.9 75.5l7.6 7.6m0 -7.6l-7.6 7.6M573.7 75.5v7.6M571.1 54.8l7.6 7.6m0 -7.6l-7.6 7.6M574.9 54.8v7.6M572.2 59.2l7.6 7.6m0 -7.6l-7.6 7.6M576 59.2v7.6M573.4 72.5l7.6 7.6m0 -7.6l-7.6 7.6M577.2 72.5v7.6M574.6 17.7l7.6 7.6m0 -7.6l-7.6 7.6M578.4 17.7v7.6M575.8 19.6l7.6 7.6m0 -7.6l-7.6 7.6M579.6 19.6v7.6M577 33.9l7.6 7.6m0 -7.6l-7.6 7.6M580.8 33.9v7.6M578.1 41.7l7.6 7.6m0 -7.6l-7.6 7.6M581.9 41.7v7.6M579.3 17.2l7.6 7.6m0 -7.6l-7.6 7.6M583.1 17.2v7.6M580.5 32.7l7.6 7.6m0 -7.6l-7.6 7.6M584.3 32.7v7.6M581.7 80.4l7.6 7.6m0 -7.6l-7.6 7.6M585.5 80.4v7.6M582.9 55.6l7.6 7.6m0 -7.6l-7.6 7.6M586.7 55.6v7.6M584 16.8l7.6 7.6m0 -7.6l-7.6 7.6M587.8 16.8v7.6M585.2 30.5l7.6 7.6m0 -7.6l-7.6 7.6M589 30.5v7.6M586.4 16.8l7.6 7.6m0 -7.6l-7.6 7.6M590.2 16.8v7.6M587.6 29.7l7.6 7.6m0 -7.6l-7.6 7.6M591.4 29.7v7.6M588.7 58l7.6 7.6m0 -7.6l-7.6 7.6M592.5 58v7.6M589.9 29.1l7.6 7.6m0 -7.6l-7.6 7.6M593.7 29.1v7.6M591.1 18.6l7.6 7.6m0 -7.6l-7.6 7.6M594.9 18.6v7.6M592.3 17.6l7.6 7.6m0 -7.6l-7.6 7.6M596.1 17.6v7.6M593.5 28.2l7.6 7.6m0 -7.6l-7.6 7.6M597.3 28.2v7.6M594.6 65.1l7.6 7.6m0 -7.6l-7.6 7.6M598.4 65.1v7.6M595.8 55l7.6 7.6m0 -7.6l-7.6 7.6M599.6 55v7.6M597 41.2l7.6 7.6m0 -7.6l-7.6 7.6M600.8 41.2v7.6M598.2 69.4l7.6 7.6m0 -7.6l-7.6 7.6M602 69.4v7.6M599.3 48.3l7.6 7.6m0 -7.6l-7.6 7.6M603.1 48.3v7.6M600.5 21.4l7.6 7.6m0 -7.6l-7.6 7.6M604.3 21.4v7.6M601.7 76.6l7.6 7.6m0 -7.6l-7.6 7.6M605.5 76.6v7.6M602.9 42.1l7.6 7.6m0 -7.6l-7.6 7.6M606.7 42.1v7.6M604.1 22.4l7.6 7.6m0 -7.6l-7.6 7.6M607.9 22.4v7.6M605.2 38.5l7.6 7.6m0 -7.6l-7.6 7.6M609 38.5v7.6M606.4 21.8l7.6 7.6m0 -7.6l-7.6 7.6M610.2 21.8v7.6M607.6 23l7.6 7.6m0 -7.6l-7.6 7.6M611.4 23v7.6M608.8 34.4l7.6 7.6m0 -7.6l-7.6 7.6M612.6 34.4v7.6M610 73.9l7.6 7.6m0 -7.6l-7.6 7.6M613.8 73.9v7.6M611.1 77.9l7.6 7.6m0 -7.6l-7.6 7.6M614.9 77.9v7.6M612.3 74.5l7.6 7.6m0 -7.6l-7.6 7.6M616.1 74.5v7.6M613.5 55.8l7.6 7.6m0 -7.6l-7.6 7.6M617.3 55.8v7.6M614.7 82.8l7.6 7.6m0 -7.6l-7.6 7.6M618.5 82.8v7.6M615.8 77.1l7.6 7.6m0 -7.6l-7.6 7.6M619.6 77.1v7.6M617 36l7.6 7.6m0 -7.6l-7.6 7.6M620.8 36v7.6M618.2 78.1l7.6 7.6m0 -7.6l-7.6 7.6M622 78.1v7.6M619.4 74.2l7.6 7.6m0 -7.6l-7.6 7.6M623.2 74.2v7.6M620.6 79l7.6 7.6m0 -7.6l-7.6 7.6M624.4 79v7.6M621.7 81.6l7.6 7.6m0 -7.6l-7.6 7.6M625.5 81.6v7.6M622.9 32.6l7.6 7.6m0 -7.6l-7.6 7.6M626.7 32.6v7.6M624.1 89.4l7.6 7.6m0 -7.6l-7.6 7.6M627.9 89.4v7.6M625.3 78.7l7.6 7.6m0 -7.6l-7.6 7.6M629.1 78.7v7.6M626.5 56.1l7.6 7.6m0 -7.6l-7.6 7.6M630.3 56.1v7.6M627.6 64.7l7.6 7.6m0 -7.6l-7.6 7.6M631.4 64.7v7.6M628.8 82.5l7.6 7.6m0 -7.6l-7.6 7.6M632.6 82.5v7.6M630 94.1l7.6 7.6m0 -7.6l-7.6 7.6M633.8 94.1v7.6M631.2 91l7.6 7.6m0 -7.6l-7.6 7.6M635 91v7.6M632.3 98.4l7.6 7.6m0 -7.6l-7.6 7.6M636.1 98.4v7.6M633.5 57.7l7.6 7.6m0 -7.6l-7.6 7.6M637.3 57.7v7.6M634.7 97.8l7.6 7.6m0 -7.6l-7.6 7.6M638.5 97.8v7.6M635.9 51.6l7.6 7.6m0 -7.6l-7.6 7.6M639.7 51.6v7.6M637.1 89.9l7.6 7.6m0 -7.6l-7.6 7.6M640.9 89.9v7.6M638.2 93.4l7.6 7.6m0 -7.6l-7.6 7.6M642 93.4v7.6M639.4 95.8l7.6 7.6m0 -7.6l-7.6 7.6M643.2 95.8v7.6M640.6 61.6l7.6 7.6m0 -7.6l-7.6 7.6M644.4 61.6v7.6M641.8 64.8l7.6 7.6m0 -7.6l-7.6 7.6M645.6 64.8v7.6M642.9 105l7.6 7.6m0 -7.6l-7.6 7.6M646.7 105v7.6M644.1 98.8l7.6 7.6m0 -7.6l-7.6 7.6M647.9 98.8v7.6M645.3 104.2l7.6 7.6m0 -7.6l-7.6 7.6M649.1 104.2v7.6M646.5 99.3l7.6 7.6m0 -7.6l-7.6 7.6M650.3 99.3v7.6M647.7 60l7.6 7.6m0 -7.6l-7.6 7.6M651.5 60v7.6M648.8 54.4l7.6 7.6m0 -7.6l-7.6 7.6M652.6 54.4v7.6"/>
<g class="t" font-family="Liberation Sans, sans-serif" font-size="10" fill="#111" stroke="#111" stroke-width="0.25"><text x="38.8" y="9.60" text-anchor="end">1</text><text x="38.8" y="40.43" text-anchor="end">0.9</text><text x="38.8" y="71.27" text-anchor="end">0.8</text><text x="38.8" y="102.10" text-anchor="end">0.7</text><text x="38.8" y="132.93" text-anchor="end">0.6</text><text x="38.8" y="163.77" text-anchor="end">0.5</text><text x="38.8" y="194.60" text-anchor="end">0.4</text><text x="49.30" y="208.8" text-anchor="middle">0</text><text x="167.14" y="208.8" text-anchor="middle">100</text><text x="284.98" y="208.8" text-anchor="middle">200</text><text x="402.82" y="208.8" text-anchor="middle">300</text><text x="520.66" y="208.8" text-anchor="middle">400</text><text x="638.50" y="208.8" text-anchor="middle">500</text></g>
<g class="t" font-family="Liberation Sans, sans-serif" font-weight="bold" fill="#111"><text x="297.4" y="227.0" font-size="13.9" textLength="55.9" lengthAdjust="spacingAndGlyphs">Imputed</text><text x="356.6" y="227.0" font-size="13.9" textLength="51.0" lengthAdjust="spacingAndGlyphs">animals</text><text transform="translate(12.3,98.8) rotate(-90)" text-anchor="middle" font-size="13.7">Imputation accuracy(CR)</text></g>
<path fill="#656565" d="M204.50 240.80l3.30 3.30l-3.30 3.30l-3.30 -3.30z"/><path fill="#9e302e" d="M266.80 240.80l3.30 3.30l-3.30 3.30l-3.30 -3.30z"/><path fill="#3d7bd6" stroke="#6e6e6e" stroke-width="1.0" d="M329.1 240.7l3.5 6.6h-7z"/><path fill="none" stroke="#000" stroke-width="1.4" d="M387.8 240.6l7 7m0 -7l-7 7"/><path fill="none" stroke="#78963a" stroke-width="1.4" d="M456 240.6l7 7m0 -7l-7 7M459.5 240.6v7"/><g class="t" font-family="Liberation Sans, sans-serif" font-size="9.7" fill="#111" stroke="#111" stroke-width="0.2"><text x="210.6" y="247.3">7_5K50K</text><text x="272.4" y="247.3">8_5K50K</text><text x="334.7" y="247.3">9_5K50K</text><text x="397.7" y="247.3">10_5K50K</text><text x="465.6" y="247.3">11_5K50K</text></g>
</svg>
</body></html>
